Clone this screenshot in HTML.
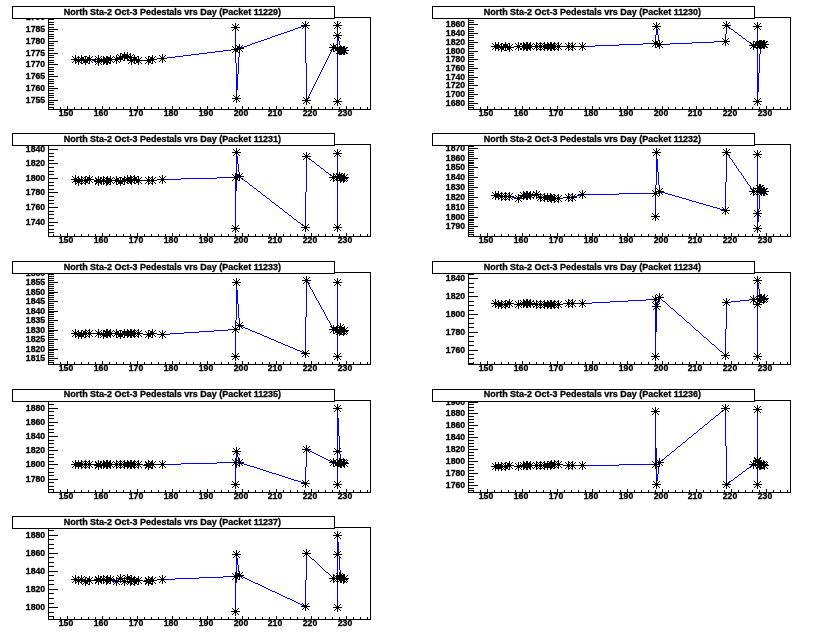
<!DOCTYPE html>
<html><head><meta charset="utf-8"><title>North Sta-2 Oct-3 Pedestals vrs Day</title>
<style>
html,body{margin:0;padding:0;background:#fff;}
svg{display:block;}
text{font-family:"Liberation Sans", Arial, Helvetica, sans-serif;font-weight:bold;fill:#000;stroke:#000;stroke-width:0.3px;}
.tt{font-size:8.97px;}
.yl{font-size:8.7px;}
.xl{font-size:8.7px;}
</style></head><body>
<svg width="840" height="638" viewBox="0 0 840 638" shape-rendering="crispEdges">
<rect x="0" y="0" width="840" height="638" fill="#fff"/>
<rect x="48.5" y="17.5" width="322" height="92" fill="none" stroke="#000" stroke-width="1"/>
<path d="M53 107h1v2h-1zM60 107h1v2h-1zM67 106h1v3h-1zM74 107h1v2h-1zM81 107h1v2h-1zM88 107h1v2h-1zM95 107h1v2h-1zM102 106h1v3h-1zM109 107h1v2h-1zM116 107h1v2h-1zM123 107h1v2h-1zM130 107h1v2h-1zM137 106h1v3h-1zM144 107h1v2h-1zM151 107h1v2h-1zM158 107h1v2h-1zM165 107h1v2h-1zM172 106h1v3h-1zM179 107h1v2h-1zM186 107h1v2h-1zM193 107h1v2h-1zM200 107h1v2h-1zM207 106h1v3h-1zM214 107h1v2h-1zM221 107h1v2h-1zM228 107h1v2h-1zM235 107h1v2h-1zM242 106h1v3h-1zM248 107h1v2h-1zM255 107h1v2h-1zM262 107h1v2h-1zM269 107h1v2h-1zM276 106h1v3h-1zM283 107h1v2h-1zM290 107h1v2h-1zM297 107h1v2h-1zM304 107h1v2h-1zM311 106h1v3h-1zM318 107h1v2h-1zM325 107h1v2h-1zM332 107h1v2h-1zM339 107h1v2h-1zM346 106h1v3h-1zM353 107h1v2h-1zM360 107h1v2h-1zM367 107h1v2h-1zM49 107h5v1h-5zM49 104h5v1h-5zM49 102h5v1h-5zM49 100h9v1h-9zM49 97h5v1h-5zM49 95h5v1h-5zM49 93h5v1h-5zM49 90h5v1h-5zM49 88h9v1h-9zM49 86h5v1h-5zM49 83h5v1h-5zM49 81h5v1h-5zM49 79h5v1h-5zM49 76h9v1h-9zM49 74h5v1h-5zM49 71h5v1h-5zM49 69h5v1h-5zM49 67h5v1h-5zM49 64h9v1h-9zM49 62h5v1h-5zM49 60h5v1h-5zM49 57h5v1h-5zM49 55h5v1h-5zM49 53h9v1h-9zM49 50h5v1h-5zM49 48h5v1h-5zM49 45h5v1h-5zM49 43h5v1h-5zM49 41h9v1h-9zM49 38h5v1h-5zM49 36h5v1h-5zM49 34h5v1h-5zM49 31h5v1h-5zM49 29h9v1h-9zM49 27h5v1h-5zM49 24h5v1h-5zM49 22h5v1h-5zM49 19h5v1h-5z" fill="#000"/>
<text x="45.2" y="103.0" text-anchor="end" class="yl">1755</text>
<text x="45.2" y="91.0" text-anchor="end" class="yl">1760</text>
<text x="45.2" y="79.0" text-anchor="end" class="yl">1765</text>
<text x="45.2" y="67.0" text-anchor="end" class="yl">1770</text>
<text x="45.2" y="56.0" text-anchor="end" class="yl">1775</text>
<text x="45.2" y="44.0" text-anchor="end" class="yl">1780</text>
<text x="45.2" y="32.0" text-anchor="end" class="yl">1785</text>
<text x="45.2" y="20.0" text-anchor="end" class="yl">1790</text>
<text x="66.0" y="116.2" text-anchor="middle" class="xl">150</text>
<text x="101.0" y="116.2" text-anchor="middle" class="xl">160</text>
<text x="136.0" y="116.2" text-anchor="middle" class="xl">170</text>
<text x="171.0" y="116.2" text-anchor="middle" class="xl">180</text>
<text x="206.0" y="116.2" text-anchor="middle" class="xl">190</text>
<text x="241.0" y="116.2" text-anchor="middle" class="xl">200</text>
<text x="275.0" y="116.2" text-anchor="middle" class="xl">210</text>
<text x="310.0" y="116.2" text-anchor="middle" class="xl">220</text>
<text x="345.0" y="116.2" text-anchor="middle" class="xl">230</text>
<path d="M304 25h2v1h-2zM337 25h1v1h-1zM301 26h3v1h-3zM305 26h1v1h-1zM337 26h1v1h-1zM235 27h1v1h-1zM298 27h3v1h-3zM305 27h1v1h-1zM337 27h1v1h-1zM235 28h1v1h-1zM295 28h3v1h-3zM305 28h1v1h-1zM337 28h1v1h-1zM235 29h1v1h-1zM293 29h2v1h-2zM305 29h1v1h-1zM337 29h1v1h-1zM235 30h1v1h-1zM290 30h3v1h-3zM305 30h1v1h-1zM337 30h1v1h-1zM235 31h1v1h-1zM287 31h3v1h-3zM305 31h1v1h-1zM337 31h1v1h-1zM235 32h1v1h-1zM284 32h3v1h-3zM305 32h1v1h-1zM337 32h1v1h-1zM235 33h1v1h-1zM281 33h3v1h-3zM305 33h1v1h-1zM337 33h1v1h-1zM235 34h1v1h-1zM278 34h3v1h-3zM305 34h1v1h-1zM337 34h1v1h-1zM235 35h1v1h-1zM275 35h3v1h-3zM305 35h1v1h-1zM337 35h1v1h-1zM235 36h1v1h-1zM272 36h3v1h-3zM305 36h1v1h-1zM337 36h1v1h-1zM235 37h1v1h-1zM270 37h2v1h-2zM305 37h1v1h-1zM337 37h2v1h-2zM235 38h1v1h-1zM267 38h3v1h-3zM305 38h1v1h-1zM337 38h2v1h-2zM235 39h1v1h-1zM264 39h3v1h-3zM305 39h1v1h-1zM337 39h2v1h-2zM235 40h1v1h-1zM261 40h3v1h-3zM305 40h1v1h-1zM337 40h2v1h-2zM235 41h1v1h-1zM258 41h3v1h-3zM305 41h1v1h-1zM337 41h1v1h-1zM339 41h1v1h-1zM235 42h1v1h-1zM255 42h3v1h-3zM305 42h1v1h-1zM337 42h1v1h-1zM339 42h1v1h-1zM235 43h1v1h-1zM252 43h3v1h-3zM305 43h1v1h-1zM337 43h1v1h-1zM339 43h1v1h-1zM235 44h1v1h-1zM250 44h2v1h-2zM305 44h1v1h-1zM337 44h1v1h-1zM339 44h1v1h-1zM235 45h1v1h-1zM247 45h3v1h-3zM305 45h1v1h-1zM337 45h1v1h-1zM340 45h1v1h-1zM235 46h1v1h-1zM244 46h3v1h-3zM305 46h1v1h-1zM337 46h1v1h-1zM340 46h1v1h-1zM235 47h1v1h-1zM241 47h3v1h-3zM305 47h1v1h-1zM333 47h2v1h-2zM337 47h1v1h-1zM340 47h1v1h-1zM235 48h1v1h-1zM239 48h2v1h-2zM305 48h1v1h-1zM332 48h1v1h-1zM335 48h3v1h-3zM340 48h1v1h-1zM231 49h5v1h-5zM239 49h1v1h-1zM305 49h1v1h-1zM332 49h1v1h-1zM337 49h1v1h-1zM341 49h1v1h-1zM223 50h8v1h-8zM235 50h1v1h-1zM239 50h1v1h-1zM305 50h1v1h-1zM331 50h1v1h-1zM337 50h1v1h-1zM339 50h6v1h-6zM215 51h8v1h-8zM235 51h1v1h-1zM239 51h1v1h-1zM305 51h1v1h-1zM331 51h1v1h-1zM337 51h1v1h-1zM207 52h8v1h-8zM235 52h1v1h-1zM239 52h1v1h-1zM305 52h1v1h-1zM330 52h1v1h-1zM337 52h1v1h-1zM199 53h8v1h-8zM235 53h1v1h-1zM239 53h1v1h-1zM305 53h1v1h-1zM330 53h1v1h-1zM337 53h1v1h-1zM191 54h8v1h-8zM235 54h1v1h-1zM239 54h1v1h-1zM305 54h1v1h-1zM329 54h1v1h-1zM337 54h1v1h-1zM183 55h8v1h-8zM235 55h1v1h-1zM239 55h1v1h-1zM305 55h1v1h-1zM329 55h1v1h-1zM337 55h1v1h-1zM122 56h7v1h-7zM175 56h8v1h-8zM235 56h1v1h-1zM239 56h1v1h-1zM305 56h1v1h-1zM328 56h1v1h-1zM337 56h1v1h-1zM119 57h3v1h-3zM129 57h2v1h-2zM167 57h8v1h-8zM235 57h1v1h-1zM238 57h1v1h-1zM305 57h1v1h-1zM328 57h1v1h-1zM337 57h1v1h-1zM117 58h2v1h-2zM130 58h1v1h-1zM157 58h10v1h-10zM235 58h1v1h-1zM238 58h1v1h-1zM305 58h1v1h-1zM327 58h1v1h-1zM337 58h1v1h-1zM75 59h2v1h-2zM80 59h3v1h-3zM87 59h5v1h-5zM98 59h3v1h-3zM109 59h8v1h-8zM131 59h1v1h-1zM133 59h3v1h-3zM150 59h7v1h-7zM235 59h1v1h-1zM238 59h1v1h-1zM305 59h1v1h-1zM327 59h1v1h-1zM337 59h1v1h-1zM77 60h3v1h-3zM83 60h4v1h-4zM92 60h4v1h-4zM98 60h1v1h-1zM101 60h8v1h-8zM131 60h2v1h-2zM136 60h14v1h-14zM235 60h1v1h-1zM238 60h1v1h-1zM305 60h1v1h-1zM326 60h1v1h-1zM337 60h1v1h-1zM96 61h3v1h-3zM235 61h1v1h-1zM238 61h1v1h-1zM305 61h1v1h-1zM326 61h1v1h-1zM337 61h1v1h-1zM235 62h1v1h-1zM238 62h1v1h-1zM305 62h1v1h-1zM325 62h1v1h-1zM337 62h1v1h-1zM236 63h1v1h-1zM238 63h1v1h-1zM306 63h1v1h-1zM325 63h1v1h-1zM337 63h1v1h-1zM236 64h1v1h-1zM238 64h1v1h-1zM306 64h1v1h-1zM324 64h1v1h-1zM337 64h1v1h-1zM236 65h1v1h-1zM238 65h1v1h-1zM306 65h1v1h-1zM324 65h1v1h-1zM337 65h1v1h-1zM236 66h1v1h-1zM238 66h1v1h-1zM306 66h1v1h-1zM323 66h1v1h-1zM337 66h1v1h-1zM236 67h1v1h-1zM238 67h1v1h-1zM306 67h1v1h-1zM323 67h1v1h-1zM337 67h1v1h-1zM236 68h1v1h-1zM238 68h1v1h-1zM306 68h1v1h-1zM322 68h1v1h-1zM337 68h1v1h-1zM236 69h1v1h-1zM238 69h1v1h-1zM306 69h1v1h-1zM322 69h1v1h-1zM337 69h1v1h-1zM236 70h1v1h-1zM238 70h1v1h-1zM306 70h1v1h-1zM321 70h1v1h-1zM337 70h1v1h-1zM236 71h1v1h-1zM238 71h1v1h-1zM306 71h1v1h-1zM321 71h1v1h-1zM337 71h1v1h-1zM236 72h1v1h-1zM238 72h1v1h-1zM306 72h1v1h-1zM320 72h1v1h-1zM337 72h1v1h-1zM236 73h1v1h-1zM238 73h1v1h-1zM306 73h1v1h-1zM320 73h1v1h-1zM337 73h1v1h-1zM236 74h2v1h-2zM306 74h1v1h-1zM319 74h1v1h-1zM337 74h1v1h-1zM236 75h2v1h-2zM306 75h1v1h-1zM319 75h1v1h-1zM337 75h1v1h-1zM236 76h2v1h-2zM306 76h1v1h-1zM318 76h1v1h-1zM337 76h1v1h-1zM236 77h2v1h-2zM306 77h1v1h-1zM318 77h1v1h-1zM337 77h1v1h-1zM236 78h2v1h-2zM306 78h1v1h-1zM317 78h1v1h-1zM337 78h1v1h-1zM236 79h2v1h-2zM306 79h1v1h-1zM317 79h1v1h-1zM337 79h1v1h-1zM236 80h2v1h-2zM306 80h1v1h-1zM316 80h1v1h-1zM337 80h1v1h-1zM236 81h2v1h-2zM306 81h1v1h-1zM316 81h1v1h-1zM337 81h1v1h-1zM236 82h2v1h-2zM306 82h1v1h-1zM315 82h1v1h-1zM337 82h1v1h-1zM236 83h2v1h-2zM306 83h1v1h-1zM315 83h1v1h-1zM337 83h1v1h-1zM236 84h2v1h-2zM306 84h1v1h-1zM314 84h1v1h-1zM337 84h1v1h-1zM236 85h2v1h-2zM306 85h1v1h-1zM314 85h1v1h-1zM337 85h1v1h-1zM236 86h2v1h-2zM306 86h1v1h-1zM313 86h1v1h-1zM337 86h1v1h-1zM236 87h2v1h-2zM306 87h1v1h-1zM313 87h1v1h-1zM337 87h1v1h-1zM236 88h2v1h-2zM306 88h1v1h-1zM312 88h1v1h-1zM337 88h1v1h-1zM236 89h2v1h-2zM306 89h1v1h-1zM312 89h1v1h-1zM337 89h1v1h-1zM236 90h1v1h-1zM306 90h1v1h-1zM311 90h1v1h-1zM337 90h1v1h-1zM236 91h1v1h-1zM306 91h1v1h-1zM311 91h1v1h-1zM337 91h1v1h-1zM236 92h1v1h-1zM306 92h1v1h-1zM310 92h1v1h-1zM337 92h1v1h-1zM236 93h1v1h-1zM306 93h1v1h-1zM310 93h1v1h-1zM337 93h1v1h-1zM236 94h1v1h-1zM306 94h1v1h-1zM309 94h1v1h-1zM337 94h1v1h-1zM236 95h1v1h-1zM306 95h1v1h-1zM309 95h1v1h-1zM337 95h1v1h-1zM236 96h1v1h-1zM306 96h1v1h-1zM308 96h1v1h-1zM337 96h1v1h-1zM236 97h1v1h-1zM306 97h1v1h-1zM308 97h1v1h-1zM337 97h1v1h-1zM236 98h1v1h-1zM306 98h2v1h-2zM337 98h1v1h-1zM306 99h2v1h-2zM337 99h1v1h-1zM306 100h1v1h-1zM337 100h1v1h-1zM337 101h1v1h-1z" fill="#0000ff"/>
<path d="M71 59h9v1h-9z M75 55h1v9h-1z M74 58h3v3h-3z M73 57h1v1h-1z M73 61h1v1h-1z M77 57h1v1h-1z M77 61h1v1h-1z M72 56h1v1h-1z M72 62h1v1h-1z M78 56h1v1h-1z M78 62h1v1h-1z M74 60h9v1h-9z M78 56h1v9h-1z M77 59h3v3h-3z M76 58h1v1h-1z M76 62h1v1h-1z M80 58h1v1h-1z M80 62h1v1h-1z M75 57h1v1h-1z M75 63h1v1h-1z M81 57h1v1h-1z M81 63h1v1h-1z M77 59h9v1h-9z M81 55h1v9h-1z M80 58h3v3h-3z M79 57h1v1h-1z M79 61h1v1h-1z M83 57h1v1h-1z M83 61h1v1h-1z M78 56h1v1h-1z M78 62h1v1h-1z M84 56h1v1h-1z M84 62h1v1h-1z M81 60h9v1h-9z M85 56h1v9h-1z M84 59h3v3h-3z M83 58h1v1h-1z M83 62h1v1h-1z M87 58h1v1h-1z M87 62h1v1h-1z M82 57h1v1h-1z M82 63h1v1h-1z M88 57h1v1h-1z M88 63h1v1h-1z M85 59h9v1h-9z M89 55h1v9h-1z M88 58h3v3h-3z M87 57h1v1h-1z M87 61h1v1h-1z M91 57h1v1h-1z M91 61h1v1h-1z M86 56h1v1h-1z M86 62h1v1h-1z M92 56h1v1h-1z M92 62h1v1h-1z M94 61h9v1h-9z M98 57h1v9h-1z M97 60h3v3h-3z M96 59h1v1h-1z M96 63h1v1h-1z M100 59h1v1h-1z M100 63h1v1h-1z M95 58h1v1h-1z M95 64h1v1h-1z M101 58h1v1h-1z M101 64h1v1h-1z M94 59h9v1h-9z M98 55h1v9h-1z M97 58h3v3h-3z M96 57h1v1h-1z M96 61h1v1h-1z M100 57h1v1h-1z M100 61h1v1h-1z M95 56h1v1h-1z M95 62h1v1h-1z M101 56h1v1h-1z M101 62h1v1h-1z M99 60h9v1h-9z M103 56h1v9h-1z M102 59h3v3h-3z M101 58h1v1h-1z M101 62h1v1h-1z M105 58h1v1h-1z M105 62h1v1h-1z M100 57h1v1h-1z M100 63h1v1h-1z M106 57h1v1h-1z M106 63h1v1h-1z M102 60h9v1h-9z M106 56h1v9h-1z M105 59h3v3h-3z M104 58h1v1h-1z M104 62h1v1h-1z M108 58h1v1h-1z M108 62h1v1h-1z M103 57h1v1h-1z M103 63h1v1h-1z M109 57h1v1h-1z M109 63h1v1h-1z M103 60h9v1h-9z M107 56h1v9h-1z M106 59h3v3h-3z M105 58h1v1h-1z M105 62h1v1h-1z M109 58h1v1h-1z M109 62h1v1h-1z M104 57h1v1h-1z M104 63h1v1h-1z M110 57h1v1h-1z M110 63h1v1h-1z M106 59h9v1h-9z M110 55h1v9h-1z M109 58h3v3h-3z M108 57h1v1h-1z M108 61h1v1h-1z M112 57h1v1h-1z M112 61h1v1h-1z M107 56h1v1h-1z M107 62h1v1h-1z M113 56h1v1h-1z M113 62h1v1h-1z M112 59h9v1h-9z M116 55h1v9h-1z M115 58h3v3h-3z M114 57h1v1h-1z M114 61h1v1h-1z M118 57h1v1h-1z M118 61h1v1h-1z M113 56h1v1h-1z M113 62h1v1h-1z M119 56h1v1h-1z M119 62h1v1h-1z M116 57h9v1h-9z M120 53h1v9h-1z M119 56h3v3h-3z M118 55h1v1h-1z M118 59h1v1h-1z M122 55h1v1h-1z M122 59h1v1h-1z M117 54h1v1h-1z M117 60h1v1h-1z M123 54h1v1h-1z M123 60h1v1h-1z M120 56h9v1h-9z M124 52h1v9h-1z M123 55h3v3h-3z M122 54h1v1h-1z M122 58h1v1h-1z M126 54h1v1h-1z M126 58h1v1h-1z M121 53h1v1h-1z M121 59h1v1h-1z M127 53h1v1h-1z M127 59h1v1h-1z M123 56h9v1h-9z M127 52h1v9h-1z M126 55h3v3h-3z M125 54h1v1h-1z M125 58h1v1h-1z M129 54h1v1h-1z M129 58h1v1h-1z M124 53h1v1h-1z M124 59h1v1h-1z M130 53h1v1h-1z M130 59h1v1h-1z M126 57h9v1h-9z M130 53h1v9h-1z M129 56h3v3h-3z M128 55h1v1h-1z M128 59h1v1h-1z M132 55h1v1h-1z M132 59h1v1h-1z M127 54h1v1h-1z M127 60h1v1h-1z M133 54h1v1h-1z M133 60h1v1h-1z M127 60h9v1h-9z M131 56h1v9h-1z M130 59h3v3h-3z M129 58h1v1h-1z M129 62h1v1h-1z M133 58h1v1h-1z M133 62h1v1h-1z M128 57h1v1h-1z M128 63h1v1h-1z M134 57h1v1h-1z M134 63h1v1h-1z M130 59h9v1h-9z M134 55h1v9h-1z M133 58h3v3h-3z M132 57h1v1h-1z M132 61h1v1h-1z M136 57h1v1h-1z M136 61h1v1h-1z M131 56h1v1h-1z M131 62h1v1h-1z M137 56h1v1h-1z M137 62h1v1h-1z M134 60h9v1h-9z M138 56h1v9h-1z M137 59h3v3h-3z M136 58h1v1h-1z M136 62h1v1h-1z M140 58h1v1h-1z M140 62h1v1h-1z M135 57h1v1h-1z M135 63h1v1h-1z M141 57h1v1h-1z M141 63h1v1h-1z M144 60h9v1h-9z M148 56h1v9h-1z M147 59h3v3h-3z M146 58h1v1h-1z M146 62h1v1h-1z M150 58h1v1h-1z M150 62h1v1h-1z M145 57h1v1h-1z M145 63h1v1h-1z M151 57h1v1h-1z M151 63h1v1h-1z M144 60h9v1h-9z M148 56h1v9h-1z M147 59h3v3h-3z M146 58h1v1h-1z M146 62h1v1h-1z M150 58h1v1h-1z M150 62h1v1h-1z M145 57h1v1h-1z M145 63h1v1h-1z M151 57h1v1h-1z M151 63h1v1h-1z M148 59h9v1h-9z M152 55h1v9h-1z M151 58h3v3h-3z M150 57h1v1h-1z M150 61h1v1h-1z M154 57h1v1h-1z M154 61h1v1h-1z M149 56h1v1h-1z M149 62h1v1h-1z M155 56h1v1h-1z M155 62h1v1h-1z M158 58h9v1h-9z M162 54h1v9h-1z M161 57h3v3h-3z M160 56h1v1h-1z M160 60h1v1h-1z M164 56h1v1h-1z M164 60h1v1h-1z M159 55h1v1h-1z M159 61h1v1h-1z M165 55h1v1h-1z M165 61h1v1h-1z M231 49h9v1h-9z M235 45h1v9h-1z M234 48h3v3h-3z M233 47h1v1h-1z M233 51h1v1h-1z M237 47h1v1h-1z M237 51h1v1h-1z M232 46h1v1h-1z M232 52h1v1h-1z M238 46h1v1h-1z M238 52h1v1h-1z M231 27h9v1h-9z M235 23h1v9h-1z M234 26h3v3h-3z M233 25h1v1h-1z M233 29h1v1h-1z M237 25h1v1h-1z M237 29h1v1h-1z M232 24h1v1h-1z M232 30h1v1h-1z M238 24h1v1h-1z M238 30h1v1h-1z M232 98h9v1h-9z M236 94h1v9h-1z M235 97h3v3h-3z M234 96h1v1h-1z M234 100h1v1h-1z M238 96h1v1h-1z M238 100h1v1h-1z M233 95h1v1h-1z M233 101h1v1h-1z M239 95h1v1h-1z M239 101h1v1h-1z M235 48h9v1h-9z M239 44h1v9h-1z M238 47h3v3h-3z M237 46h1v1h-1z M237 50h1v1h-1z M241 46h1v1h-1z M241 50h1v1h-1z M236 45h1v1h-1z M236 51h1v1h-1z M242 45h1v1h-1z M242 51h1v1h-1z M301 25h9v1h-9z M305 21h1v9h-1z M304 24h3v3h-3z M303 23h1v1h-1z M303 27h1v1h-1z M307 23h1v1h-1z M307 27h1v1h-1z M302 22h1v1h-1z M302 28h1v1h-1z M308 22h1v1h-1z M308 28h1v1h-1z M302 100h9v1h-9z M306 96h1v9h-1z M305 99h3v3h-3z M304 98h1v1h-1z M304 102h1v1h-1z M308 98h1v1h-1z M308 102h1v1h-1z M303 97h1v1h-1z M303 103h1v1h-1z M309 97h1v1h-1z M309 103h1v1h-1z M329 47h9v1h-9z M333 43h1v9h-1z M332 46h3v3h-3z M331 45h1v1h-1z M331 49h1v1h-1z M335 45h1v1h-1z M335 49h1v1h-1z M330 44h1v1h-1z M330 50h1v1h-1z M336 44h1v1h-1z M336 50h1v1h-1z M333 48h9v1h-9z M337 44h1v9h-1z M336 47h3v3h-3z M335 46h1v1h-1z M335 50h1v1h-1z M339 46h1v1h-1z M339 50h1v1h-1z M334 45h1v1h-1z M334 51h1v1h-1z M340 45h1v1h-1z M340 51h1v1h-1z M333 101h9v1h-9z M337 97h1v9h-1z M336 100h3v3h-3z M335 99h1v1h-1z M335 103h1v1h-1z M339 99h1v1h-1z M339 103h1v1h-1z M334 98h1v1h-1z M334 104h1v1h-1z M340 98h1v1h-1z M340 104h1v1h-1z M333 25h9v1h-9z M337 21h1v9h-1z M336 24h3v3h-3z M335 23h1v1h-1z M335 27h1v1h-1z M339 23h1v1h-1z M339 27h1v1h-1z M334 22h1v1h-1z M334 28h1v1h-1z M340 22h1v1h-1z M340 28h1v1h-1z M333 35h9v1h-9z M337 31h1v9h-1z M336 34h3v3h-3z M335 33h1v1h-1z M335 37h1v1h-1z M339 33h1v1h-1z M339 37h1v1h-1z M334 32h1v1h-1z M334 38h1v1h-1z M340 32h1v1h-1z M340 38h1v1h-1z M337 50h9v1h-9z M341 46h1v9h-1z M340 49h3v3h-3z M339 48h1v1h-1z M339 52h1v1h-1z M343 48h1v1h-1z M343 52h1v1h-1z M338 47h1v1h-1z M338 53h1v1h-1z M344 47h1v1h-1z M344 53h1v1h-1z M335 50h9v1h-9z M339 46h1v9h-1z M338 49h3v3h-3z M337 48h1v1h-1z M337 52h1v1h-1z M341 48h1v1h-1z M341 52h1v1h-1z M336 47h1v1h-1z M336 53h1v1h-1z M342 47h1v1h-1z M342 53h1v1h-1z M336 50h9v1h-9z M340 46h1v9h-1z M339 49h3v3h-3z M338 48h1v1h-1z M338 52h1v1h-1z M342 48h1v1h-1z M342 52h1v1h-1z M337 47h1v1h-1z M337 53h1v1h-1z M343 47h1v1h-1z M343 53h1v1h-1z M339 50h9v1h-9z M343 46h1v9h-1z M342 49h3v3h-3z M341 48h1v1h-1z M341 52h1v1h-1z M345 48h1v1h-1z M345 52h1v1h-1z M340 47h1v1h-1z M340 53h1v1h-1z M346 47h1v1h-1z M346 53h1v1h-1z M340 50h9v1h-9z M344 46h1v9h-1z M343 49h3v3h-3z M342 48h1v1h-1z M342 52h1v1h-1z M346 48h1v1h-1z M346 52h1v1h-1z M341 47h1v1h-1z M341 53h1v1h-1z M347 47h1v1h-1z M347 53h1v1h-1z" fill="#000"/>
<rect x="12.5" y="6.5" width="322" height="12" fill="#fff" stroke="#000" stroke-width="1"/>
<text x="172.4" y="14.8" text-anchor="middle" class="tt">North Sta-2 Oct-3 Pedestals vrs Day (Packet 11229)</text>
<rect x="468.5" y="17.5" width="322" height="92" fill="none" stroke="#000" stroke-width="1"/>
<path d="M473 107h1v2h-1zM480 107h1v2h-1zM487 106h1v3h-1zM494 107h1v2h-1zM501 107h1v2h-1zM508 107h1v2h-1zM515 107h1v2h-1zM522 106h1v3h-1zM529 107h1v2h-1zM536 107h1v2h-1zM543 107h1v2h-1zM550 107h1v2h-1zM557 106h1v3h-1zM564 107h1v2h-1zM571 107h1v2h-1zM578 107h1v2h-1zM585 107h1v2h-1zM592 106h1v3h-1zM599 107h1v2h-1zM606 107h1v2h-1zM613 107h1v2h-1zM620 107h1v2h-1zM627 106h1v3h-1zM634 107h1v2h-1zM641 107h1v2h-1zM648 107h1v2h-1zM655 107h1v2h-1zM662 106h1v3h-1zM668 107h1v2h-1zM675 107h1v2h-1zM682 107h1v2h-1zM689 107h1v2h-1zM696 106h1v3h-1zM703 107h1v2h-1zM710 107h1v2h-1zM717 107h1v2h-1zM724 107h1v2h-1zM731 106h1v3h-1zM738 107h1v2h-1zM745 107h1v2h-1zM752 107h1v2h-1zM759 107h1v2h-1zM766 106h1v3h-1zM773 107h1v2h-1zM780 107h1v2h-1zM787 107h1v2h-1zM469 107h5v1h-5zM469 105h5v1h-5zM469 103h9v1h-9zM469 101h5v1h-5zM469 98h5v1h-5zM469 96h5v1h-5zM469 94h9v1h-9zM469 92h5v1h-5zM469 90h5v1h-5zM469 88h5v1h-5zM469 85h9v1h-9zM469 83h5v1h-5zM469 81h5v1h-5zM469 79h5v1h-5zM469 77h9v1h-9zM469 75h5v1h-5zM469 72h5v1h-5zM469 70h5v1h-5zM469 68h9v1h-9zM469 66h5v1h-5zM469 64h5v1h-5zM469 61h5v1h-5zM469 59h9v1h-9zM469 57h5v1h-5zM469 55h5v1h-5zM469 53h5v1h-5zM469 51h9v1h-9zM469 48h5v1h-5zM469 46h5v1h-5zM469 44h5v1h-5zM469 42h9v1h-9zM469 40h5v1h-5zM469 37h5v1h-5zM469 35h5v1h-5zM469 33h9v1h-9zM469 31h5v1h-5zM469 29h5v1h-5zM469 27h5v1h-5zM469 24h9v1h-9zM469 22h5v1h-5zM469 20h5v1h-5zM469 18h5v1h-5z" fill="#000"/>
<text x="465.2" y="106.0" text-anchor="end" class="yl">1680</text>
<text x="465.2" y="97.0" text-anchor="end" class="yl">1700</text>
<text x="465.2" y="88.0" text-anchor="end" class="yl">1720</text>
<text x="465.2" y="80.0" text-anchor="end" class="yl">1740</text>
<text x="465.2" y="71.0" text-anchor="end" class="yl">1760</text>
<text x="465.2" y="62.0" text-anchor="end" class="yl">1780</text>
<text x="465.2" y="54.0" text-anchor="end" class="yl">1800</text>
<text x="465.2" y="45.0" text-anchor="end" class="yl">1820</text>
<text x="465.2" y="36.0" text-anchor="end" class="yl">1840</text>
<text x="465.2" y="27.0" text-anchor="end" class="yl">1860</text>
<text x="486.0" y="116.2" text-anchor="middle" class="xl">150</text>
<text x="521.0" y="116.2" text-anchor="middle" class="xl">160</text>
<text x="556.0" y="116.2" text-anchor="middle" class="xl">170</text>
<text x="591.0" y="116.2" text-anchor="middle" class="xl">180</text>
<text x="626.0" y="116.2" text-anchor="middle" class="xl">190</text>
<text x="661.0" y="116.2" text-anchor="middle" class="xl">200</text>
<text x="695.0" y="116.2" text-anchor="middle" class="xl">210</text>
<text x="730.0" y="116.2" text-anchor="middle" class="xl">220</text>
<text x="765.0" y="116.2" text-anchor="middle" class="xl">230</text>
<path d="M726 25h1v1h-1zM656 26h1v1h-1zM726 26h3v1h-3zM757 26h1v1h-1zM656 27h1v1h-1zM726 27h1v1h-1zM729 27h1v1h-1zM757 27h1v1h-1zM656 28h1v1h-1zM726 28h1v1h-1zM730 28h1v1h-1zM757 28h1v1h-1zM656 29h2v1h-2zM726 29h1v1h-1zM731 29h2v1h-2zM757 29h1v1h-1zM656 30h2v1h-2zM726 30h1v1h-1zM733 30h1v1h-1zM757 30h1v1h-1zM656 31h2v1h-2zM726 31h1v1h-1zM734 31h1v1h-1zM757 31h1v1h-1zM656 32h2v1h-2zM726 32h1v1h-1zM735 32h2v1h-2zM757 32h1v1h-1zM656 33h2v1h-2zM726 33h1v1h-1zM737 33h1v1h-1zM757 33h1v1h-1zM656 34h2v1h-2zM725 34h1v1h-1zM738 34h1v1h-1zM757 34h1v1h-1zM655 35h1v1h-1zM658 35h1v1h-1zM725 35h1v1h-1zM739 35h2v1h-2zM757 35h1v1h-1zM655 36h1v1h-1zM658 36h1v1h-1zM725 36h1v1h-1zM741 36h1v1h-1zM757 36h1v1h-1zM655 37h1v1h-1zM658 37h1v1h-1zM725 37h1v1h-1zM742 37h1v1h-1zM757 37h1v1h-1zM655 38h1v1h-1zM658 38h1v1h-1zM725 38h1v1h-1zM743 38h2v1h-2zM757 38h1v1h-1zM655 39h1v1h-1zM658 39h1v1h-1zM725 39h1v1h-1zM745 39h1v1h-1zM757 39h1v1h-1zM655 40h1v1h-1zM658 40h1v1h-1zM725 40h1v1h-1zM746 40h1v1h-1zM757 40h1v1h-1zM655 41h1v1h-1zM659 41h1v1h-1zM714 41h12v1h-12zM747 41h2v1h-2zM757 41h1v1h-1zM655 42h1v1h-1zM659 42h1v1h-1zM692 42h22v1h-22zM749 42h1v1h-1zM757 42h1v1h-1zM643 43h13v1h-13zM659 43h1v1h-1zM670 43h22v1h-22zM750 43h1v1h-1zM757 43h1v1h-1zM619 44h24v1h-24zM659 44h11v1h-11zM751 44h2v1h-2zM755 44h3v1h-3zM759 44h6v1h-6zM595 45h24v1h-24zM753 45h2v1h-2zM757 45h1v1h-1zM760 45h1v1h-1zM495 46h5v1h-5zM503 46h4v1h-4zM514 46h81v1h-81zM757 46h1v1h-1zM760 46h1v1h-1zM500 47h3v1h-3zM507 47h7v1h-7zM757 47h1v1h-1zM760 47h1v1h-1zM757 48h1v1h-1zM760 48h1v1h-1zM757 49h1v1h-1zM760 49h1v1h-1zM757 50h1v1h-1zM760 50h1v1h-1zM757 51h1v1h-1zM760 51h1v1h-1zM757 52h1v1h-1zM760 52h1v1h-1zM757 53h1v1h-1zM760 53h1v1h-1zM757 54h1v1h-1zM759 54h1v1h-1zM757 55h1v1h-1zM759 55h1v1h-1zM757 56h1v1h-1zM759 56h1v1h-1zM757 57h1v1h-1zM759 57h1v1h-1zM757 58h1v1h-1zM759 58h1v1h-1zM757 59h1v1h-1zM759 59h1v1h-1zM757 60h1v1h-1zM759 60h1v1h-1zM757 61h1v1h-1zM759 61h1v1h-1zM757 62h1v1h-1zM759 62h1v1h-1zM757 63h1v1h-1zM759 63h1v1h-1zM757 64h1v1h-1zM759 64h1v1h-1zM757 65h1v1h-1zM759 65h1v1h-1zM757 66h1v1h-1zM759 66h1v1h-1zM757 67h1v1h-1zM759 67h1v1h-1zM757 68h1v1h-1zM759 68h1v1h-1zM757 69h1v1h-1zM759 69h1v1h-1zM757 70h1v1h-1zM759 70h1v1h-1zM757 71h1v1h-1zM759 71h1v1h-1zM757 72h1v1h-1zM759 72h1v1h-1zM757 73h2v1h-2zM757 74h2v1h-2zM757 75h2v1h-2zM757 76h2v1h-2zM757 77h2v1h-2zM757 78h2v1h-2zM757 79h2v1h-2zM757 80h2v1h-2zM757 81h2v1h-2zM757 82h2v1h-2zM757 83h2v1h-2zM757 84h2v1h-2zM757 85h2v1h-2zM757 86h2v1h-2zM757 87h2v1h-2zM757 88h2v1h-2zM757 89h2v1h-2zM757 90h2v1h-2zM757 91h2v1h-2zM757 92h1v1h-1zM757 93h1v1h-1zM757 94h1v1h-1zM757 95h1v1h-1zM757 96h1v1h-1zM757 97h1v1h-1zM757 98h1v1h-1zM757 99h1v1h-1zM757 100h1v1h-1zM757 101h1v1h-1z" fill="#0000ff"/>
<path d="M491 46h9v1h-9z M495 42h1v9h-1z M494 45h3v3h-3z M493 44h1v1h-1z M493 48h1v1h-1z M497 44h1v1h-1z M497 48h1v1h-1z M492 43h1v1h-1z M492 49h1v1h-1z M498 43h1v1h-1z M498 49h1v1h-1z M494 46h9v1h-9z M498 42h1v9h-1z M497 45h3v3h-3z M496 44h1v1h-1z M496 48h1v1h-1z M500 44h1v1h-1z M500 48h1v1h-1z M495 43h1v1h-1z M495 49h1v1h-1z M501 43h1v1h-1z M501 49h1v1h-1z M497 47h9v1h-9z M501 43h1v9h-1z M500 46h3v3h-3z M499 45h1v1h-1z M499 49h1v1h-1z M503 45h1v1h-1z M503 49h1v1h-1z M498 44h1v1h-1z M498 50h1v1h-1z M504 44h1v1h-1z M504 50h1v1h-1z M501 46h9v1h-9z M505 42h1v9h-1z M504 45h3v3h-3z M503 44h1v1h-1z M503 48h1v1h-1z M507 44h1v1h-1z M507 48h1v1h-1z M502 43h1v1h-1z M502 49h1v1h-1z M508 43h1v1h-1z M508 49h1v1h-1z M505 47h9v1h-9z M509 43h1v9h-1z M508 46h3v3h-3z M507 45h1v1h-1z M507 49h1v1h-1z M511 45h1v1h-1z M511 49h1v1h-1z M506 44h1v1h-1z M506 50h1v1h-1z M512 44h1v1h-1z M512 50h1v1h-1z M514 46h9v1h-9z M518 42h1v9h-1z M517 45h3v3h-3z M516 44h1v1h-1z M516 48h1v1h-1z M520 44h1v1h-1z M520 48h1v1h-1z M515 43h1v1h-1z M515 49h1v1h-1z M521 43h1v1h-1z M521 49h1v1h-1z M514 46h9v1h-9z M518 42h1v9h-1z M517 45h3v3h-3z M516 44h1v1h-1z M516 48h1v1h-1z M520 44h1v1h-1z M520 48h1v1h-1z M515 43h1v1h-1z M515 49h1v1h-1z M521 43h1v1h-1z M521 49h1v1h-1z M519 46h9v1h-9z M523 42h1v9h-1z M522 45h3v3h-3z M521 44h1v1h-1z M521 48h1v1h-1z M525 44h1v1h-1z M525 48h1v1h-1z M520 43h1v1h-1z M520 49h1v1h-1z M526 43h1v1h-1z M526 49h1v1h-1z M522 46h9v1h-9z M526 42h1v9h-1z M525 45h3v3h-3z M524 44h1v1h-1z M524 48h1v1h-1z M528 44h1v1h-1z M528 48h1v1h-1z M523 43h1v1h-1z M523 49h1v1h-1z M529 43h1v1h-1z M529 49h1v1h-1z M523 46h9v1h-9z M527 42h1v9h-1z M526 45h3v3h-3z M525 44h1v1h-1z M525 48h1v1h-1z M529 44h1v1h-1z M529 48h1v1h-1z M524 43h1v1h-1z M524 49h1v1h-1z M530 43h1v1h-1z M530 49h1v1h-1z M526 46h9v1h-9z M530 42h1v9h-1z M529 45h3v3h-3z M528 44h1v1h-1z M528 48h1v1h-1z M532 44h1v1h-1z M532 48h1v1h-1z M527 43h1v1h-1z M527 49h1v1h-1z M533 43h1v1h-1z M533 49h1v1h-1z M532 46h9v1h-9z M536 42h1v9h-1z M535 45h3v3h-3z M534 44h1v1h-1z M534 48h1v1h-1z M538 44h1v1h-1z M538 48h1v1h-1z M533 43h1v1h-1z M533 49h1v1h-1z M539 43h1v1h-1z M539 49h1v1h-1z M536 46h9v1h-9z M540 42h1v9h-1z M539 45h3v3h-3z M538 44h1v1h-1z M538 48h1v1h-1z M542 44h1v1h-1z M542 48h1v1h-1z M537 43h1v1h-1z M537 49h1v1h-1z M543 43h1v1h-1z M543 49h1v1h-1z M540 46h9v1h-9z M544 42h1v9h-1z M543 45h3v3h-3z M542 44h1v1h-1z M542 48h1v1h-1z M546 44h1v1h-1z M546 48h1v1h-1z M541 43h1v1h-1z M541 49h1v1h-1z M547 43h1v1h-1z M547 49h1v1h-1z M543 46h9v1h-9z M547 42h1v9h-1z M546 45h3v3h-3z M545 44h1v1h-1z M545 48h1v1h-1z M549 44h1v1h-1z M549 48h1v1h-1z M544 43h1v1h-1z M544 49h1v1h-1z M550 43h1v1h-1z M550 49h1v1h-1z M546 46h9v1h-9z M550 42h1v9h-1z M549 45h3v3h-3z M548 44h1v1h-1z M548 48h1v1h-1z M552 44h1v1h-1z M552 48h1v1h-1z M547 43h1v1h-1z M547 49h1v1h-1z M553 43h1v1h-1z M553 49h1v1h-1z M547 46h9v1h-9z M551 42h1v9h-1z M550 45h3v3h-3z M549 44h1v1h-1z M549 48h1v1h-1z M553 44h1v1h-1z M553 48h1v1h-1z M548 43h1v1h-1z M548 49h1v1h-1z M554 43h1v1h-1z M554 49h1v1h-1z M550 46h9v1h-9z M554 42h1v9h-1z M553 45h3v3h-3z M552 44h1v1h-1z M552 48h1v1h-1z M556 44h1v1h-1z M556 48h1v1h-1z M551 43h1v1h-1z M551 49h1v1h-1z M557 43h1v1h-1z M557 49h1v1h-1z M554 46h9v1h-9z M558 42h1v9h-1z M557 45h3v3h-3z M556 44h1v1h-1z M556 48h1v1h-1z M560 44h1v1h-1z M560 48h1v1h-1z M555 43h1v1h-1z M555 49h1v1h-1z M561 43h1v1h-1z M561 49h1v1h-1z M564 46h9v1h-9z M568 42h1v9h-1z M567 45h3v3h-3z M566 44h1v1h-1z M566 48h1v1h-1z M570 44h1v1h-1z M570 48h1v1h-1z M565 43h1v1h-1z M565 49h1v1h-1z M571 43h1v1h-1z M571 49h1v1h-1z M564 46h9v1h-9z M568 42h1v9h-1z M567 45h3v3h-3z M566 44h1v1h-1z M566 48h1v1h-1z M570 44h1v1h-1z M570 48h1v1h-1z M565 43h1v1h-1z M565 49h1v1h-1z M571 43h1v1h-1z M571 49h1v1h-1z M568 46h9v1h-9z M572 42h1v9h-1z M571 45h3v3h-3z M570 44h1v1h-1z M570 48h1v1h-1z M574 44h1v1h-1z M574 48h1v1h-1z M569 43h1v1h-1z M569 49h1v1h-1z M575 43h1v1h-1z M575 49h1v1h-1z M578 46h9v1h-9z M582 42h1v9h-1z M581 45h3v3h-3z M580 44h1v1h-1z M580 48h1v1h-1z M584 44h1v1h-1z M584 48h1v1h-1z M579 43h1v1h-1z M579 49h1v1h-1z M585 43h1v1h-1z M585 49h1v1h-1z M651 43h9v1h-9z M655 39h1v9h-1z M654 42h3v3h-3z M653 41h1v1h-1z M653 45h1v1h-1z M657 41h1v1h-1z M657 45h1v1h-1z M652 40h1v1h-1z M652 46h1v1h-1z M658 40h1v1h-1z M658 46h1v1h-1z M652 26h9v1h-9z M656 22h1v9h-1z M655 25h3v3h-3z M654 24h1v1h-1z M654 28h1v1h-1z M658 24h1v1h-1z M658 28h1v1h-1z M653 23h1v1h-1z M653 29h1v1h-1z M659 23h1v1h-1z M659 29h1v1h-1z M655 44h9v1h-9z M659 40h1v9h-1z M658 43h3v3h-3z M657 42h1v1h-1z M657 46h1v1h-1z M661 42h1v1h-1z M661 46h1v1h-1z M656 41h1v1h-1z M656 47h1v1h-1z M662 41h1v1h-1z M662 47h1v1h-1z M655 44h9v1h-9z M659 40h1v9h-1z M658 43h3v3h-3z M657 42h1v1h-1z M657 46h1v1h-1z M661 42h1v1h-1z M661 46h1v1h-1z M656 41h1v1h-1z M656 47h1v1h-1z M662 41h1v1h-1z M662 47h1v1h-1z M721 41h9v1h-9z M725 37h1v9h-1z M724 40h3v3h-3z M723 39h1v1h-1z M723 43h1v1h-1z M727 39h1v1h-1z M727 43h1v1h-1z M722 38h1v1h-1z M722 44h1v1h-1z M728 38h1v1h-1z M728 44h1v1h-1z M722 25h9v1h-9z M726 21h1v9h-1z M725 24h3v3h-3z M724 23h1v1h-1z M724 27h1v1h-1z M728 23h1v1h-1z M728 27h1v1h-1z M723 22h1v1h-1z M723 28h1v1h-1z M729 22h1v1h-1z M729 28h1v1h-1z M749 45h9v1h-9z M753 41h1v9h-1z M752 44h3v3h-3z M751 43h1v1h-1z M751 47h1v1h-1z M755 43h1v1h-1z M755 47h1v1h-1z M750 42h1v1h-1z M750 48h1v1h-1z M756 42h1v1h-1z M756 48h1v1h-1z M753 44h9v1h-9z M757 40h1v9h-1z M756 43h3v3h-3z M755 42h1v1h-1z M755 46h1v1h-1z M759 42h1v1h-1z M759 46h1v1h-1z M754 41h1v1h-1z M754 47h1v1h-1z M760 41h1v1h-1z M760 47h1v1h-1z M753 26h9v1h-9z M757 22h1v9h-1z M756 25h3v3h-3z M755 24h1v1h-1z M755 28h1v1h-1z M759 24h1v1h-1z M759 28h1v1h-1z M754 23h1v1h-1z M754 29h1v1h-1z M760 23h1v1h-1z M760 29h1v1h-1z M753 44h9v1h-9z M757 40h1v9h-1z M756 43h3v3h-3z M755 42h1v1h-1z M755 46h1v1h-1z M759 42h1v1h-1z M759 46h1v1h-1z M754 41h1v1h-1z M754 47h1v1h-1z M760 41h1v1h-1z M760 47h1v1h-1z M753 101h9v1h-9z M757 97h1v9h-1z M756 100h3v3h-3z M755 99h1v1h-1z M755 103h1v1h-1z M759 99h1v1h-1z M759 103h1v1h-1z M754 98h1v1h-1z M754 104h1v1h-1z M760 98h1v1h-1z M760 104h1v1h-1z M756 44h9v1h-9z M760 40h1v9h-1z M759 43h3v3h-3z M758 42h1v1h-1z M758 46h1v1h-1z M762 42h1v1h-1z M762 46h1v1h-1z M757 41h1v1h-1z M757 47h1v1h-1z M763 41h1v1h-1z M763 47h1v1h-1z M755 44h9v1h-9z M759 40h1v9h-1z M758 43h3v3h-3z M757 42h1v1h-1z M757 46h1v1h-1z M761 42h1v1h-1z M761 46h1v1h-1z M756 41h1v1h-1z M756 47h1v1h-1z M762 41h1v1h-1z M762 47h1v1h-1z M757 44h9v1h-9z M761 40h1v9h-1z M760 43h3v3h-3z M759 42h1v1h-1z M759 46h1v1h-1z M763 42h1v1h-1z M763 46h1v1h-1z M758 41h1v1h-1z M758 47h1v1h-1z M764 41h1v1h-1z M764 47h1v1h-1z M759 44h9v1h-9z M763 40h1v9h-1z M762 43h3v3h-3z M761 42h1v1h-1z M761 46h1v1h-1z M765 42h1v1h-1z M765 46h1v1h-1z M760 41h1v1h-1z M760 47h1v1h-1z M766 41h1v1h-1z M766 47h1v1h-1z M760 44h9v1h-9z M764 40h1v9h-1z M763 43h3v3h-3z M762 42h1v1h-1z M762 46h1v1h-1z M766 42h1v1h-1z M766 46h1v1h-1z M761 41h1v1h-1z M761 47h1v1h-1z M767 41h1v1h-1z M767 47h1v1h-1z" fill="#000"/>
<rect x="432.5" y="6.5" width="322" height="12" fill="#fff" stroke="#000" stroke-width="1"/>
<text x="592.4" y="14.8" text-anchor="middle" class="tt">North Sta-2 Oct-3 Pedestals vrs Day (Packet 11230)</text>
<rect x="48.5" y="144.5" width="322" height="92" fill="none" stroke="#000" stroke-width="1"/>
<path d="M53 234h1v2h-1zM60 234h1v2h-1zM67 233h1v3h-1zM74 234h1v2h-1zM81 234h1v2h-1zM88 234h1v2h-1zM95 234h1v2h-1zM102 233h1v3h-1zM109 234h1v2h-1zM116 234h1v2h-1zM123 234h1v2h-1zM130 234h1v2h-1zM137 233h1v3h-1zM144 234h1v2h-1zM151 234h1v2h-1zM158 234h1v2h-1zM165 234h1v2h-1zM172 233h1v3h-1zM179 234h1v2h-1zM186 234h1v2h-1zM193 234h1v2h-1zM200 234h1v2h-1zM207 233h1v3h-1zM214 234h1v2h-1zM221 234h1v2h-1zM228 234h1v2h-1zM235 234h1v2h-1zM242 233h1v3h-1zM248 234h1v2h-1zM255 234h1v2h-1zM262 234h1v2h-1zM269 234h1v2h-1zM276 233h1v3h-1zM283 234h1v2h-1zM290 234h1v2h-1zM297 234h1v2h-1zM304 234h1v2h-1zM311 233h1v3h-1zM318 234h1v2h-1zM325 234h1v2h-1zM332 234h1v2h-1zM339 234h1v2h-1zM346 233h1v3h-1zM353 234h1v2h-1zM360 234h1v2h-1zM367 234h1v2h-1zM49 232h5v1h-5zM49 229h5v1h-5zM49 225h5v1h-5zM49 222h9v1h-9zM49 218h5v1h-5zM49 214h5v1h-5zM49 211h5v1h-5zM49 207h9v1h-9zM49 203h5v1h-5zM49 200h5v1h-5zM49 196h5v1h-5zM49 192h9v1h-9zM49 189h5v1h-5zM49 185h5v1h-5zM49 182h5v1h-5zM49 178h9v1h-9zM49 174h5v1h-5zM49 171h5v1h-5zM49 167h5v1h-5zM49 163h9v1h-9zM49 160h5v1h-5zM49 156h5v1h-5zM49 153h5v1h-5zM49 149h9v1h-9zM49 145h5v1h-5z" fill="#000"/>
<text x="45.2" y="225.0" text-anchor="end" class="yl">1740</text>
<text x="45.2" y="210.0" text-anchor="end" class="yl">1760</text>
<text x="45.2" y="195.0" text-anchor="end" class="yl">1780</text>
<text x="45.2" y="181.0" text-anchor="end" class="yl">1800</text>
<text x="45.2" y="166.0" text-anchor="end" class="yl">1820</text>
<text x="45.2" y="152.0" text-anchor="end" class="yl">1840</text>
<text x="66.0" y="243.2" text-anchor="middle" class="xl">150</text>
<text x="101.0" y="243.2" text-anchor="middle" class="xl">160</text>
<text x="136.0" y="243.2" text-anchor="middle" class="xl">170</text>
<text x="171.0" y="243.2" text-anchor="middle" class="xl">180</text>
<text x="206.0" y="243.2" text-anchor="middle" class="xl">190</text>
<text x="241.0" y="243.2" text-anchor="middle" class="xl">200</text>
<text x="275.0" y="243.2" text-anchor="middle" class="xl">210</text>
<text x="310.0" y="243.2" text-anchor="middle" class="xl">220</text>
<text x="345.0" y="243.2" text-anchor="middle" class="xl">230</text>
<path d="M236 152h1v1h-1zM236 153h1v1h-1zM337 153h1v1h-1zM236 154h1v1h-1zM337 154h1v1h-1zM236 155h1v1h-1zM337 155h1v1h-1zM236 156h2v1h-2zM306 156h1v1h-1zM337 156h1v1h-1zM236 157h2v1h-2zM306 157h2v1h-2zM337 157h1v1h-1zM236 158h2v1h-2zM306 158h1v1h-1zM308 158h2v1h-2zM337 158h1v1h-1zM236 159h2v1h-2zM306 159h1v1h-1zM310 159h1v1h-1zM337 159h1v1h-1zM236 160h2v1h-2zM306 160h1v1h-1zM311 160h1v1h-1zM337 160h1v1h-1zM236 161h2v1h-2zM306 161h1v1h-1zM312 161h2v1h-2zM337 161h1v1h-1zM236 162h2v1h-2zM306 162h1v1h-1zM314 162h1v1h-1zM337 162h1v1h-1zM236 163h2v1h-2zM306 163h1v1h-1zM315 163h1v1h-1zM337 163h1v1h-1zM236 164h1v1h-1zM238 164h1v1h-1zM306 164h1v1h-1zM316 164h1v1h-1zM337 164h1v1h-1zM236 165h1v1h-1zM238 165h1v1h-1zM306 165h1v1h-1zM317 165h2v1h-2zM337 165h1v1h-1zM236 166h1v1h-1zM238 166h1v1h-1zM306 166h1v1h-1zM319 166h1v1h-1zM337 166h1v1h-1zM236 167h1v1h-1zM238 167h1v1h-1zM306 167h1v1h-1zM320 167h1v1h-1zM337 167h1v1h-1zM236 168h1v1h-1zM238 168h1v1h-1zM306 168h1v1h-1zM321 168h2v1h-2zM337 168h1v1h-1zM236 169h1v1h-1zM238 169h1v1h-1zM306 169h1v1h-1zM323 169h1v1h-1zM337 169h1v1h-1zM236 170h1v1h-1zM238 170h1v1h-1zM306 170h1v1h-1zM324 170h1v1h-1zM337 170h1v1h-1zM236 171h1v1h-1zM238 171h1v1h-1zM306 171h1v1h-1zM325 171h1v1h-1zM337 171h1v1h-1zM236 172h1v1h-1zM239 172h1v1h-1zM306 172h1v1h-1zM326 172h2v1h-2zM337 172h1v1h-1zM236 173h1v1h-1zM239 173h1v1h-1zM306 173h1v1h-1zM328 173h1v1h-1zM337 173h1v1h-1zM236 174h1v1h-1zM239 174h1v1h-1zM306 174h1v1h-1zM329 174h1v1h-1zM337 174h1v1h-1zM236 175h1v1h-1zM239 175h1v1h-1zM306 175h1v1h-1zM330 175h2v1h-2zM337 175h1v1h-1zM236 176h1v1h-1zM239 176h1v1h-1zM306 176h1v1h-1zM332 176h1v1h-1zM337 176h1v1h-1zM339 176h1v1h-1zM217 177h20v1h-20zM240 177h1v1h-1zM306 177h1v1h-1zM333 177h9v1h-9zM344 177h1v1h-1zM181 178h36v1h-36zM235 178h2v1h-2zM241 178h2v1h-2zM306 178h1v1h-1zM337 178h1v1h-1zM339 178h2v1h-2zM342 178h2v1h-2zM75 179h1v1h-1zM87 179h7v1h-7zM126 179h5v1h-5zM133 179h3v1h-3zM157 179h24v1h-24zM235 179h2v1h-2zM243 179h1v1h-1zM306 179h1v1h-1zM337 179h1v1h-1zM76 180h2v1h-2zM80 180h7v1h-7zM94 180h5v1h-5zM101 180h4v1h-4zM107 180h11v1h-11zM122 180h4v1h-4zM131 180h2v1h-2zM136 180h21v1h-21zM235 180h2v1h-2zM244 180h1v1h-1zM306 180h1v1h-1zM337 180h1v1h-1zM78 181h2v1h-2zM98 181h3v1h-3zM105 181h2v1h-2zM118 181h4v1h-4zM235 181h2v1h-2zM245 181h2v1h-2zM306 181h1v1h-1zM337 181h1v1h-1zM235 182h2v1h-2zM247 182h1v1h-1zM306 182h1v1h-1zM337 182h1v1h-1zM235 183h2v1h-2zM248 183h1v1h-1zM306 183h1v1h-1zM337 183h1v1h-1zM235 184h2v1h-2zM249 184h1v1h-1zM306 184h1v1h-1zM337 184h1v1h-1zM235 185h2v1h-2zM250 185h2v1h-2zM306 185h1v1h-1zM337 185h1v1h-1zM235 186h2v1h-2zM252 186h1v1h-1zM306 186h1v1h-1zM337 186h1v1h-1zM235 187h2v1h-2zM253 187h1v1h-1zM306 187h1v1h-1zM337 187h1v1h-1zM235 188h2v1h-2zM254 188h2v1h-2zM306 188h1v1h-1zM337 188h1v1h-1zM235 189h2v1h-2zM256 189h1v1h-1zM306 189h1v1h-1zM337 189h1v1h-1zM235 190h2v1h-2zM257 190h1v1h-1zM306 190h1v1h-1zM337 190h1v1h-1zM235 191h1v1h-1zM258 191h2v1h-2zM306 191h1v1h-1zM337 191h1v1h-1zM235 192h1v1h-1zM260 192h1v1h-1zM305 192h1v1h-1zM337 192h1v1h-1zM235 193h1v1h-1zM261 193h1v1h-1zM305 193h1v1h-1zM337 193h1v1h-1zM235 194h1v1h-1zM262 194h1v1h-1zM305 194h1v1h-1zM337 194h1v1h-1zM235 195h1v1h-1zM263 195h2v1h-2zM305 195h1v1h-1zM337 195h1v1h-1zM235 196h1v1h-1zM265 196h1v1h-1zM305 196h1v1h-1zM337 196h1v1h-1zM235 197h1v1h-1zM266 197h1v1h-1zM305 197h1v1h-1zM337 197h1v1h-1zM235 198h1v1h-1zM267 198h2v1h-2zM305 198h1v1h-1zM337 198h1v1h-1zM235 199h1v1h-1zM269 199h1v1h-1zM305 199h1v1h-1zM337 199h1v1h-1zM235 200h1v1h-1zM270 200h1v1h-1zM305 200h1v1h-1zM337 200h1v1h-1zM235 201h1v1h-1zM271 201h1v1h-1zM305 201h1v1h-1zM337 201h1v1h-1zM235 202h1v1h-1zM272 202h2v1h-2zM305 202h1v1h-1zM337 202h1v1h-1zM235 203h1v1h-1zM274 203h1v1h-1zM305 203h1v1h-1zM337 203h1v1h-1zM235 204h1v1h-1zM275 204h1v1h-1zM305 204h1v1h-1zM337 204h1v1h-1zM235 205h1v1h-1zM276 205h2v1h-2zM305 205h1v1h-1zM337 205h1v1h-1zM235 206h1v1h-1zM278 206h1v1h-1zM305 206h1v1h-1zM337 206h1v1h-1zM235 207h1v1h-1zM279 207h1v1h-1zM305 207h1v1h-1zM337 207h1v1h-1zM235 208h1v1h-1zM280 208h2v1h-2zM305 208h1v1h-1zM337 208h1v1h-1zM235 209h1v1h-1zM282 209h1v1h-1zM305 209h1v1h-1zM337 209h1v1h-1zM235 210h1v1h-1zM283 210h1v1h-1zM305 210h1v1h-1zM337 210h1v1h-1zM235 211h1v1h-1zM284 211h1v1h-1zM305 211h1v1h-1zM337 211h1v1h-1zM235 212h1v1h-1zM285 212h2v1h-2zM305 212h1v1h-1zM337 212h1v1h-1zM235 213h1v1h-1zM287 213h1v1h-1zM305 213h1v1h-1zM337 213h1v1h-1zM235 214h1v1h-1zM288 214h1v1h-1zM305 214h1v1h-1zM337 214h1v1h-1zM235 215h1v1h-1zM289 215h2v1h-2zM305 215h1v1h-1zM337 215h1v1h-1zM235 216h1v1h-1zM291 216h1v1h-1zM305 216h1v1h-1zM337 216h1v1h-1zM235 217h1v1h-1zM292 217h1v1h-1zM305 217h1v1h-1zM337 217h1v1h-1zM235 218h1v1h-1zM293 218h1v1h-1zM305 218h1v1h-1zM337 218h1v1h-1zM235 219h1v1h-1zM294 219h2v1h-2zM305 219h1v1h-1zM337 219h1v1h-1zM235 220h1v1h-1zM296 220h1v1h-1zM305 220h1v1h-1zM337 220h1v1h-1zM235 221h1v1h-1zM297 221h1v1h-1zM305 221h1v1h-1zM337 221h1v1h-1zM235 222h1v1h-1zM298 222h2v1h-2zM305 222h1v1h-1zM337 222h1v1h-1zM235 223h1v1h-1zM300 223h1v1h-1zM305 223h1v1h-1zM337 223h1v1h-1zM235 224h1v1h-1zM301 224h1v1h-1zM305 224h1v1h-1zM337 224h1v1h-1zM235 225h1v1h-1zM302 225h2v1h-2zM305 225h1v1h-1zM337 225h1v1h-1zM235 226h1v1h-1zM304 226h2v1h-2zM337 226h1v1h-1zM235 227h1v1h-1zM305 227h1v1h-1zM337 227h1v1h-1zM235 228h1v1h-1z" fill="#0000ff"/>
<path d="M71 179h9v1h-9z M75 175h1v9h-1z M74 178h3v3h-3z M73 177h1v1h-1z M73 181h1v1h-1z M77 177h1v1h-1z M77 181h1v1h-1z M72 176h1v1h-1z M72 182h1v1h-1z M78 176h1v1h-1z M78 182h1v1h-1z M74 181h9v1h-9z M78 177h1v9h-1z M77 180h3v3h-3z M76 179h1v1h-1z M76 183h1v1h-1z M80 179h1v1h-1z M80 183h1v1h-1z M75 178h1v1h-1z M75 184h1v1h-1z M81 178h1v1h-1z M81 184h1v1h-1z M77 180h9v1h-9z M81 176h1v9h-1z M80 179h3v3h-3z M79 178h1v1h-1z M79 182h1v1h-1z M83 178h1v1h-1z M83 182h1v1h-1z M78 177h1v1h-1z M78 183h1v1h-1z M84 177h1v1h-1z M84 183h1v1h-1z M81 180h9v1h-9z M85 176h1v9h-1z M84 179h3v3h-3z M83 178h1v1h-1z M83 182h1v1h-1z M87 178h1v1h-1z M87 182h1v1h-1z M82 177h1v1h-1z M82 183h1v1h-1z M88 177h1v1h-1z M88 183h1v1h-1z M85 179h9v1h-9z M89 175h1v9h-1z M88 178h3v3h-3z M87 177h1v1h-1z M87 181h1v1h-1z M91 177h1v1h-1z M91 181h1v1h-1z M86 176h1v1h-1z M86 182h1v1h-1z M92 176h1v1h-1z M92 182h1v1h-1z M94 180h9v1h-9z M98 176h1v9h-1z M97 179h3v3h-3z M96 178h1v1h-1z M96 182h1v1h-1z M100 178h1v1h-1z M100 182h1v1h-1z M95 177h1v1h-1z M95 183h1v1h-1z M101 177h1v1h-1z M101 183h1v1h-1z M94 181h9v1h-9z M98 177h1v9h-1z M97 180h3v3h-3z M96 179h1v1h-1z M96 183h1v1h-1z M100 179h1v1h-1z M100 183h1v1h-1z M95 178h1v1h-1z M95 184h1v1h-1z M101 178h1v1h-1z M101 184h1v1h-1z M99 180h9v1h-9z M103 176h1v9h-1z M102 179h3v3h-3z M101 178h1v1h-1z M101 182h1v1h-1z M105 178h1v1h-1z M105 182h1v1h-1z M100 177h1v1h-1z M100 183h1v1h-1z M106 177h1v1h-1z M106 183h1v1h-1z M102 181h9v1h-9z M106 177h1v9h-1z M105 180h3v3h-3z M104 179h1v1h-1z M104 183h1v1h-1z M108 179h1v1h-1z M108 183h1v1h-1z M103 178h1v1h-1z M103 184h1v1h-1z M109 178h1v1h-1z M109 184h1v1h-1z M103 180h9v1h-9z M107 176h1v9h-1z M106 179h3v3h-3z M105 178h1v1h-1z M105 182h1v1h-1z M109 178h1v1h-1z M109 182h1v1h-1z M104 177h1v1h-1z M104 183h1v1h-1z M110 177h1v1h-1z M110 183h1v1h-1z M106 180h9v1h-9z M110 176h1v9h-1z M109 179h3v3h-3z M108 178h1v1h-1z M108 182h1v1h-1z M112 178h1v1h-1z M112 182h1v1h-1z M107 177h1v1h-1z M107 183h1v1h-1z M113 177h1v1h-1z M113 183h1v1h-1z M112 180h9v1h-9z M116 176h1v9h-1z M115 179h3v3h-3z M114 178h1v1h-1z M114 182h1v1h-1z M118 178h1v1h-1z M118 182h1v1h-1z M113 177h1v1h-1z M113 183h1v1h-1z M119 177h1v1h-1z M119 183h1v1h-1z M116 181h9v1h-9z M120 177h1v9h-1z M119 180h3v3h-3z M118 179h1v1h-1z M118 183h1v1h-1z M122 179h1v1h-1z M122 183h1v1h-1z M117 178h1v1h-1z M117 184h1v1h-1z M123 178h1v1h-1z M123 184h1v1h-1z M120 180h9v1h-9z M124 176h1v9h-1z M123 179h3v3h-3z M122 178h1v1h-1z M122 182h1v1h-1z M126 178h1v1h-1z M126 182h1v1h-1z M121 177h1v1h-1z M121 183h1v1h-1z M127 177h1v1h-1z M127 183h1v1h-1z M123 179h9v1h-9z M127 175h1v9h-1z M126 178h3v3h-3z M125 177h1v1h-1z M125 181h1v1h-1z M129 177h1v1h-1z M129 181h1v1h-1z M124 176h1v1h-1z M124 182h1v1h-1z M130 176h1v1h-1z M130 182h1v1h-1z M126 179h9v1h-9z M130 175h1v9h-1z M129 178h3v3h-3z M128 177h1v1h-1z M128 181h1v1h-1z M132 177h1v1h-1z M132 181h1v1h-1z M127 176h1v1h-1z M127 182h1v1h-1z M133 176h1v1h-1z M133 182h1v1h-1z M127 180h9v1h-9z M131 176h1v9h-1z M130 179h3v3h-3z M129 178h1v1h-1z M129 182h1v1h-1z M133 178h1v1h-1z M133 182h1v1h-1z M128 177h1v1h-1z M128 183h1v1h-1z M134 177h1v1h-1z M134 183h1v1h-1z M130 179h9v1h-9z M134 175h1v9h-1z M133 178h3v3h-3z M132 177h1v1h-1z M132 181h1v1h-1z M136 177h1v1h-1z M136 181h1v1h-1z M131 176h1v1h-1z M131 182h1v1h-1z M137 176h1v1h-1z M137 182h1v1h-1z M134 180h9v1h-9z M138 176h1v9h-1z M137 179h3v3h-3z M136 178h1v1h-1z M136 182h1v1h-1z M140 178h1v1h-1z M140 182h1v1h-1z M135 177h1v1h-1z M135 183h1v1h-1z M141 177h1v1h-1z M141 183h1v1h-1z M144 180h9v1h-9z M148 176h1v9h-1z M147 179h3v3h-3z M146 178h1v1h-1z M146 182h1v1h-1z M150 178h1v1h-1z M150 182h1v1h-1z M145 177h1v1h-1z M145 183h1v1h-1z M151 177h1v1h-1z M151 183h1v1h-1z M144 180h9v1h-9z M148 176h1v9h-1z M147 179h3v3h-3z M146 178h1v1h-1z M146 182h1v1h-1z M150 178h1v1h-1z M150 182h1v1h-1z M145 177h1v1h-1z M145 183h1v1h-1z M151 177h1v1h-1z M151 183h1v1h-1z M148 180h9v1h-9z M152 176h1v9h-1z M151 179h3v3h-3z M150 178h1v1h-1z M150 182h1v1h-1z M154 178h1v1h-1z M154 182h1v1h-1z M149 177h1v1h-1z M149 183h1v1h-1z M155 177h1v1h-1z M155 183h1v1h-1z M158 179h9v1h-9z M162 175h1v9h-1z M161 178h3v3h-3z M160 177h1v1h-1z M160 181h1v1h-1z M164 177h1v1h-1z M164 181h1v1h-1z M159 176h1v1h-1z M159 182h1v1h-1z M165 176h1v1h-1z M165 182h1v1h-1z M231 177h9v1h-9z M235 173h1v9h-1z M234 176h3v3h-3z M233 175h1v1h-1z M233 179h1v1h-1z M237 175h1v1h-1z M237 179h1v1h-1z M232 174h1v1h-1z M232 180h1v1h-1z M238 174h1v1h-1z M238 180h1v1h-1z M231 228h9v1h-9z M235 224h1v9h-1z M234 227h3v3h-3z M233 226h1v1h-1z M233 230h1v1h-1z M237 226h1v1h-1z M237 230h1v1h-1z M232 225h1v1h-1z M232 231h1v1h-1z M238 225h1v1h-1z M238 231h1v1h-1z M232 152h9v1h-9z M236 148h1v9h-1z M235 151h3v3h-3z M234 150h1v1h-1z M234 154h1v1h-1z M238 150h1v1h-1z M238 154h1v1h-1z M233 149h1v1h-1z M233 155h1v1h-1z M239 149h1v1h-1z M239 155h1v1h-1z M235 176h9v1h-9z M239 172h1v9h-1z M238 175h3v3h-3z M237 174h1v1h-1z M237 178h1v1h-1z M241 174h1v1h-1z M241 178h1v1h-1z M236 173h1v1h-1z M236 179h1v1h-1z M242 173h1v1h-1z M242 179h1v1h-1z M301 227h9v1h-9z M305 223h1v9h-1z M304 226h3v3h-3z M303 225h1v1h-1z M303 229h1v1h-1z M307 225h1v1h-1z M307 229h1v1h-1z M302 224h1v1h-1z M302 230h1v1h-1z M308 224h1v1h-1z M308 230h1v1h-1z M302 156h9v1h-9z M306 152h1v9h-1z M305 155h3v3h-3z M304 154h1v1h-1z M304 158h1v1h-1z M308 154h1v1h-1z M308 158h1v1h-1z M303 153h1v1h-1z M303 159h1v1h-1z M309 153h1v1h-1z M309 159h1v1h-1z M329 177h9v1h-9z M333 173h1v9h-1z M332 176h3v3h-3z M331 175h1v1h-1z M331 179h1v1h-1z M335 175h1v1h-1z M335 179h1v1h-1z M330 174h1v1h-1z M330 180h1v1h-1z M336 174h1v1h-1z M336 180h1v1h-1z M333 177h9v1h-9z M337 173h1v9h-1z M336 176h3v3h-3z M335 175h1v1h-1z M335 179h1v1h-1z M339 175h1v1h-1z M339 179h1v1h-1z M334 174h1v1h-1z M334 180h1v1h-1z M340 174h1v1h-1z M340 180h1v1h-1z M333 227h9v1h-9z M337 223h1v9h-1z M336 226h3v3h-3z M335 225h1v1h-1z M335 229h1v1h-1z M339 225h1v1h-1z M339 229h1v1h-1z M334 224h1v1h-1z M334 230h1v1h-1z M340 224h1v1h-1z M340 230h1v1h-1z M333 153h9v1h-9z M337 149h1v9h-1z M336 152h3v3h-3z M335 151h1v1h-1z M335 155h1v1h-1z M339 151h1v1h-1z M339 155h1v1h-1z M334 150h1v1h-1z M334 156h1v1h-1z M340 150h1v1h-1z M340 156h1v1h-1z M333 177h9v1h-9z M337 173h1v9h-1z M336 176h3v3h-3z M335 175h1v1h-1z M335 179h1v1h-1z M339 175h1v1h-1z M339 179h1v1h-1z M334 174h1v1h-1z M334 180h1v1h-1z M340 174h1v1h-1z M340 180h1v1h-1z M336 178h9v1h-9z M340 174h1v9h-1z M339 177h3v3h-3z M338 176h1v1h-1z M338 180h1v1h-1z M342 176h1v1h-1z M342 180h1v1h-1z M337 175h1v1h-1z M337 181h1v1h-1z M343 175h1v1h-1z M343 181h1v1h-1z M335 176h9v1h-9z M339 172h1v9h-1z M338 175h3v3h-3z M337 174h1v1h-1z M337 178h1v1h-1z M341 174h1v1h-1z M341 178h1v1h-1z M336 173h1v1h-1z M336 179h1v1h-1z M342 173h1v1h-1z M342 179h1v1h-1z M337 177h9v1h-9z M341 173h1v9h-1z M340 176h3v3h-3z M339 175h1v1h-1z M339 179h1v1h-1z M343 175h1v1h-1z M343 179h1v1h-1z M338 174h1v1h-1z M338 180h1v1h-1z M344 174h1v1h-1z M344 180h1v1h-1z M339 178h9v1h-9z M343 174h1v9h-1z M342 177h3v3h-3z M341 176h1v1h-1z M341 180h1v1h-1z M345 176h1v1h-1z M345 180h1v1h-1z M340 175h1v1h-1z M340 181h1v1h-1z M346 175h1v1h-1z M346 181h1v1h-1z M340 177h9v1h-9z M344 173h1v9h-1z M343 176h3v3h-3z M342 175h1v1h-1z M342 179h1v1h-1z M346 175h1v1h-1z M346 179h1v1h-1z M341 174h1v1h-1z M341 180h1v1h-1z M347 174h1v1h-1z M347 180h1v1h-1z" fill="#000"/>
<rect x="12.5" y="133.5" width="322" height="12" fill="#fff" stroke="#000" stroke-width="1"/>
<text x="172.4" y="141.8" text-anchor="middle" class="tt">North Sta-2 Oct-3 Pedestals vrs Day (Packet 11231)</text>
<rect x="468.5" y="144.5" width="322" height="92" fill="none" stroke="#000" stroke-width="1"/>
<path d="M473 234h1v2h-1zM480 234h1v2h-1zM487 233h1v3h-1zM494 234h1v2h-1zM501 234h1v2h-1zM508 234h1v2h-1zM515 234h1v2h-1zM522 233h1v3h-1zM529 234h1v2h-1zM536 234h1v2h-1zM543 234h1v2h-1zM550 234h1v2h-1zM557 233h1v3h-1zM564 234h1v2h-1zM571 234h1v2h-1zM578 234h1v2h-1zM585 234h1v2h-1zM592 233h1v3h-1zM599 234h1v2h-1zM606 234h1v2h-1zM613 234h1v2h-1zM620 234h1v2h-1zM627 233h1v3h-1zM634 234h1v2h-1zM641 234h1v2h-1zM648 234h1v2h-1zM655 234h1v2h-1zM662 233h1v3h-1zM668 234h1v2h-1zM675 234h1v2h-1zM682 234h1v2h-1zM689 234h1v2h-1zM696 233h1v3h-1zM703 234h1v2h-1zM710 234h1v2h-1zM717 234h1v2h-1zM724 234h1v2h-1zM731 233h1v3h-1zM738 234h1v2h-1zM745 234h1v2h-1zM752 234h1v2h-1zM759 234h1v2h-1zM766 233h1v3h-1zM773 234h1v2h-1zM780 234h1v2h-1zM787 234h1v2h-1zM469 234h5v1h-5zM469 232h5v1h-5zM469 230h5v1h-5zM469 228h5v1h-5zM469 226h9v1h-9zM469 224h5v1h-5zM469 222h5v1h-5zM469 220h5v1h-5zM469 219h5v1h-5zM469 217h9v1h-9zM469 215h5v1h-5zM469 213h5v1h-5zM469 211h5v1h-5zM469 209h5v1h-5zM469 207h9v1h-9zM469 205h5v1h-5zM469 203h5v1h-5zM469 201h5v1h-5zM469 199h5v1h-5zM469 197h9v1h-9zM469 195h5v1h-5zM469 193h5v1h-5zM469 191h5v1h-5zM469 189h5v1h-5zM469 187h9v1h-9zM469 185h5v1h-5zM469 183h5v1h-5zM469 181h5v1h-5zM469 179h5v1h-5zM469 177h9v1h-9zM469 175h5v1h-5zM469 173h5v1h-5zM469 171h5v1h-5zM469 169h5v1h-5zM469 167h9v1h-9zM469 165h5v1h-5zM469 163h5v1h-5zM469 162h5v1h-5zM469 160h5v1h-5zM469 158h9v1h-9zM469 156h5v1h-5zM469 154h5v1h-5zM469 152h5v1h-5zM469 150h5v1h-5zM469 148h9v1h-9zM469 146h5v1h-5z" fill="#000"/>
<text x="465.2" y="229.0" text-anchor="end" class="yl">1790</text>
<text x="465.2" y="220.0" text-anchor="end" class="yl">1800</text>
<text x="465.2" y="210.0" text-anchor="end" class="yl">1810</text>
<text x="465.2" y="200.0" text-anchor="end" class="yl">1820</text>
<text x="465.2" y="190.0" text-anchor="end" class="yl">1830</text>
<text x="465.2" y="180.0" text-anchor="end" class="yl">1840</text>
<text x="465.2" y="170.0" text-anchor="end" class="yl">1850</text>
<text x="465.2" y="161.0" text-anchor="end" class="yl">1860</text>
<text x="465.2" y="151.0" text-anchor="end" class="yl">1870</text>
<text x="486.0" y="243.2" text-anchor="middle" class="xl">150</text>
<text x="521.0" y="243.2" text-anchor="middle" class="xl">160</text>
<text x="556.0" y="243.2" text-anchor="middle" class="xl">170</text>
<text x="591.0" y="243.2" text-anchor="middle" class="xl">180</text>
<text x="626.0" y="243.2" text-anchor="middle" class="xl">190</text>
<text x="661.0" y="243.2" text-anchor="middle" class="xl">200</text>
<text x="695.0" y="243.2" text-anchor="middle" class="xl">210</text>
<text x="730.0" y="243.2" text-anchor="middle" class="xl">220</text>
<text x="765.0" y="243.2" text-anchor="middle" class="xl">230</text>
<path d="M656 152h1v1h-1zM726 152h1v1h-1zM656 153h1v1h-1zM726 153h2v1h-2zM656 154h1v1h-1zM726 154h2v1h-2zM757 154h1v1h-1zM656 155h1v1h-1zM726 155h1v1h-1zM728 155h1v1h-1zM757 155h1v1h-1zM656 156h1v1h-1zM726 156h1v1h-1zM729 156h1v1h-1zM757 156h1v1h-1zM656 157h1v1h-1zM726 157h1v1h-1zM729 157h1v1h-1zM757 157h1v1h-1zM656 158h1v1h-1zM726 158h1v1h-1zM730 158h1v1h-1zM757 158h1v1h-1zM656 159h2v1h-2zM726 159h1v1h-1zM731 159h1v1h-1zM757 159h1v1h-1zM656 160h2v1h-2zM726 160h1v1h-1zM732 160h1v1h-1zM757 160h1v1h-1zM656 161h2v1h-2zM726 161h1v1h-1zM732 161h1v1h-1zM757 161h1v1h-1zM656 162h2v1h-2zM726 162h1v1h-1zM733 162h1v1h-1zM757 162h1v1h-1zM656 163h2v1h-2zM726 163h1v1h-1zM734 163h1v1h-1zM757 163h1v1h-1zM656 164h2v1h-2zM726 164h1v1h-1zM734 164h1v1h-1zM757 164h1v1h-1zM656 165h2v1h-2zM726 165h1v1h-1zM735 165h1v1h-1zM757 165h1v1h-1zM656 166h2v1h-2zM726 166h1v1h-1zM736 166h1v1h-1zM757 166h1v1h-1zM656 167h2v1h-2zM726 167h1v1h-1zM736 167h1v1h-1zM757 167h1v1h-1zM656 168h2v1h-2zM726 168h1v1h-1zM737 168h1v1h-1zM757 168h1v1h-1zM656 169h2v1h-2zM726 169h1v1h-1zM738 169h1v1h-1zM757 169h1v1h-1zM656 170h2v1h-2zM726 170h1v1h-1zM738 170h1v1h-1zM757 170h1v1h-1zM656 171h2v1h-2zM726 171h1v1h-1zM739 171h1v1h-1zM757 171h1v1h-1zM656 172h1v1h-1zM658 172h1v1h-1zM726 172h1v1h-1zM740 172h1v1h-1zM757 172h1v1h-1zM656 173h1v1h-1zM658 173h1v1h-1zM726 173h1v1h-1zM741 173h1v1h-1zM757 173h1v1h-1zM656 174h1v1h-1zM658 174h1v1h-1zM726 174h1v1h-1zM741 174h1v1h-1zM757 174h1v1h-1zM656 175h1v1h-1zM658 175h1v1h-1zM726 175h1v1h-1zM742 175h1v1h-1zM757 175h1v1h-1zM656 176h1v1h-1zM658 176h1v1h-1zM726 176h1v1h-1zM743 176h1v1h-1zM757 176h1v1h-1zM656 177h1v1h-1zM658 177h1v1h-1zM726 177h1v1h-1zM743 177h1v1h-1zM757 177h1v1h-1zM656 178h1v1h-1zM658 178h1v1h-1zM726 178h1v1h-1zM744 178h1v1h-1zM757 178h1v1h-1zM656 179h1v1h-1zM658 179h1v1h-1zM726 179h1v1h-1zM745 179h1v1h-1zM757 179h1v1h-1zM656 180h1v1h-1zM658 180h1v1h-1zM726 180h1v1h-1zM745 180h1v1h-1zM757 180h1v1h-1zM656 181h1v1h-1zM658 181h1v1h-1zM726 181h1v1h-1zM746 181h1v1h-1zM757 181h1v1h-1zM656 182h1v1h-1zM658 182h1v1h-1zM725 182h1v1h-1zM747 182h1v1h-1zM757 182h1v1h-1zM656 183h1v1h-1zM658 183h1v1h-1zM725 183h1v1h-1zM747 183h1v1h-1zM757 183h1v1h-1zM656 184h1v1h-1zM658 184h1v1h-1zM725 184h1v1h-1zM748 184h1v1h-1zM757 184h1v1h-1zM655 185h1v1h-1zM659 185h1v1h-1zM725 185h1v1h-1zM749 185h1v1h-1zM757 185h1v1h-1zM655 186h1v1h-1zM659 186h1v1h-1zM725 186h1v1h-1zM750 186h1v1h-1zM757 186h1v1h-1zM655 187h1v1h-1zM659 187h1v1h-1zM725 187h1v1h-1zM750 187h1v1h-1zM757 187h1v1h-1zM655 188h1v1h-1zM659 188h1v1h-1zM725 188h1v1h-1zM751 188h1v1h-1zM757 188h1v1h-1zM759 188h2v1h-2zM655 189h1v1h-1zM659 189h1v1h-1zM725 189h1v1h-1zM752 189h1v1h-1zM757 189h1v1h-1zM760 189h1v1h-1zM655 190h1v1h-1zM659 190h1v1h-1zM725 190h1v1h-1zM752 190h1v1h-1zM757 190h1v1h-1zM760 190h1v1h-1zM655 191h1v1h-1zM659 191h2v1h-2zM725 191h1v1h-1zM753 191h5v1h-5zM760 191h5v1h-5zM655 192h1v1h-1zM661 192h4v1h-4zM725 192h1v1h-1zM757 192h1v1h-1zM760 192h1v1h-1zM619 193h37v1h-37zM665 193h3v1h-3zM725 193h1v1h-1zM757 193h1v1h-1zM760 193h1v1h-1zM533 194h4v1h-4zM581 194h38v1h-38zM655 194h1v1h-1zM668 194h4v1h-4zM725 194h1v1h-1zM757 194h1v1h-1zM760 194h1v1h-1zM495 195h5v1h-5zM523 195h10v1h-10zM537 195h1v1h-1zM577 195h4v1h-4zM655 195h1v1h-1zM672 195h3v1h-3zM725 195h1v1h-1zM757 195h1v1h-1zM759 195h1v1h-1zM500 196h12v1h-12zM521 196h2v1h-2zM538 196h2v1h-2zM574 196h3v1h-3zM655 196h1v1h-1zM675 196h4v1h-4zM725 196h1v1h-1zM757 196h1v1h-1zM759 196h1v1h-1zM512 197h4v1h-4zM519 197h2v1h-2zM540 197h11v1h-11zM563 197h11v1h-11zM655 197h1v1h-1zM679 197h3v1h-3zM725 197h1v1h-1zM757 197h1v1h-1zM759 197h1v1h-1zM516 198h3v1h-3zM551 198h12v1h-12zM655 198h1v1h-1zM682 198h4v1h-4zM725 198h1v1h-1zM757 198h1v1h-1zM759 198h1v1h-1zM655 199h1v1h-1zM686 199h3v1h-3zM725 199h1v1h-1zM757 199h1v1h-1zM759 199h1v1h-1zM655 200h1v1h-1zM689 200h3v1h-3zM725 200h1v1h-1zM757 200h1v1h-1zM759 200h1v1h-1zM655 201h1v1h-1zM692 201h4v1h-4zM725 201h1v1h-1zM757 201h1v1h-1zM759 201h1v1h-1zM655 202h1v1h-1zM696 202h3v1h-3zM725 202h1v1h-1zM757 202h1v1h-1zM759 202h1v1h-1zM655 203h1v1h-1zM699 203h4v1h-4zM725 203h1v1h-1zM757 203h1v1h-1zM759 203h1v1h-1zM655 204h1v1h-1zM703 204h3v1h-3zM725 204h1v1h-1zM757 204h1v1h-1zM759 204h1v1h-1zM655 205h1v1h-1zM706 205h4v1h-4zM725 205h1v1h-1zM757 205h1v1h-1zM759 205h1v1h-1zM655 206h1v1h-1zM710 206h3v1h-3zM725 206h1v1h-1zM757 206h1v1h-1zM759 206h1v1h-1zM655 207h1v1h-1zM713 207h4v1h-4zM725 207h1v1h-1zM757 207h1v1h-1zM759 207h1v1h-1zM655 208h1v1h-1zM717 208h3v1h-3zM725 208h1v1h-1zM757 208h1v1h-1zM759 208h1v1h-1zM655 209h1v1h-1zM720 209h4v1h-4zM725 209h1v1h-1zM757 209h2v1h-2zM655 210h1v1h-1zM724 210h2v1h-2zM757 210h2v1h-2zM655 211h1v1h-1zM757 211h2v1h-2zM655 212h1v1h-1zM757 212h2v1h-2zM655 213h1v1h-1zM757 213h2v1h-2zM655 214h1v1h-1zM757 214h2v1h-2zM655 215h1v1h-1zM757 215h2v1h-2zM655 216h1v1h-1zM757 216h2v1h-2zM757 217h2v1h-2zM757 218h2v1h-2zM757 219h2v1h-2zM757 220h2v1h-2zM757 221h2v1h-2zM757 222h1v1h-1zM757 223h1v1h-1zM757 224h1v1h-1zM757 225h1v1h-1zM757 226h1v1h-1zM757 227h1v1h-1zM757 228h1v1h-1z" fill="#0000ff"/>
<path d="M491 195h9v1h-9z M495 191h1v9h-1z M494 194h3v3h-3z M493 193h1v1h-1z M493 197h1v1h-1z M497 193h1v1h-1z M497 197h1v1h-1z M492 192h1v1h-1z M492 198h1v1h-1z M498 192h1v1h-1z M498 198h1v1h-1z M494 195h9v1h-9z M498 191h1v9h-1z M497 194h3v3h-3z M496 193h1v1h-1z M496 197h1v1h-1z M500 193h1v1h-1z M500 197h1v1h-1z M495 192h1v1h-1z M495 198h1v1h-1z M501 192h1v1h-1z M501 198h1v1h-1z M497 196h9v1h-9z M501 192h1v9h-1z M500 195h3v3h-3z M499 194h1v1h-1z M499 198h1v1h-1z M503 194h1v1h-1z M503 198h1v1h-1z M498 193h1v1h-1z M498 199h1v1h-1z M504 193h1v1h-1z M504 199h1v1h-1z M501 196h9v1h-9z M505 192h1v9h-1z M504 195h3v3h-3z M503 194h1v1h-1z M503 198h1v1h-1z M507 194h1v1h-1z M507 198h1v1h-1z M502 193h1v1h-1z M502 199h1v1h-1z M508 193h1v1h-1z M508 199h1v1h-1z M505 196h9v1h-9z M509 192h1v9h-1z M508 195h3v3h-3z M507 194h1v1h-1z M507 198h1v1h-1z M511 194h1v1h-1z M511 198h1v1h-1z M506 193h1v1h-1z M506 199h1v1h-1z M512 193h1v1h-1z M512 199h1v1h-1z M514 198h9v1h-9z M518 194h1v9h-1z M517 197h3v3h-3z M516 196h1v1h-1z M516 200h1v1h-1z M520 196h1v1h-1z M520 200h1v1h-1z M515 195h1v1h-1z M515 201h1v1h-1z M521 195h1v1h-1z M521 201h1v1h-1z M514 198h9v1h-9z M518 194h1v9h-1z M517 197h3v3h-3z M516 196h1v1h-1z M516 200h1v1h-1z M520 196h1v1h-1z M520 200h1v1h-1z M515 195h1v1h-1z M515 201h1v1h-1z M521 195h1v1h-1z M521 201h1v1h-1z M519 195h9v1h-9z M523 191h1v9h-1z M522 194h3v3h-3z M521 193h1v1h-1z M521 197h1v1h-1z M525 193h1v1h-1z M525 197h1v1h-1z M520 192h1v1h-1z M520 198h1v1h-1z M526 192h1v1h-1z M526 198h1v1h-1z M522 195h9v1h-9z M526 191h1v9h-1z M525 194h3v3h-3z M524 193h1v1h-1z M524 197h1v1h-1z M528 193h1v1h-1z M528 197h1v1h-1z M523 192h1v1h-1z M523 198h1v1h-1z M529 192h1v1h-1z M529 198h1v1h-1z M523 195h9v1h-9z M527 191h1v9h-1z M526 194h3v3h-3z M525 193h1v1h-1z M525 197h1v1h-1z M529 193h1v1h-1z M529 197h1v1h-1z M524 192h1v1h-1z M524 198h1v1h-1z M530 192h1v1h-1z M530 198h1v1h-1z M526 195h9v1h-9z M530 191h1v9h-1z M529 194h3v3h-3z M528 193h1v1h-1z M528 197h1v1h-1z M532 193h1v1h-1z M532 197h1v1h-1z M527 192h1v1h-1z M527 198h1v1h-1z M533 192h1v1h-1z M533 198h1v1h-1z M532 194h9v1h-9z M536 190h1v9h-1z M535 193h3v3h-3z M534 192h1v1h-1z M534 196h1v1h-1z M538 192h1v1h-1z M538 196h1v1h-1z M533 191h1v1h-1z M533 197h1v1h-1z M539 191h1v1h-1z M539 197h1v1h-1z M536 197h9v1h-9z M540 193h1v9h-1z M539 196h3v3h-3z M538 195h1v1h-1z M538 199h1v1h-1z M542 195h1v1h-1z M542 199h1v1h-1z M537 194h1v1h-1z M537 200h1v1h-1z M543 194h1v1h-1z M543 200h1v1h-1z M540 197h9v1h-9z M544 193h1v9h-1z M543 196h3v3h-3z M542 195h1v1h-1z M542 199h1v1h-1z M546 195h1v1h-1z M546 199h1v1h-1z M541 194h1v1h-1z M541 200h1v1h-1z M547 194h1v1h-1z M547 200h1v1h-1z M543 197h9v1h-9z M547 193h1v9h-1z M546 196h3v3h-3z M545 195h1v1h-1z M545 199h1v1h-1z M549 195h1v1h-1z M549 199h1v1h-1z M544 194h1v1h-1z M544 200h1v1h-1z M550 194h1v1h-1z M550 200h1v1h-1z M546 197h9v1h-9z M550 193h1v9h-1z M549 196h3v3h-3z M548 195h1v1h-1z M548 199h1v1h-1z M552 195h1v1h-1z M552 199h1v1h-1z M547 194h1v1h-1z M547 200h1v1h-1z M553 194h1v1h-1z M553 200h1v1h-1z M547 198h9v1h-9z M551 194h1v9h-1z M550 197h3v3h-3z M549 196h1v1h-1z M549 200h1v1h-1z M553 196h1v1h-1z M553 200h1v1h-1z M548 195h1v1h-1z M548 201h1v1h-1z M554 195h1v1h-1z M554 201h1v1h-1z M550 198h9v1h-9z M554 194h1v9h-1z M553 197h3v3h-3z M552 196h1v1h-1z M552 200h1v1h-1z M556 196h1v1h-1z M556 200h1v1h-1z M551 195h1v1h-1z M551 201h1v1h-1z M557 195h1v1h-1z M557 201h1v1h-1z M554 198h9v1h-9z M558 194h1v9h-1z M557 197h3v3h-3z M556 196h1v1h-1z M556 200h1v1h-1z M560 196h1v1h-1z M560 200h1v1h-1z M555 195h1v1h-1z M555 201h1v1h-1z M561 195h1v1h-1z M561 201h1v1h-1z M564 197h9v1h-9z M568 193h1v9h-1z M567 196h3v3h-3z M566 195h1v1h-1z M566 199h1v1h-1z M570 195h1v1h-1z M570 199h1v1h-1z M565 194h1v1h-1z M565 200h1v1h-1z M571 194h1v1h-1z M571 200h1v1h-1z M564 197h9v1h-9z M568 193h1v9h-1z M567 196h3v3h-3z M566 195h1v1h-1z M566 199h1v1h-1z M570 195h1v1h-1z M570 199h1v1h-1z M565 194h1v1h-1z M565 200h1v1h-1z M571 194h1v1h-1z M571 200h1v1h-1z M568 197h9v1h-9z M572 193h1v9h-1z M571 196h3v3h-3z M570 195h1v1h-1z M570 199h1v1h-1z M574 195h1v1h-1z M574 199h1v1h-1z M569 194h1v1h-1z M569 200h1v1h-1z M575 194h1v1h-1z M575 200h1v1h-1z M578 194h9v1h-9z M582 190h1v9h-1z M581 193h3v3h-3z M580 192h1v1h-1z M580 196h1v1h-1z M584 192h1v1h-1z M584 196h1v1h-1z M579 191h1v1h-1z M579 197h1v1h-1z M585 191h1v1h-1z M585 197h1v1h-1z M651 193h9v1h-9z M655 189h1v9h-1z M654 192h3v3h-3z M653 191h1v1h-1z M653 195h1v1h-1z M657 191h1v1h-1z M657 195h1v1h-1z M652 190h1v1h-1z M652 196h1v1h-1z M658 190h1v1h-1z M658 196h1v1h-1z M651 216h9v1h-9z M655 212h1v9h-1z M654 215h3v3h-3z M653 214h1v1h-1z M653 218h1v1h-1z M657 214h1v1h-1z M657 218h1v1h-1z M652 213h1v1h-1z M652 219h1v1h-1z M658 213h1v1h-1z M658 219h1v1h-1z M652 152h9v1h-9z M656 148h1v9h-1z M655 151h3v3h-3z M654 150h1v1h-1z M654 154h1v1h-1z M658 150h1v1h-1z M658 154h1v1h-1z M653 149h1v1h-1z M653 155h1v1h-1z M659 149h1v1h-1z M659 155h1v1h-1z M655 191h9v1h-9z M659 187h1v9h-1z M658 190h3v3h-3z M657 189h1v1h-1z M657 193h1v1h-1z M661 189h1v1h-1z M661 193h1v1h-1z M656 188h1v1h-1z M656 194h1v1h-1z M662 188h1v1h-1z M662 194h1v1h-1z M721 210h9v1h-9z M725 206h1v9h-1z M724 209h3v3h-3z M723 208h1v1h-1z M723 212h1v1h-1z M727 208h1v1h-1z M727 212h1v1h-1z M722 207h1v1h-1z M722 213h1v1h-1z M728 207h1v1h-1z M728 213h1v1h-1z M722 152h9v1h-9z M726 148h1v9h-1z M725 151h3v3h-3z M724 150h1v1h-1z M724 154h1v1h-1z M728 150h1v1h-1z M728 154h1v1h-1z M723 149h1v1h-1z M723 155h1v1h-1z M729 149h1v1h-1z M729 155h1v1h-1z M749 191h9v1h-9z M753 187h1v9h-1z M752 190h3v3h-3z M751 189h1v1h-1z M751 193h1v1h-1z M755 189h1v1h-1z M755 193h1v1h-1z M750 188h1v1h-1z M750 194h1v1h-1z M756 188h1v1h-1z M756 194h1v1h-1z M753 191h9v1h-9z M757 187h1v9h-1z M756 190h3v3h-3z M755 189h1v1h-1z M755 193h1v1h-1z M759 189h1v1h-1z M759 193h1v1h-1z M754 188h1v1h-1z M754 194h1v1h-1z M760 188h1v1h-1z M760 194h1v1h-1z M753 154h9v1h-9z M757 150h1v9h-1z M756 153h3v3h-3z M755 152h1v1h-1z M755 156h1v1h-1z M759 152h1v1h-1z M759 156h1v1h-1z M754 151h1v1h-1z M754 157h1v1h-1z M760 151h1v1h-1z M760 157h1v1h-1z M753 213h9v1h-9z M757 209h1v9h-1z M756 212h3v3h-3z M755 211h1v1h-1z M755 215h1v1h-1z M759 211h1v1h-1z M759 215h1v1h-1z M754 210h1v1h-1z M754 216h1v1h-1z M760 210h1v1h-1z M760 216h1v1h-1z M753 228h9v1h-9z M757 224h1v9h-1z M756 227h3v3h-3z M755 226h1v1h-1z M755 230h1v1h-1z M759 226h1v1h-1z M759 230h1v1h-1z M754 225h1v1h-1z M754 231h1v1h-1z M760 225h1v1h-1z M760 231h1v1h-1z M756 188h9v1h-9z M760 184h1v9h-1z M759 187h3v3h-3z M758 186h1v1h-1z M758 190h1v1h-1z M762 186h1v1h-1z M762 190h1v1h-1z M757 185h1v1h-1z M757 191h1v1h-1z M763 185h1v1h-1z M763 191h1v1h-1z M755 188h9v1h-9z M759 184h1v9h-1z M758 187h3v3h-3z M757 186h1v1h-1z M757 190h1v1h-1z M761 186h1v1h-1z M761 190h1v1h-1z M756 185h1v1h-1z M756 191h1v1h-1z M762 185h1v1h-1z M762 191h1v1h-1z M757 191h9v1h-9z M761 187h1v9h-1z M760 190h3v3h-3z M759 189h1v1h-1z M759 193h1v1h-1z M763 189h1v1h-1z M763 193h1v1h-1z M758 188h1v1h-1z M758 194h1v1h-1z M764 188h1v1h-1z M764 194h1v1h-1z M759 191h9v1h-9z M763 187h1v9h-1z M762 190h3v3h-3z M761 189h1v1h-1z M761 193h1v1h-1z M765 189h1v1h-1z M765 193h1v1h-1z M760 188h1v1h-1z M760 194h1v1h-1z M766 188h1v1h-1z M766 194h1v1h-1z M760 191h9v1h-9z M764 187h1v9h-1z M763 190h3v3h-3z M762 189h1v1h-1z M762 193h1v1h-1z M766 189h1v1h-1z M766 193h1v1h-1z M761 188h1v1h-1z M761 194h1v1h-1z M767 188h1v1h-1z M767 194h1v1h-1z" fill="#000"/>
<rect x="432.5" y="133.5" width="322" height="12" fill="#fff" stroke="#000" stroke-width="1"/>
<text x="592.4" y="141.8" text-anchor="middle" class="tt">North Sta-2 Oct-3 Pedestals vrs Day (Packet 11232)</text>
<rect x="48.5" y="272.5" width="322" height="92" fill="none" stroke="#000" stroke-width="1"/>
<path d="M53 362h1v2h-1zM60 362h1v2h-1zM67 361h1v3h-1zM74 362h1v2h-1zM81 362h1v2h-1zM88 362h1v2h-1zM95 362h1v2h-1zM102 361h1v3h-1zM109 362h1v2h-1zM116 362h1v2h-1zM123 362h1v2h-1zM130 362h1v2h-1zM137 361h1v3h-1zM144 362h1v2h-1zM151 362h1v2h-1zM158 362h1v2h-1zM165 362h1v2h-1zM172 361h1v3h-1zM179 362h1v2h-1zM186 362h1v2h-1zM193 362h1v2h-1zM200 362h1v2h-1zM207 361h1v3h-1zM214 362h1v2h-1zM221 362h1v2h-1zM228 362h1v2h-1zM235 362h1v2h-1zM242 361h1v3h-1zM248 362h1v2h-1zM255 362h1v2h-1zM262 362h1v2h-1zM269 362h1v2h-1zM276 361h1v3h-1zM283 362h1v2h-1zM290 362h1v2h-1zM297 362h1v2h-1zM304 362h1v2h-1zM311 361h1v3h-1zM318 362h1v2h-1zM325 362h1v2h-1zM332 362h1v2h-1zM339 362h1v2h-1zM346 361h1v3h-1zM353 362h1v2h-1zM360 362h1v2h-1zM367 362h1v2h-1zM49 362h5v1h-5zM49 360h5v1h-5zM49 358h9v1h-9zM49 356h5v1h-5zM49 354h5v1h-5zM49 352h5v1h-5zM49 350h5v1h-5zM49 349h9v1h-9zM49 347h5v1h-5zM49 345h5v1h-5zM49 343h5v1h-5zM49 341h5v1h-5zM49 339h9v1h-9zM49 337h5v1h-5zM49 335h5v1h-5zM49 333h5v1h-5zM49 331h5v1h-5zM49 330h9v1h-9zM49 328h5v1h-5zM49 326h5v1h-5zM49 324h5v1h-5zM49 322h5v1h-5zM49 320h9v1h-9zM49 318h5v1h-5zM49 316h5v1h-5zM49 314h5v1h-5zM49 312h5v1h-5zM49 311h9v1h-9zM49 309h5v1h-5zM49 307h5v1h-5zM49 305h5v1h-5zM49 303h5v1h-5zM49 301h9v1h-9zM49 299h5v1h-5zM49 297h5v1h-5zM49 295h5v1h-5zM49 293h5v1h-5zM49 292h9v1h-9zM49 290h5v1h-5zM49 288h5v1h-5zM49 286h5v1h-5zM49 284h5v1h-5zM49 282h9v1h-9zM49 280h5v1h-5zM49 278h5v1h-5zM49 276h5v1h-5zM49 274h5v1h-5zM49 273h9v1h-9z" fill="#000"/>
<text x="45.2" y="361.0" text-anchor="end" class="yl">1815</text>
<text x="45.2" y="352.0" text-anchor="end" class="yl">1820</text>
<text x="45.2" y="342.0" text-anchor="end" class="yl">1825</text>
<text x="45.2" y="333.0" text-anchor="end" class="yl">1830</text>
<text x="45.2" y="323.0" text-anchor="end" class="yl">1835</text>
<text x="45.2" y="314.0" text-anchor="end" class="yl">1840</text>
<text x="45.2" y="304.0" text-anchor="end" class="yl">1845</text>
<text x="45.2" y="295.0" text-anchor="end" class="yl">1850</text>
<text x="45.2" y="285.0" text-anchor="end" class="yl">1855</text>
<text x="45.2" y="276.0" text-anchor="end" class="yl">1860</text>
<text x="66.0" y="371.2" text-anchor="middle" class="xl">150</text>
<text x="101.0" y="371.2" text-anchor="middle" class="xl">160</text>
<text x="136.0" y="371.2" text-anchor="middle" class="xl">170</text>
<text x="171.0" y="371.2" text-anchor="middle" class="xl">180</text>
<text x="206.0" y="371.2" text-anchor="middle" class="xl">190</text>
<text x="241.0" y="371.2" text-anchor="middle" class="xl">200</text>
<text x="275.0" y="371.2" text-anchor="middle" class="xl">210</text>
<text x="310.0" y="371.2" text-anchor="middle" class="xl">220</text>
<text x="345.0" y="371.2" text-anchor="middle" class="xl">230</text>
<path d="M306 280h1v1h-1zM306 281h2v1h-2zM236 282h1v1h-1zM306 282h2v1h-2zM337 282h1v1h-1zM236 283h1v1h-1zM306 283h1v1h-1zM308 283h1v1h-1zM337 283h1v1h-1zM236 284h1v1h-1zM306 284h1v1h-1zM308 284h1v1h-1zM337 284h1v1h-1zM236 285h1v1h-1zM306 285h1v1h-1zM309 285h1v1h-1zM337 285h1v1h-1zM236 286h1v1h-1zM306 286h1v1h-1zM309 286h1v1h-1zM337 286h1v1h-1zM236 287h1v1h-1zM306 287h1v1h-1zM310 287h1v1h-1zM337 287h1v1h-1zM236 288h1v1h-1zM306 288h1v1h-1zM310 288h1v1h-1zM337 288h1v1h-1zM236 289h1v1h-1zM306 289h1v1h-1zM311 289h1v1h-1zM337 289h1v1h-1zM236 290h2v1h-2zM306 290h1v1h-1zM312 290h1v1h-1zM337 290h1v1h-1zM236 291h2v1h-2zM306 291h1v1h-1zM312 291h1v1h-1zM337 291h1v1h-1zM236 292h2v1h-2zM306 292h1v1h-1zM313 292h1v1h-1zM337 292h1v1h-1zM236 293h2v1h-2zM306 293h1v1h-1zM313 293h1v1h-1zM337 293h1v1h-1zM236 294h2v1h-2zM306 294h1v1h-1zM314 294h1v1h-1zM337 294h1v1h-1zM236 295h2v1h-2zM306 295h1v1h-1zM314 295h1v1h-1zM337 295h1v1h-1zM236 296h2v1h-2zM306 296h1v1h-1zM315 296h1v1h-1zM337 296h1v1h-1zM236 297h2v1h-2zM306 297h1v1h-1zM315 297h1v1h-1zM337 297h1v1h-1zM236 298h2v1h-2zM306 298h1v1h-1zM316 298h1v1h-1zM337 298h1v1h-1zM236 299h2v1h-2zM306 299h1v1h-1zM316 299h1v1h-1zM337 299h1v1h-1zM236 300h2v1h-2zM306 300h1v1h-1zM317 300h1v1h-1zM337 300h1v1h-1zM236 301h2v1h-2zM306 301h1v1h-1zM318 301h1v1h-1zM337 301h1v1h-1zM236 302h2v1h-2zM306 302h1v1h-1zM318 302h1v1h-1zM337 302h1v1h-1zM236 303h2v1h-2zM306 303h1v1h-1zM319 303h1v1h-1zM337 303h1v1h-1zM236 304h1v1h-1zM238 304h1v1h-1zM306 304h1v1h-1zM319 304h1v1h-1zM337 304h1v1h-1zM236 305h1v1h-1zM238 305h1v1h-1zM306 305h1v1h-1zM320 305h1v1h-1zM337 305h1v1h-1zM236 306h1v1h-1zM238 306h1v1h-1zM306 306h1v1h-1zM320 306h1v1h-1zM337 306h1v1h-1zM236 307h1v1h-1zM238 307h1v1h-1zM306 307h1v1h-1zM321 307h1v1h-1zM337 307h1v1h-1zM236 308h1v1h-1zM238 308h1v1h-1zM306 308h1v1h-1zM321 308h1v1h-1zM337 308h1v1h-1zM236 309h1v1h-1zM238 309h1v1h-1zM306 309h1v1h-1zM322 309h1v1h-1zM337 309h1v1h-1zM236 310h1v1h-1zM238 310h1v1h-1zM306 310h1v1h-1zM323 310h1v1h-1zM337 310h1v1h-1zM236 311h1v1h-1zM238 311h1v1h-1zM306 311h1v1h-1zM323 311h1v1h-1zM337 311h1v1h-1zM236 312h1v1h-1zM238 312h1v1h-1zM306 312h1v1h-1zM324 312h1v1h-1zM337 312h1v1h-1zM236 313h1v1h-1zM238 313h1v1h-1zM306 313h1v1h-1zM324 313h1v1h-1zM337 313h1v1h-1zM236 314h1v1h-1zM238 314h1v1h-1zM306 314h1v1h-1zM325 314h1v1h-1zM337 314h1v1h-1zM236 315h1v1h-1zM238 315h1v1h-1zM306 315h1v1h-1zM325 315h1v1h-1zM337 315h1v1h-1zM236 316h1v1h-1zM238 316h1v1h-1zM306 316h1v1h-1zM326 316h1v1h-1zM337 316h1v1h-1zM236 317h1v1h-1zM238 317h1v1h-1zM305 317h1v1h-1zM326 317h1v1h-1zM337 317h1v1h-1zM236 318h1v1h-1zM239 318h1v1h-1zM305 318h1v1h-1zM327 318h1v1h-1zM337 318h1v1h-1zM236 319h1v1h-1zM239 319h1v1h-1zM305 319h1v1h-1zM327 319h1v1h-1zM337 319h1v1h-1zM235 320h1v1h-1zM239 320h1v1h-1zM305 320h1v1h-1zM328 320h1v1h-1zM337 320h1v1h-1zM235 321h1v1h-1zM239 321h1v1h-1zM305 321h1v1h-1zM329 321h1v1h-1zM337 321h1v1h-1zM235 322h1v1h-1zM239 322h1v1h-1zM305 322h1v1h-1zM329 322h1v1h-1zM337 322h1v1h-1zM235 323h1v1h-1zM239 323h1v1h-1zM305 323h1v1h-1zM330 323h1v1h-1zM337 323h1v1h-1zM235 324h1v1h-1zM239 324h1v1h-1zM305 324h1v1h-1zM330 324h1v1h-1zM337 324h1v1h-1zM235 325h1v1h-1zM239 325h2v1h-2zM305 325h1v1h-1zM331 325h1v1h-1zM337 325h1v1h-1zM235 326h1v1h-1zM241 326h2v1h-2zM305 326h1v1h-1zM331 326h1v1h-1zM337 326h1v1h-1zM235 327h1v1h-1zM243 327h2v1h-2zM305 327h1v1h-1zM332 327h1v1h-1zM337 327h1v1h-1zM340 327h1v1h-1zM235 328h1v1h-1zM245 328h3v1h-3zM305 328h1v1h-1zM332 328h1v1h-1zM337 328h1v1h-1zM339 328h2v1h-2zM228 329h8v1h-8zM248 329h2v1h-2zM305 329h1v1h-1zM333 329h2v1h-2zM337 329h3v1h-3zM214 330h14v1h-14zM235 330h1v1h-1zM250 330h2v1h-2zM305 330h1v1h-1zM335 330h3v1h-3zM339 330h3v1h-3zM344 330h1v1h-1zM199 331h15v1h-15zM235 331h1v1h-1zM252 331h3v1h-3zM305 331h1v1h-1zM337 331h1v1h-1zM339 331h1v1h-1zM342 331h2v1h-2zM184 332h15v1h-15zM235 332h1v1h-1zM255 332h2v1h-2zM305 332h1v1h-1zM337 332h1v1h-1zM75 333h2v1h-2zM83 333h18v1h-18zM105 333h13v1h-13zM122 333h21v1h-21zM150 333h7v1h-7zM170 333h14v1h-14zM235 333h1v1h-1zM257 333h3v1h-3zM305 333h1v1h-1zM337 333h1v1h-1zM77 334h6v1h-6zM101 334h4v1h-4zM118 334h4v1h-4zM143 334h7v1h-7zM157 334h13v1h-13zM235 334h1v1h-1zM260 334h2v1h-2zM305 334h1v1h-1zM337 334h1v1h-1zM235 335h1v1h-1zM262 335h2v1h-2zM305 335h1v1h-1zM337 335h1v1h-1zM235 336h1v1h-1zM264 336h3v1h-3zM305 336h1v1h-1zM337 336h1v1h-1zM235 337h1v1h-1zM267 337h2v1h-2zM305 337h1v1h-1zM337 337h1v1h-1zM235 338h1v1h-1zM269 338h2v1h-2zM305 338h1v1h-1zM337 338h1v1h-1zM235 339h1v1h-1zM271 339h3v1h-3zM305 339h1v1h-1zM337 339h1v1h-1zM235 340h1v1h-1zM274 340h2v1h-2zM305 340h1v1h-1zM337 340h1v1h-1zM235 341h1v1h-1zM276 341h2v1h-2zM305 341h1v1h-1zM337 341h1v1h-1zM235 342h1v1h-1zM278 342h3v1h-3zM305 342h1v1h-1zM337 342h1v1h-1zM235 343h1v1h-1zM281 343h2v1h-2zM305 343h1v1h-1zM337 343h1v1h-1zM235 344h1v1h-1zM283 344h2v1h-2zM305 344h1v1h-1zM337 344h1v1h-1zM235 345h1v1h-1zM285 345h3v1h-3zM305 345h1v1h-1zM337 345h1v1h-1zM235 346h1v1h-1zM288 346h2v1h-2zM305 346h1v1h-1zM337 346h1v1h-1zM235 347h1v1h-1zM290 347h3v1h-3zM305 347h1v1h-1zM337 347h1v1h-1zM235 348h1v1h-1zM293 348h2v1h-2zM305 348h1v1h-1zM337 348h1v1h-1zM235 349h1v1h-1zM295 349h2v1h-2zM305 349h1v1h-1zM337 349h1v1h-1zM235 350h1v1h-1zM297 350h3v1h-3zM305 350h1v1h-1zM337 350h1v1h-1zM235 351h1v1h-1zM300 351h2v1h-2zM305 351h1v1h-1zM337 351h1v1h-1zM235 352h1v1h-1zM302 352h2v1h-2zM305 352h1v1h-1zM337 352h1v1h-1zM235 353h1v1h-1zM304 353h2v1h-2zM337 353h1v1h-1zM235 354h1v1h-1zM337 354h1v1h-1zM235 355h1v1h-1zM337 355h1v1h-1zM235 356h1v1h-1zM337 356h1v1h-1z" fill="#0000ff"/>
<path d="M71 333h9v1h-9z M75 329h1v9h-1z M74 332h3v3h-3z M73 331h1v1h-1z M73 335h1v1h-1z M77 331h1v1h-1z M77 335h1v1h-1z M72 330h1v1h-1z M72 336h1v1h-1z M78 330h1v1h-1z M78 336h1v1h-1z M74 334h9v1h-9z M78 330h1v9h-1z M77 333h3v3h-3z M76 332h1v1h-1z M76 336h1v1h-1z M80 332h1v1h-1z M80 336h1v1h-1z M75 331h1v1h-1z M75 337h1v1h-1z M81 331h1v1h-1z M81 337h1v1h-1z M77 334h9v1h-9z M81 330h1v9h-1z M80 333h3v3h-3z M79 332h1v1h-1z M79 336h1v1h-1z M83 332h1v1h-1z M83 336h1v1h-1z M78 331h1v1h-1z M78 337h1v1h-1z M84 331h1v1h-1z M84 337h1v1h-1z M81 333h9v1h-9z M85 329h1v9h-1z M84 332h3v3h-3z M83 331h1v1h-1z M83 335h1v1h-1z M87 331h1v1h-1z M87 335h1v1h-1z M82 330h1v1h-1z M82 336h1v1h-1z M88 330h1v1h-1z M88 336h1v1h-1z M85 333h9v1h-9z M89 329h1v9h-1z M88 332h3v3h-3z M87 331h1v1h-1z M87 335h1v1h-1z M91 331h1v1h-1z M91 335h1v1h-1z M86 330h1v1h-1z M86 336h1v1h-1z M92 330h1v1h-1z M92 336h1v1h-1z M94 333h9v1h-9z M98 329h1v9h-1z M97 332h3v3h-3z M96 331h1v1h-1z M96 335h1v1h-1z M100 331h1v1h-1z M100 335h1v1h-1z M95 330h1v1h-1z M95 336h1v1h-1z M101 330h1v1h-1z M101 336h1v1h-1z M94 333h9v1h-9z M98 329h1v9h-1z M97 332h3v3h-3z M96 331h1v1h-1z M96 335h1v1h-1z M100 331h1v1h-1z M100 335h1v1h-1z M95 330h1v1h-1z M95 336h1v1h-1z M101 330h1v1h-1z M101 336h1v1h-1z M99 334h9v1h-9z M103 330h1v9h-1z M102 333h3v3h-3z M101 332h1v1h-1z M101 336h1v1h-1z M105 332h1v1h-1z M105 336h1v1h-1z M100 331h1v1h-1z M100 337h1v1h-1z M106 331h1v1h-1z M106 337h1v1h-1z M102 333h9v1h-9z M106 329h1v9h-1z M105 332h3v3h-3z M104 331h1v1h-1z M104 335h1v1h-1z M108 331h1v1h-1z M108 335h1v1h-1z M103 330h1v1h-1z M103 336h1v1h-1z M109 330h1v1h-1z M109 336h1v1h-1z M103 333h9v1h-9z M107 329h1v9h-1z M106 332h3v3h-3z M105 331h1v1h-1z M105 335h1v1h-1z M109 331h1v1h-1z M109 335h1v1h-1z M104 330h1v1h-1z M104 336h1v1h-1z M110 330h1v1h-1z M110 336h1v1h-1z M106 333h9v1h-9z M110 329h1v9h-1z M109 332h3v3h-3z M108 331h1v1h-1z M108 335h1v1h-1z M112 331h1v1h-1z M112 335h1v1h-1z M107 330h1v1h-1z M107 336h1v1h-1z M113 330h1v1h-1z M113 336h1v1h-1z M112 333h9v1h-9z M116 329h1v9h-1z M115 332h3v3h-3z M114 331h1v1h-1z M114 335h1v1h-1z M118 331h1v1h-1z M118 335h1v1h-1z M113 330h1v1h-1z M113 336h1v1h-1z M119 330h1v1h-1z M119 336h1v1h-1z M116 334h9v1h-9z M120 330h1v9h-1z M119 333h3v3h-3z M118 332h1v1h-1z M118 336h1v1h-1z M122 332h1v1h-1z M122 336h1v1h-1z M117 331h1v1h-1z M117 337h1v1h-1z M123 331h1v1h-1z M123 337h1v1h-1z M120 333h9v1h-9z M124 329h1v9h-1z M123 332h3v3h-3z M122 331h1v1h-1z M122 335h1v1h-1z M126 331h1v1h-1z M126 335h1v1h-1z M121 330h1v1h-1z M121 336h1v1h-1z M127 330h1v1h-1z M127 336h1v1h-1z M123 333h9v1h-9z M127 329h1v9h-1z M126 332h3v3h-3z M125 331h1v1h-1z M125 335h1v1h-1z M129 331h1v1h-1z M129 335h1v1h-1z M124 330h1v1h-1z M124 336h1v1h-1z M130 330h1v1h-1z M130 336h1v1h-1z M126 333h9v1h-9z M130 329h1v9h-1z M129 332h3v3h-3z M128 331h1v1h-1z M128 335h1v1h-1z M132 331h1v1h-1z M132 335h1v1h-1z M127 330h1v1h-1z M127 336h1v1h-1z M133 330h1v1h-1z M133 336h1v1h-1z M127 333h9v1h-9z M131 329h1v9h-1z M130 332h3v3h-3z M129 331h1v1h-1z M129 335h1v1h-1z M133 331h1v1h-1z M133 335h1v1h-1z M128 330h1v1h-1z M128 336h1v1h-1z M134 330h1v1h-1z M134 336h1v1h-1z M130 333h9v1h-9z M134 329h1v9h-1z M133 332h3v3h-3z M132 331h1v1h-1z M132 335h1v1h-1z M136 331h1v1h-1z M136 335h1v1h-1z M131 330h1v1h-1z M131 336h1v1h-1z M137 330h1v1h-1z M137 336h1v1h-1z M134 333h9v1h-9z M138 329h1v9h-1z M137 332h3v3h-3z M136 331h1v1h-1z M136 335h1v1h-1z M140 331h1v1h-1z M140 335h1v1h-1z M135 330h1v1h-1z M135 336h1v1h-1z M141 330h1v1h-1z M141 336h1v1h-1z M144 334h9v1h-9z M148 330h1v9h-1z M147 333h3v3h-3z M146 332h1v1h-1z M146 336h1v1h-1z M150 332h1v1h-1z M150 336h1v1h-1z M145 331h1v1h-1z M145 337h1v1h-1z M151 331h1v1h-1z M151 337h1v1h-1z M144 334h9v1h-9z M148 330h1v9h-1z M147 333h3v3h-3z M146 332h1v1h-1z M146 336h1v1h-1z M150 332h1v1h-1z M150 336h1v1h-1z M145 331h1v1h-1z M145 337h1v1h-1z M151 331h1v1h-1z M151 337h1v1h-1z M148 333h9v1h-9z M152 329h1v9h-1z M151 332h3v3h-3z M150 331h1v1h-1z M150 335h1v1h-1z M154 331h1v1h-1z M154 335h1v1h-1z M149 330h1v1h-1z M149 336h1v1h-1z M155 330h1v1h-1z M155 336h1v1h-1z M158 334h9v1h-9z M162 330h1v9h-1z M161 333h3v3h-3z M160 332h1v1h-1z M160 336h1v1h-1z M164 332h1v1h-1z M164 336h1v1h-1z M159 331h1v1h-1z M159 337h1v1h-1z M165 331h1v1h-1z M165 337h1v1h-1z M231 329h9v1h-9z M235 325h1v9h-1z M234 328h3v3h-3z M233 327h1v1h-1z M233 331h1v1h-1z M237 327h1v1h-1z M237 331h1v1h-1z M232 326h1v1h-1z M232 332h1v1h-1z M238 326h1v1h-1z M238 332h1v1h-1z M231 356h9v1h-9z M235 352h1v9h-1z M234 355h3v3h-3z M233 354h1v1h-1z M233 358h1v1h-1z M237 354h1v1h-1z M237 358h1v1h-1z M232 353h1v1h-1z M232 359h1v1h-1z M238 353h1v1h-1z M238 359h1v1h-1z M232 282h9v1h-9z M236 278h1v9h-1z M235 281h3v3h-3z M234 280h1v1h-1z M234 284h1v1h-1z M238 280h1v1h-1z M238 284h1v1h-1z M233 279h1v1h-1z M233 285h1v1h-1z M239 279h1v1h-1z M239 285h1v1h-1z M235 325h9v1h-9z M239 321h1v9h-1z M238 324h3v3h-3z M237 323h1v1h-1z M237 327h1v1h-1z M241 323h1v1h-1z M241 327h1v1h-1z M236 322h1v1h-1z M236 328h1v1h-1z M242 322h1v1h-1z M242 328h1v1h-1z M301 353h9v1h-9z M305 349h1v9h-1z M304 352h3v3h-3z M303 351h1v1h-1z M303 355h1v1h-1z M307 351h1v1h-1z M307 355h1v1h-1z M302 350h1v1h-1z M302 356h1v1h-1z M308 350h1v1h-1z M308 356h1v1h-1z M302 280h9v1h-9z M306 276h1v9h-1z M305 279h3v3h-3z M304 278h1v1h-1z M304 282h1v1h-1z M308 278h1v1h-1z M308 282h1v1h-1z M303 277h1v1h-1z M303 283h1v1h-1z M309 277h1v1h-1z M309 283h1v1h-1z M329 329h9v1h-9z M333 325h1v9h-1z M332 328h3v3h-3z M331 327h1v1h-1z M331 331h1v1h-1z M335 327h1v1h-1z M335 331h1v1h-1z M330 326h1v1h-1z M330 332h1v1h-1z M336 326h1v1h-1z M336 332h1v1h-1z M333 330h9v1h-9z M337 326h1v9h-1z M336 329h3v3h-3z M335 328h1v1h-1z M335 332h1v1h-1z M339 328h1v1h-1z M339 332h1v1h-1z M334 327h1v1h-1z M334 333h1v1h-1z M340 327h1v1h-1z M340 333h1v1h-1z M333 356h9v1h-9z M337 352h1v9h-1z M336 355h3v3h-3z M335 354h1v1h-1z M335 358h1v1h-1z M339 354h1v1h-1z M339 358h1v1h-1z M334 353h1v1h-1z M334 359h1v1h-1z M340 353h1v1h-1z M340 359h1v1h-1z M333 282h9v1h-9z M337 278h1v9h-1z M336 281h3v3h-3z M335 280h1v1h-1z M335 284h1v1h-1z M339 280h1v1h-1z M339 284h1v1h-1z M334 279h1v1h-1z M334 285h1v1h-1z M340 279h1v1h-1z M340 285h1v1h-1z M333 330h9v1h-9z M337 326h1v9h-1z M336 329h3v3h-3z M335 328h1v1h-1z M335 332h1v1h-1z M339 328h1v1h-1z M339 332h1v1h-1z M334 327h1v1h-1z M334 333h1v1h-1z M340 327h1v1h-1z M340 333h1v1h-1z M336 327h9v1h-9z M340 323h1v9h-1z M339 326h3v3h-3z M338 325h1v1h-1z M338 329h1v1h-1z M342 325h1v1h-1z M342 329h1v1h-1z M337 324h1v1h-1z M337 330h1v1h-1z M343 324h1v1h-1z M343 330h1v1h-1z M335 331h9v1h-9z M339 327h1v9h-1z M338 330h3v3h-3z M337 329h1v1h-1z M337 333h1v1h-1z M341 329h1v1h-1z M341 333h1v1h-1z M336 328h1v1h-1z M336 334h1v1h-1z M342 328h1v1h-1z M342 334h1v1h-1z M337 330h9v1h-9z M341 326h1v9h-1z M340 329h3v3h-3z M339 328h1v1h-1z M339 332h1v1h-1z M343 328h1v1h-1z M343 332h1v1h-1z M338 327h1v1h-1z M338 333h1v1h-1z M344 327h1v1h-1z M344 333h1v1h-1z M339 331h9v1h-9z M343 327h1v9h-1z M342 330h3v3h-3z M341 329h1v1h-1z M341 333h1v1h-1z M345 329h1v1h-1z M345 333h1v1h-1z M340 328h1v1h-1z M340 334h1v1h-1z M346 328h1v1h-1z M346 334h1v1h-1z M340 330h9v1h-9z M344 326h1v9h-1z M343 329h3v3h-3z M342 328h1v1h-1z M342 332h1v1h-1z M346 328h1v1h-1z M346 332h1v1h-1z M341 327h1v1h-1z M341 333h1v1h-1z M347 327h1v1h-1z M347 333h1v1h-1z" fill="#000"/>
<rect x="12.5" y="261.5" width="322" height="12" fill="#fff" stroke="#000" stroke-width="1"/>
<text x="172.4" y="269.8" text-anchor="middle" class="tt">North Sta-2 Oct-3 Pedestals vrs Day (Packet 11233)</text>
<rect x="468.5" y="272.5" width="322" height="92" fill="none" stroke="#000" stroke-width="1"/>
<path d="M473 362h1v2h-1zM480 362h1v2h-1zM487 361h1v3h-1zM494 362h1v2h-1zM501 362h1v2h-1zM508 362h1v2h-1zM515 362h1v2h-1zM522 361h1v3h-1zM529 362h1v2h-1zM536 362h1v2h-1zM543 362h1v2h-1zM550 362h1v2h-1zM557 361h1v3h-1zM564 362h1v2h-1zM571 362h1v2h-1zM578 362h1v2h-1zM585 362h1v2h-1zM592 361h1v3h-1zM599 362h1v2h-1zM606 362h1v2h-1zM613 362h1v2h-1zM620 362h1v2h-1zM627 361h1v3h-1zM634 362h1v2h-1zM641 362h1v2h-1zM648 362h1v2h-1zM655 362h1v2h-1zM662 361h1v3h-1zM668 362h1v2h-1zM675 362h1v2h-1zM682 362h1v2h-1zM689 362h1v2h-1zM696 361h1v3h-1zM703 362h1v2h-1zM710 362h1v2h-1zM717 362h1v2h-1zM724 362h1v2h-1zM731 361h1v3h-1zM738 362h1v2h-1zM745 362h1v2h-1zM752 362h1v2h-1zM759 362h1v2h-1zM766 361h1v3h-1zM773 362h1v2h-1zM780 362h1v2h-1zM787 362h1v2h-1zM469 363h5v1h-5zM469 358h5v1h-5zM469 354h5v1h-5zM469 350h9v1h-9zM469 345h5v1h-5zM469 341h5v1h-5zM469 336h5v1h-5zM469 332h9v1h-9zM469 327h5v1h-5zM469 323h5v1h-5zM469 318h5v1h-5zM469 314h9v1h-9zM469 310h5v1h-5zM469 305h5v1h-5zM469 301h5v1h-5zM469 296h9v1h-9zM469 292h5v1h-5zM469 287h5v1h-5zM469 283h5v1h-5zM469 278h9v1h-9zM469 274h5v1h-5z" fill="#000"/>
<text x="465.2" y="353.0" text-anchor="end" class="yl">1760</text>
<text x="465.2" y="335.0" text-anchor="end" class="yl">1780</text>
<text x="465.2" y="317.0" text-anchor="end" class="yl">1800</text>
<text x="465.2" y="299.0" text-anchor="end" class="yl">1820</text>
<text x="465.2" y="281.0" text-anchor="end" class="yl">1840</text>
<text x="486.0" y="371.2" text-anchor="middle" class="xl">150</text>
<text x="521.0" y="371.2" text-anchor="middle" class="xl">160</text>
<text x="556.0" y="371.2" text-anchor="middle" class="xl">170</text>
<text x="591.0" y="371.2" text-anchor="middle" class="xl">180</text>
<text x="626.0" y="371.2" text-anchor="middle" class="xl">190</text>
<text x="661.0" y="371.2" text-anchor="middle" class="xl">200</text>
<text x="695.0" y="371.2" text-anchor="middle" class="xl">210</text>
<text x="730.0" y="371.2" text-anchor="middle" class="xl">220</text>
<text x="765.0" y="371.2" text-anchor="middle" class="xl">230</text>
<path d="M757 280h1v1h-1zM757 281h1v1h-1zM757 282h1v1h-1zM757 283h2v1h-2zM757 284h2v1h-2zM757 285h2v1h-2zM757 286h2v1h-2zM757 287h2v1h-2zM757 288h2v1h-2zM757 289h1v1h-1zM759 289h1v1h-1zM757 290h1v1h-1zM759 290h1v1h-1zM757 291h1v1h-1zM759 291h1v1h-1zM757 292h1v1h-1zM759 292h1v1h-1zM757 293h1v1h-1zM759 293h1v1h-1zM757 294h1v1h-1zM759 294h1v1h-1zM757 295h1v1h-1zM760 295h1v1h-1zM757 296h1v1h-1zM760 296h1v1h-1zM659 297h1v1h-1zM757 297h1v1h-1zM760 297h1v1h-1zM659 298h2v1h-2zM757 298h1v1h-1zM760 298h2v1h-2zM764 298h1v1h-1zM646 299h10v1h-10zM658 299h1v1h-1zM661 299h1v1h-1zM749 299h5v1h-5zM757 299h1v1h-1zM759 299h1v1h-1zM762 299h2v1h-2zM628 300h18v1h-18zM655 300h1v1h-1zM658 300h1v1h-1zM662 300h1v1h-1zM740 300h9v1h-9zM754 300h1v1h-1zM757 300h1v1h-1zM610 301h18v1h-18zM655 301h1v1h-1zM658 301h1v1h-1zM663 301h2v1h-2zM731 301h9v1h-9zM755 301h1v1h-1zM757 301h1v1h-1zM592 302h18v1h-18zM655 302h1v1h-1zM657 302h1v1h-1zM665 302h1v1h-1zM726 302h5v1h-5zM755 302h1v1h-1zM757 302h1v1h-1zM495 303h2v1h-2zM507 303h7v1h-7zM521 303h12v1h-12zM563 303h29v1h-29zM655 303h1v1h-1zM657 303h1v1h-1zM666 303h1v1h-1zM726 303h1v1h-1zM756 303h2v1h-2zM497 304h10v1h-10zM514 304h7v1h-7zM533 304h30v1h-30zM655 304h1v1h-1zM657 304h1v1h-1zM667 304h1v1h-1zM726 304h1v1h-1zM757 304h1v1h-1zM655 305h2v1h-2zM668 305h1v1h-1zM726 305h1v1h-1zM757 305h1v1h-1zM655 306h2v1h-2zM669 306h1v1h-1zM726 306h1v1h-1zM757 306h1v1h-1zM655 307h2v1h-2zM670 307h1v1h-1zM726 307h1v1h-1zM757 307h1v1h-1zM655 308h2v1h-2zM671 308h2v1h-2zM726 308h1v1h-1zM757 308h1v1h-1zM655 309h2v1h-2zM673 309h1v1h-1zM726 309h1v1h-1zM757 309h1v1h-1zM655 310h2v1h-2zM674 310h1v1h-1zM726 310h1v1h-1zM757 310h1v1h-1zM655 311h2v1h-2zM675 311h1v1h-1zM726 311h1v1h-1zM757 311h1v1h-1zM655 312h2v1h-2zM676 312h1v1h-1zM726 312h1v1h-1zM757 312h1v1h-1zM655 313h2v1h-2zM677 313h1v1h-1zM726 313h1v1h-1zM757 313h1v1h-1zM655 314h2v1h-2zM678 314h1v1h-1zM726 314h1v1h-1zM757 314h1v1h-1zM655 315h2v1h-2zM679 315h2v1h-2zM726 315h1v1h-1zM757 315h1v1h-1zM655 316h2v1h-2zM681 316h1v1h-1zM726 316h1v1h-1zM757 316h1v1h-1zM655 317h2v1h-2zM682 317h1v1h-1zM726 317h1v1h-1zM757 317h1v1h-1zM655 318h2v1h-2zM683 318h1v1h-1zM726 318h1v1h-1zM757 318h1v1h-1zM655 319h2v1h-2zM684 319h1v1h-1zM726 319h1v1h-1zM757 319h1v1h-1zM655 320h2v1h-2zM685 320h1v1h-1zM726 320h1v1h-1zM757 320h1v1h-1zM655 321h2v1h-2zM686 321h1v1h-1zM726 321h1v1h-1zM757 321h1v1h-1zM655 322h2v1h-2zM687 322h2v1h-2zM726 322h1v1h-1zM757 322h1v1h-1zM655 323h2v1h-2zM689 323h1v1h-1zM726 323h1v1h-1zM757 323h1v1h-1zM655 324h2v1h-2zM690 324h1v1h-1zM726 324h1v1h-1zM757 324h1v1h-1zM655 325h2v1h-2zM691 325h1v1h-1zM726 325h1v1h-1zM757 325h1v1h-1zM655 326h2v1h-2zM692 326h1v1h-1zM726 326h1v1h-1zM757 326h1v1h-1zM655 327h2v1h-2zM693 327h1v1h-1zM726 327h1v1h-1zM757 327h1v1h-1zM655 328h2v1h-2zM694 328h1v1h-1zM726 328h1v1h-1zM757 328h1v1h-1zM655 329h2v1h-2zM695 329h1v1h-1zM725 329h1v1h-1zM757 329h1v1h-1zM655 330h2v1h-2zM696 330h2v1h-2zM725 330h1v1h-1zM757 330h1v1h-1zM655 331h2v1h-2zM698 331h1v1h-1zM725 331h1v1h-1zM757 331h1v1h-1zM655 332h1v1h-1zM699 332h1v1h-1zM725 332h1v1h-1zM757 332h1v1h-1zM655 333h1v1h-1zM700 333h1v1h-1zM725 333h1v1h-1zM757 333h1v1h-1zM655 334h1v1h-1zM701 334h1v1h-1zM725 334h1v1h-1zM757 334h1v1h-1zM655 335h1v1h-1zM702 335h1v1h-1zM725 335h1v1h-1zM757 335h1v1h-1zM655 336h1v1h-1zM703 336h1v1h-1zM725 336h1v1h-1zM757 336h1v1h-1zM655 337h1v1h-1zM704 337h2v1h-2zM725 337h1v1h-1zM757 337h1v1h-1zM655 338h1v1h-1zM706 338h1v1h-1zM725 338h1v1h-1zM757 338h1v1h-1zM655 339h1v1h-1zM707 339h1v1h-1zM725 339h1v1h-1zM757 339h1v1h-1zM655 340h1v1h-1zM708 340h1v1h-1zM725 340h1v1h-1zM757 340h1v1h-1zM655 341h1v1h-1zM709 341h1v1h-1zM725 341h1v1h-1zM757 341h1v1h-1zM655 342h1v1h-1zM710 342h1v1h-1zM725 342h1v1h-1zM757 342h1v1h-1zM655 343h1v1h-1zM711 343h1v1h-1zM725 343h1v1h-1zM757 343h1v1h-1zM655 344h1v1h-1zM712 344h2v1h-2zM725 344h1v1h-1zM757 344h1v1h-1zM655 345h1v1h-1zM714 345h1v1h-1zM725 345h1v1h-1zM757 345h1v1h-1zM655 346h1v1h-1zM715 346h1v1h-1zM725 346h1v1h-1zM757 346h1v1h-1zM655 347h1v1h-1zM716 347h1v1h-1zM725 347h1v1h-1zM757 347h1v1h-1zM655 348h1v1h-1zM717 348h1v1h-1zM725 348h1v1h-1zM757 348h1v1h-1zM655 349h1v1h-1zM718 349h1v1h-1zM725 349h1v1h-1zM757 349h1v1h-1zM655 350h1v1h-1zM719 350h1v1h-1zM725 350h1v1h-1zM757 350h1v1h-1zM655 351h1v1h-1zM720 351h2v1h-2zM725 351h1v1h-1zM757 351h1v1h-1zM655 352h1v1h-1zM722 352h1v1h-1zM725 352h1v1h-1zM757 352h1v1h-1zM655 353h1v1h-1zM723 353h1v1h-1zM725 353h1v1h-1zM757 353h1v1h-1zM655 354h1v1h-1zM724 354h2v1h-2zM757 354h1v1h-1zM655 355h1v1h-1zM725 355h1v1h-1zM757 355h1v1h-1zM655 356h1v1h-1zM757 356h1v1h-1z" fill="#0000ff"/>
<path d="M491 303h9v1h-9z M495 299h1v9h-1z M494 302h3v3h-3z M493 301h1v1h-1z M493 305h1v1h-1z M497 301h1v1h-1z M497 305h1v1h-1z M492 300h1v1h-1z M492 306h1v1h-1z M498 300h1v1h-1z M498 306h1v1h-1z M494 304h9v1h-9z M498 300h1v9h-1z M497 303h3v3h-3z M496 302h1v1h-1z M496 306h1v1h-1z M500 302h1v1h-1z M500 306h1v1h-1z M495 301h1v1h-1z M495 307h1v1h-1z M501 301h1v1h-1z M501 307h1v1h-1z M497 304h9v1h-9z M501 300h1v9h-1z M500 303h3v3h-3z M499 302h1v1h-1z M499 306h1v1h-1z M503 302h1v1h-1z M503 306h1v1h-1z M498 301h1v1h-1z M498 307h1v1h-1z M504 301h1v1h-1z M504 307h1v1h-1z M501 304h9v1h-9z M505 300h1v9h-1z M504 303h3v3h-3z M503 302h1v1h-1z M503 306h1v1h-1z M507 302h1v1h-1z M507 306h1v1h-1z M502 301h1v1h-1z M502 307h1v1h-1z M508 301h1v1h-1z M508 307h1v1h-1z M505 303h9v1h-9z M509 299h1v9h-1z M508 302h3v3h-3z M507 301h1v1h-1z M507 305h1v1h-1z M511 301h1v1h-1z M511 305h1v1h-1z M506 300h1v1h-1z M506 306h1v1h-1z M512 300h1v1h-1z M512 306h1v1h-1z M514 304h9v1h-9z M518 300h1v9h-1z M517 303h3v3h-3z M516 302h1v1h-1z M516 306h1v1h-1z M520 302h1v1h-1z M520 306h1v1h-1z M515 301h1v1h-1z M515 307h1v1h-1z M521 301h1v1h-1z M521 307h1v1h-1z M514 304h9v1h-9z M518 300h1v9h-1z M517 303h3v3h-3z M516 302h1v1h-1z M516 306h1v1h-1z M520 302h1v1h-1z M520 306h1v1h-1z M515 301h1v1h-1z M515 307h1v1h-1z M521 301h1v1h-1z M521 307h1v1h-1z M519 303h9v1h-9z M523 299h1v9h-1z M522 302h3v3h-3z M521 301h1v1h-1z M521 305h1v1h-1z M525 301h1v1h-1z M525 305h1v1h-1z M520 300h1v1h-1z M520 306h1v1h-1z M526 300h1v1h-1z M526 306h1v1h-1z M522 303h9v1h-9z M526 299h1v9h-1z M525 302h3v3h-3z M524 301h1v1h-1z M524 305h1v1h-1z M528 301h1v1h-1z M528 305h1v1h-1z M523 300h1v1h-1z M523 306h1v1h-1z M529 300h1v1h-1z M529 306h1v1h-1z M523 303h9v1h-9z M527 299h1v9h-1z M526 302h3v3h-3z M525 301h1v1h-1z M525 305h1v1h-1z M529 301h1v1h-1z M529 305h1v1h-1z M524 300h1v1h-1z M524 306h1v1h-1z M530 300h1v1h-1z M530 306h1v1h-1z M526 303h9v1h-9z M530 299h1v9h-1z M529 302h3v3h-3z M528 301h1v1h-1z M528 305h1v1h-1z M532 301h1v1h-1z M532 305h1v1h-1z M527 300h1v1h-1z M527 306h1v1h-1z M533 300h1v1h-1z M533 306h1v1h-1z M532 304h9v1h-9z M536 300h1v9h-1z M535 303h3v3h-3z M534 302h1v1h-1z M534 306h1v1h-1z M538 302h1v1h-1z M538 306h1v1h-1z M533 301h1v1h-1z M533 307h1v1h-1z M539 301h1v1h-1z M539 307h1v1h-1z M536 304h9v1h-9z M540 300h1v9h-1z M539 303h3v3h-3z M538 302h1v1h-1z M538 306h1v1h-1z M542 302h1v1h-1z M542 306h1v1h-1z M537 301h1v1h-1z M537 307h1v1h-1z M543 301h1v1h-1z M543 307h1v1h-1z M540 304h9v1h-9z M544 300h1v9h-1z M543 303h3v3h-3z M542 302h1v1h-1z M542 306h1v1h-1z M546 302h1v1h-1z M546 306h1v1h-1z M541 301h1v1h-1z M541 307h1v1h-1z M547 301h1v1h-1z M547 307h1v1h-1z M543 304h9v1h-9z M547 300h1v9h-1z M546 303h3v3h-3z M545 302h1v1h-1z M545 306h1v1h-1z M549 302h1v1h-1z M549 306h1v1h-1z M544 301h1v1h-1z M544 307h1v1h-1z M550 301h1v1h-1z M550 307h1v1h-1z M546 304h9v1h-9z M550 300h1v9h-1z M549 303h3v3h-3z M548 302h1v1h-1z M548 306h1v1h-1z M552 302h1v1h-1z M552 306h1v1h-1z M547 301h1v1h-1z M547 307h1v1h-1z M553 301h1v1h-1z M553 307h1v1h-1z M547 304h9v1h-9z M551 300h1v9h-1z M550 303h3v3h-3z M549 302h1v1h-1z M549 306h1v1h-1z M553 302h1v1h-1z M553 306h1v1h-1z M548 301h1v1h-1z M548 307h1v1h-1z M554 301h1v1h-1z M554 307h1v1h-1z M550 304h9v1h-9z M554 300h1v9h-1z M553 303h3v3h-3z M552 302h1v1h-1z M552 306h1v1h-1z M556 302h1v1h-1z M556 306h1v1h-1z M551 301h1v1h-1z M551 307h1v1h-1z M557 301h1v1h-1z M557 307h1v1h-1z M554 304h9v1h-9z M558 300h1v9h-1z M557 303h3v3h-3z M556 302h1v1h-1z M556 306h1v1h-1z M560 302h1v1h-1z M560 306h1v1h-1z M555 301h1v1h-1z M555 307h1v1h-1z M561 301h1v1h-1z M561 307h1v1h-1z M564 303h9v1h-9z M568 299h1v9h-1z M567 302h3v3h-3z M566 301h1v1h-1z M566 305h1v1h-1z M570 301h1v1h-1z M570 305h1v1h-1z M565 300h1v1h-1z M565 306h1v1h-1z M571 300h1v1h-1z M571 306h1v1h-1z M564 303h9v1h-9z M568 299h1v9h-1z M567 302h3v3h-3z M566 301h1v1h-1z M566 305h1v1h-1z M570 301h1v1h-1z M570 305h1v1h-1z M565 300h1v1h-1z M565 306h1v1h-1z M571 300h1v1h-1z M571 306h1v1h-1z M568 303h9v1h-9z M572 299h1v9h-1z M571 302h3v3h-3z M570 301h1v1h-1z M570 305h1v1h-1z M574 301h1v1h-1z M574 305h1v1h-1z M569 300h1v1h-1z M569 306h1v1h-1z M575 300h1v1h-1z M575 306h1v1h-1z M578 303h9v1h-9z M582 299h1v9h-1z M581 302h3v3h-3z M580 301h1v1h-1z M580 305h1v1h-1z M584 301h1v1h-1z M584 305h1v1h-1z M579 300h1v1h-1z M579 306h1v1h-1z M585 300h1v1h-1z M585 306h1v1h-1z M651 299h9v1h-9z M655 295h1v9h-1z M654 298h3v3h-3z M653 297h1v1h-1z M653 301h1v1h-1z M657 297h1v1h-1z M657 301h1v1h-1z M652 296h1v1h-1z M652 302h1v1h-1z M658 296h1v1h-1z M658 302h1v1h-1z M651 356h9v1h-9z M655 352h1v9h-1z M654 355h3v3h-3z M653 354h1v1h-1z M653 358h1v1h-1z M657 354h1v1h-1z M657 358h1v1h-1z M652 353h1v1h-1z M652 359h1v1h-1z M658 353h1v1h-1z M658 359h1v1h-1z M652 306h9v1h-9z M656 302h1v9h-1z M655 305h3v3h-3z M654 304h1v1h-1z M654 308h1v1h-1z M658 304h1v1h-1z M658 308h1v1h-1z M653 303h1v1h-1z M653 309h1v1h-1z M659 303h1v1h-1z M659 309h1v1h-1z M655 297h9v1h-9z M659 293h1v9h-1z M658 296h3v3h-3z M657 295h1v1h-1z M657 299h1v1h-1z M661 295h1v1h-1z M661 299h1v1h-1z M656 294h1v1h-1z M656 300h1v1h-1z M662 294h1v1h-1z M662 300h1v1h-1z M721 355h9v1h-9z M725 351h1v9h-1z M724 354h3v3h-3z M723 353h1v1h-1z M723 357h1v1h-1z M727 353h1v1h-1z M727 357h1v1h-1z M722 352h1v1h-1z M722 358h1v1h-1z M728 352h1v1h-1z M728 358h1v1h-1z M722 302h9v1h-9z M726 298h1v9h-1z M725 301h3v3h-3z M724 300h1v1h-1z M724 304h1v1h-1z M728 300h1v1h-1z M728 304h1v1h-1z M723 299h1v1h-1z M723 305h1v1h-1z M729 299h1v1h-1z M729 305h1v1h-1z M749 299h9v1h-9z M753 295h1v9h-1z M752 298h3v3h-3z M751 297h1v1h-1z M751 301h1v1h-1z M755 297h1v1h-1z M755 301h1v1h-1z M750 296h1v1h-1z M750 302h1v1h-1z M756 296h1v1h-1z M756 302h1v1h-1z M753 304h9v1h-9z M757 300h1v9h-1z M756 303h3v3h-3z M755 302h1v1h-1z M755 306h1v1h-1z M759 302h1v1h-1z M759 306h1v1h-1z M754 301h1v1h-1z M754 307h1v1h-1z M760 301h1v1h-1z M760 307h1v1h-1z M753 356h9v1h-9z M757 352h1v9h-1z M756 355h3v3h-3z M755 354h1v1h-1z M755 358h1v1h-1z M759 354h1v1h-1z M759 358h1v1h-1z M754 353h1v1h-1z M754 359h1v1h-1z M760 353h1v1h-1z M760 359h1v1h-1z M753 280h9v1h-9z M757 276h1v9h-1z M756 279h3v3h-3z M755 278h1v1h-1z M755 282h1v1h-1z M759 278h1v1h-1z M759 282h1v1h-1z M754 277h1v1h-1z M754 283h1v1h-1z M760 277h1v1h-1z M760 283h1v1h-1z M756 298h9v1h-9z M760 294h1v9h-1z M759 297h3v3h-3z M758 296h1v1h-1z M758 300h1v1h-1z M762 296h1v1h-1z M762 300h1v1h-1z M757 295h1v1h-1z M757 301h1v1h-1z M763 295h1v1h-1z M763 301h1v1h-1z M755 299h9v1h-9z M759 295h1v9h-1z M758 298h3v3h-3z M757 297h1v1h-1z M757 301h1v1h-1z M761 297h1v1h-1z M761 301h1v1h-1z M756 296h1v1h-1z M756 302h1v1h-1z M762 296h1v1h-1z M762 302h1v1h-1z M757 298h9v1h-9z M761 294h1v9h-1z M760 297h3v3h-3z M759 296h1v1h-1z M759 300h1v1h-1z M763 296h1v1h-1z M763 300h1v1h-1z M758 295h1v1h-1z M758 301h1v1h-1z M764 295h1v1h-1z M764 301h1v1h-1z M759 299h9v1h-9z M763 295h1v9h-1z M762 298h3v3h-3z M761 297h1v1h-1z M761 301h1v1h-1z M765 297h1v1h-1z M765 301h1v1h-1z M760 296h1v1h-1z M760 302h1v1h-1z M766 296h1v1h-1z M766 302h1v1h-1z M760 298h9v1h-9z M764 294h1v9h-1z M763 297h3v3h-3z M762 296h1v1h-1z M762 300h1v1h-1z M766 296h1v1h-1z M766 300h1v1h-1z M761 295h1v1h-1z M761 301h1v1h-1z M767 295h1v1h-1z M767 301h1v1h-1z" fill="#000"/>
<rect x="432.5" y="261.5" width="322" height="12" fill="#fff" stroke="#000" stroke-width="1"/>
<text x="592.4" y="269.8" text-anchor="middle" class="tt">North Sta-2 Oct-3 Pedestals vrs Day (Packet 11234)</text>
<rect x="48.5" y="400.5" width="322" height="92" fill="none" stroke="#000" stroke-width="1"/>
<path d="M53 490h1v2h-1zM60 490h1v2h-1zM67 489h1v3h-1zM74 490h1v2h-1zM81 490h1v2h-1zM88 490h1v2h-1zM95 490h1v2h-1zM102 489h1v3h-1zM109 490h1v2h-1zM116 490h1v2h-1zM123 490h1v2h-1zM130 490h1v2h-1zM137 489h1v3h-1zM144 490h1v2h-1zM151 490h1v2h-1zM158 490h1v2h-1zM165 490h1v2h-1zM172 489h1v3h-1zM179 490h1v2h-1zM186 490h1v2h-1zM193 490h1v2h-1zM200 490h1v2h-1zM207 489h1v3h-1zM214 490h1v2h-1zM221 490h1v2h-1zM228 490h1v2h-1zM235 490h1v2h-1zM242 489h1v3h-1zM248 490h1v2h-1zM255 490h1v2h-1zM262 490h1v2h-1zM269 490h1v2h-1zM276 489h1v3h-1zM283 490h1v2h-1zM290 490h1v2h-1zM297 490h1v2h-1zM304 490h1v2h-1zM311 489h1v3h-1zM318 490h1v2h-1zM325 490h1v2h-1zM332 490h1v2h-1zM339 490h1v2h-1zM346 489h1v3h-1zM353 490h1v2h-1zM360 490h1v2h-1zM367 490h1v2h-1zM49 489h5v1h-5zM49 486h5v1h-5zM49 482h5v1h-5zM49 479h9v1h-9zM49 475h5v1h-5zM49 472h5v1h-5zM49 468h5v1h-5zM49 464h9v1h-9zM49 461h5v1h-5zM49 457h5v1h-5zM49 454h5v1h-5zM49 450h9v1h-9zM49 447h5v1h-5zM49 443h5v1h-5zM49 440h5v1h-5zM49 436h9v1h-9zM49 432h5v1h-5zM49 429h5v1h-5zM49 425h5v1h-5zM49 422h9v1h-9zM49 418h5v1h-5zM49 415h5v1h-5zM49 411h5v1h-5zM49 408h9v1h-9zM49 404h5v1h-5zM49 401h5v1h-5z" fill="#000"/>
<text x="45.2" y="482.0" text-anchor="end" class="yl">1780</text>
<text x="45.2" y="467.0" text-anchor="end" class="yl">1800</text>
<text x="45.2" y="453.0" text-anchor="end" class="yl">1820</text>
<text x="45.2" y="439.0" text-anchor="end" class="yl">1840</text>
<text x="45.2" y="425.0" text-anchor="end" class="yl">1860</text>
<text x="45.2" y="411.0" text-anchor="end" class="yl">1880</text>
<text x="66.0" y="499.2" text-anchor="middle" class="xl">150</text>
<text x="101.0" y="499.2" text-anchor="middle" class="xl">160</text>
<text x="136.0" y="499.2" text-anchor="middle" class="xl">170</text>
<text x="171.0" y="499.2" text-anchor="middle" class="xl">180</text>
<text x="206.0" y="499.2" text-anchor="middle" class="xl">190</text>
<text x="241.0" y="499.2" text-anchor="middle" class="xl">200</text>
<text x="275.0" y="499.2" text-anchor="middle" class="xl">210</text>
<text x="310.0" y="499.2" text-anchor="middle" class="xl">220</text>
<text x="345.0" y="499.2" text-anchor="middle" class="xl">230</text>
<path d="M337 408h1v1h-1zM337 409h1v1h-1zM337 410h1v1h-1zM337 411h1v1h-1zM337 412h1v1h-1zM337 413h1v1h-1zM337 414h1v1h-1zM337 415h1v1h-1zM337 416h1v1h-1zM337 417h1v1h-1zM337 418h2v1h-2zM337 419h2v1h-2zM337 420h2v1h-2zM337 421h2v1h-2zM337 422h2v1h-2zM337 423h2v1h-2zM337 424h2v1h-2zM337 425h2v1h-2zM337 426h2v1h-2zM337 427h2v1h-2zM337 428h2v1h-2zM337 429h2v1h-2zM337 430h2v1h-2zM337 431h2v1h-2zM337 432h2v1h-2zM337 433h2v1h-2zM337 434h2v1h-2zM337 435h2v1h-2zM337 436h1v1h-1zM339 436h1v1h-1zM337 437h1v1h-1zM339 437h1v1h-1zM337 438h1v1h-1zM339 438h1v1h-1zM337 439h1v1h-1zM339 439h1v1h-1zM337 440h1v1h-1zM339 440h1v1h-1zM337 441h1v1h-1zM339 441h1v1h-1zM337 442h1v1h-1zM339 442h1v1h-1zM337 443h1v1h-1zM339 443h1v1h-1zM337 444h1v1h-1zM339 444h1v1h-1zM337 445h1v1h-1zM339 445h1v1h-1zM337 446h1v1h-1zM339 446h1v1h-1zM337 447h1v1h-1zM339 447h1v1h-1zM337 448h1v1h-1zM339 448h1v1h-1zM306 449h2v1h-2zM337 449h1v1h-1zM339 449h1v1h-1zM306 450h1v1h-1zM308 450h2v1h-2zM337 450h1v1h-1zM339 450h1v1h-1zM236 451h1v1h-1zM306 451h1v1h-1zM310 451h2v1h-2zM337 451h1v1h-1zM339 451h1v1h-1zM236 452h1v1h-1zM306 452h1v1h-1zM312 452h2v1h-2zM337 452h1v1h-1zM339 452h1v1h-1zM236 453h2v1h-2zM306 453h1v1h-1zM314 453h2v1h-2zM337 453h1v1h-1zM339 453h1v1h-1zM236 454h2v1h-2zM306 454h1v1h-1zM316 454h2v1h-2zM337 454h1v1h-1zM340 454h1v1h-1zM236 455h2v1h-2zM306 455h1v1h-1zM318 455h2v1h-2zM337 455h1v1h-1zM340 455h1v1h-1zM236 456h2v1h-2zM306 456h1v1h-1zM320 456h2v1h-2zM337 456h1v1h-1zM340 456h1v1h-1zM236 457h1v1h-1zM238 457h1v1h-1zM306 457h1v1h-1zM322 457h2v1h-2zM337 457h1v1h-1zM340 457h1v1h-1zM236 458h1v1h-1zM238 458h1v1h-1zM306 458h1v1h-1zM324 458h2v1h-2zM337 458h1v1h-1zM340 458h1v1h-1zM236 459h1v1h-1zM238 459h1v1h-1zM306 459h1v1h-1zM326 459h2v1h-2zM337 459h1v1h-1zM340 459h1v1h-1zM236 460h1v1h-1zM238 460h1v1h-1zM306 460h1v1h-1zM328 460h2v1h-2zM337 460h1v1h-1zM340 460h1v1h-1zM236 461h1v1h-1zM239 461h1v1h-1zM306 461h1v1h-1zM330 461h2v1h-2zM337 461h1v1h-1zM340 461h1v1h-1zM217 462h20v1h-20zM239 462h2v1h-2zM306 462h1v1h-1zM332 462h3v1h-3zM337 462h1v1h-1zM339 462h2v1h-2zM342 462h2v1h-2zM181 463h36v1h-36zM235 463h2v1h-2zM241 463h3v1h-3zM306 463h1v1h-1zM335 463h3v1h-3zM340 463h2v1h-2zM344 463h1v1h-1zM75 464h19v1h-19zM98 464h45v1h-45zM148 464h33v1h-33zM235 464h2v1h-2zM244 464h3v1h-3zM306 464h1v1h-1zM337 464h1v1h-1zM94 465h5v1h-5zM143 465h6v1h-6zM235 465h2v1h-2zM247 465h3v1h-3zM306 465h1v1h-1zM337 465h1v1h-1zM235 466h2v1h-2zM250 466h4v1h-4zM306 466h1v1h-1zM337 466h1v1h-1zM235 467h2v1h-2zM254 467h3v1h-3zM305 467h1v1h-1zM337 467h1v1h-1zM235 468h1v1h-1zM257 468h3v1h-3zM305 468h1v1h-1zM337 468h1v1h-1zM235 469h1v1h-1zM260 469h3v1h-3zM305 469h1v1h-1zM337 469h1v1h-1zM235 470h1v1h-1zM263 470h3v1h-3zM305 470h1v1h-1zM337 470h1v1h-1zM235 471h1v1h-1zM266 471h3v1h-3zM305 471h1v1h-1zM337 471h1v1h-1zM235 472h1v1h-1zM269 472h3v1h-3zM305 472h1v1h-1zM337 472h1v1h-1zM235 473h1v1h-1zM272 473h4v1h-4zM305 473h1v1h-1zM337 473h1v1h-1zM235 474h1v1h-1zM276 474h3v1h-3zM305 474h1v1h-1zM337 474h1v1h-1zM235 475h1v1h-1zM279 475h3v1h-3zM305 475h1v1h-1zM337 475h1v1h-1zM235 476h1v1h-1zM282 476h3v1h-3zM305 476h1v1h-1zM337 476h1v1h-1zM235 477h1v1h-1zM285 477h3v1h-3zM305 477h1v1h-1zM337 477h1v1h-1zM235 478h1v1h-1zM288 478h3v1h-3zM305 478h1v1h-1zM337 478h1v1h-1zM235 479h1v1h-1zM291 479h3v1h-3zM305 479h1v1h-1zM337 479h1v1h-1zM235 480h1v1h-1zM294 480h4v1h-4zM305 480h1v1h-1zM337 480h1v1h-1zM235 481h1v1h-1zM298 481h3v1h-3zM305 481h1v1h-1zM337 481h1v1h-1zM235 482h1v1h-1zM301 482h3v1h-3zM305 482h1v1h-1zM337 482h1v1h-1zM235 483h1v1h-1zM304 483h2v1h-2zM337 483h1v1h-1zM235 484h1v1h-1zM337 484h1v1h-1z" fill="#0000ff"/>
<path d="M71 464h9v1h-9z M75 460h1v9h-1z M74 463h3v3h-3z M73 462h1v1h-1z M73 466h1v1h-1z M77 462h1v1h-1z M77 466h1v1h-1z M72 461h1v1h-1z M72 467h1v1h-1z M78 461h1v1h-1z M78 467h1v1h-1z M74 464h9v1h-9z M78 460h1v9h-1z M77 463h3v3h-3z M76 462h1v1h-1z M76 466h1v1h-1z M80 462h1v1h-1z M80 466h1v1h-1z M75 461h1v1h-1z M75 467h1v1h-1z M81 461h1v1h-1z M81 467h1v1h-1z M77 464h9v1h-9z M81 460h1v9h-1z M80 463h3v3h-3z M79 462h1v1h-1z M79 466h1v1h-1z M83 462h1v1h-1z M83 466h1v1h-1z M78 461h1v1h-1z M78 467h1v1h-1z M84 461h1v1h-1z M84 467h1v1h-1z M81 464h9v1h-9z M85 460h1v9h-1z M84 463h3v3h-3z M83 462h1v1h-1z M83 466h1v1h-1z M87 462h1v1h-1z M87 466h1v1h-1z M82 461h1v1h-1z M82 467h1v1h-1z M88 461h1v1h-1z M88 467h1v1h-1z M85 464h9v1h-9z M89 460h1v9h-1z M88 463h3v3h-3z M87 462h1v1h-1z M87 466h1v1h-1z M91 462h1v1h-1z M91 466h1v1h-1z M86 461h1v1h-1z M86 467h1v1h-1z M92 461h1v1h-1z M92 467h1v1h-1z M94 465h9v1h-9z M98 461h1v9h-1z M97 464h3v3h-3z M96 463h1v1h-1z M96 467h1v1h-1z M100 463h1v1h-1z M100 467h1v1h-1z M95 462h1v1h-1z M95 468h1v1h-1z M101 462h1v1h-1z M101 468h1v1h-1z M94 464h9v1h-9z M98 460h1v9h-1z M97 463h3v3h-3z M96 462h1v1h-1z M96 466h1v1h-1z M100 462h1v1h-1z M100 466h1v1h-1z M95 461h1v1h-1z M95 467h1v1h-1z M101 461h1v1h-1z M101 467h1v1h-1z M99 464h9v1h-9z M103 460h1v9h-1z M102 463h3v3h-3z M101 462h1v1h-1z M101 466h1v1h-1z M105 462h1v1h-1z M105 466h1v1h-1z M100 461h1v1h-1z M100 467h1v1h-1z M106 461h1v1h-1z M106 467h1v1h-1z M102 464h9v1h-9z M106 460h1v9h-1z M105 463h3v3h-3z M104 462h1v1h-1z M104 466h1v1h-1z M108 462h1v1h-1z M108 466h1v1h-1z M103 461h1v1h-1z M103 467h1v1h-1z M109 461h1v1h-1z M109 467h1v1h-1z M103 464h9v1h-9z M107 460h1v9h-1z M106 463h3v3h-3z M105 462h1v1h-1z M105 466h1v1h-1z M109 462h1v1h-1z M109 466h1v1h-1z M104 461h1v1h-1z M104 467h1v1h-1z M110 461h1v1h-1z M110 467h1v1h-1z M106 464h9v1h-9z M110 460h1v9h-1z M109 463h3v3h-3z M108 462h1v1h-1z M108 466h1v1h-1z M112 462h1v1h-1z M112 466h1v1h-1z M107 461h1v1h-1z M107 467h1v1h-1z M113 461h1v1h-1z M113 467h1v1h-1z M112 464h9v1h-9z M116 460h1v9h-1z M115 463h3v3h-3z M114 462h1v1h-1z M114 466h1v1h-1z M118 462h1v1h-1z M118 466h1v1h-1z M113 461h1v1h-1z M113 467h1v1h-1z M119 461h1v1h-1z M119 467h1v1h-1z M116 464h9v1h-9z M120 460h1v9h-1z M119 463h3v3h-3z M118 462h1v1h-1z M118 466h1v1h-1z M122 462h1v1h-1z M122 466h1v1h-1z M117 461h1v1h-1z M117 467h1v1h-1z M123 461h1v1h-1z M123 467h1v1h-1z M120 464h9v1h-9z M124 460h1v9h-1z M123 463h3v3h-3z M122 462h1v1h-1z M122 466h1v1h-1z M126 462h1v1h-1z M126 466h1v1h-1z M121 461h1v1h-1z M121 467h1v1h-1z M127 461h1v1h-1z M127 467h1v1h-1z M123 464h9v1h-9z M127 460h1v9h-1z M126 463h3v3h-3z M125 462h1v1h-1z M125 466h1v1h-1z M129 462h1v1h-1z M129 466h1v1h-1z M124 461h1v1h-1z M124 467h1v1h-1z M130 461h1v1h-1z M130 467h1v1h-1z M126 464h9v1h-9z M130 460h1v9h-1z M129 463h3v3h-3z M128 462h1v1h-1z M128 466h1v1h-1z M132 462h1v1h-1z M132 466h1v1h-1z M127 461h1v1h-1z M127 467h1v1h-1z M133 461h1v1h-1z M133 467h1v1h-1z M127 464h9v1h-9z M131 460h1v9h-1z M130 463h3v3h-3z M129 462h1v1h-1z M129 466h1v1h-1z M133 462h1v1h-1z M133 466h1v1h-1z M128 461h1v1h-1z M128 467h1v1h-1z M134 461h1v1h-1z M134 467h1v1h-1z M130 464h9v1h-9z M134 460h1v9h-1z M133 463h3v3h-3z M132 462h1v1h-1z M132 466h1v1h-1z M136 462h1v1h-1z M136 466h1v1h-1z M131 461h1v1h-1z M131 467h1v1h-1z M137 461h1v1h-1z M137 467h1v1h-1z M134 464h9v1h-9z M138 460h1v9h-1z M137 463h3v3h-3z M136 462h1v1h-1z M136 466h1v1h-1z M140 462h1v1h-1z M140 466h1v1h-1z M135 461h1v1h-1z M135 467h1v1h-1z M141 461h1v1h-1z M141 467h1v1h-1z M144 465h9v1h-9z M148 461h1v9h-1z M147 464h3v3h-3z M146 463h1v1h-1z M146 467h1v1h-1z M150 463h1v1h-1z M150 467h1v1h-1z M145 462h1v1h-1z M145 468h1v1h-1z M151 462h1v1h-1z M151 468h1v1h-1z M144 464h9v1h-9z M148 460h1v9h-1z M147 463h3v3h-3z M146 462h1v1h-1z M146 466h1v1h-1z M150 462h1v1h-1z M150 466h1v1h-1z M145 461h1v1h-1z M145 467h1v1h-1z M151 461h1v1h-1z M151 467h1v1h-1z M148 464h9v1h-9z M152 460h1v9h-1z M151 463h3v3h-3z M150 462h1v1h-1z M150 466h1v1h-1z M154 462h1v1h-1z M154 466h1v1h-1z M149 461h1v1h-1z M149 467h1v1h-1z M155 461h1v1h-1z M155 467h1v1h-1z M158 464h9v1h-9z M162 460h1v9h-1z M161 463h3v3h-3z M160 462h1v1h-1z M160 466h1v1h-1z M164 462h1v1h-1z M164 466h1v1h-1z M159 461h1v1h-1z M159 467h1v1h-1z M165 461h1v1h-1z M165 467h1v1h-1z M231 462h9v1h-9z M235 458h1v9h-1z M234 461h3v3h-3z M233 460h1v1h-1z M233 464h1v1h-1z M237 460h1v1h-1z M237 464h1v1h-1z M232 459h1v1h-1z M232 465h1v1h-1z M238 459h1v1h-1z M238 465h1v1h-1z M231 484h9v1h-9z M235 480h1v9h-1z M234 483h3v3h-3z M233 482h1v1h-1z M233 486h1v1h-1z M237 482h1v1h-1z M237 486h1v1h-1z M232 481h1v1h-1z M232 487h1v1h-1z M238 481h1v1h-1z M238 487h1v1h-1z M232 451h9v1h-9z M236 447h1v9h-1z M235 450h3v3h-3z M234 449h1v1h-1z M234 453h1v1h-1z M238 449h1v1h-1z M238 453h1v1h-1z M233 448h1v1h-1z M233 454h1v1h-1z M239 448h1v1h-1z M239 454h1v1h-1z M235 462h9v1h-9z M239 458h1v9h-1z M238 461h3v3h-3z M237 460h1v1h-1z M237 464h1v1h-1z M241 460h1v1h-1z M241 464h1v1h-1z M236 459h1v1h-1z M236 465h1v1h-1z M242 459h1v1h-1z M242 465h1v1h-1z M301 483h9v1h-9z M305 479h1v9h-1z M304 482h3v3h-3z M303 481h1v1h-1z M303 485h1v1h-1z M307 481h1v1h-1z M307 485h1v1h-1z M302 480h1v1h-1z M302 486h1v1h-1z M308 480h1v1h-1z M308 486h1v1h-1z M302 449h9v1h-9z M306 445h1v9h-1z M305 448h3v3h-3z M304 447h1v1h-1z M304 451h1v1h-1z M308 447h1v1h-1z M308 451h1v1h-1z M303 446h1v1h-1z M303 452h1v1h-1z M309 446h1v1h-1z M309 452h1v1h-1z M329 462h9v1h-9z M333 458h1v9h-1z M332 461h3v3h-3z M331 460h1v1h-1z M331 464h1v1h-1z M335 460h1v1h-1z M335 464h1v1h-1z M330 459h1v1h-1z M330 465h1v1h-1z M336 459h1v1h-1z M336 465h1v1h-1z M333 463h9v1h-9z M337 459h1v9h-1z M336 462h3v3h-3z M335 461h1v1h-1z M335 465h1v1h-1z M339 461h1v1h-1z M339 465h1v1h-1z M334 460h1v1h-1z M334 466h1v1h-1z M340 460h1v1h-1z M340 466h1v1h-1z M333 484h9v1h-9z M337 480h1v9h-1z M336 483h3v3h-3z M335 482h1v1h-1z M335 486h1v1h-1z M339 482h1v1h-1z M339 486h1v1h-1z M334 481h1v1h-1z M334 487h1v1h-1z M340 481h1v1h-1z M340 487h1v1h-1z M333 451h9v1h-9z M337 447h1v9h-1z M336 450h3v3h-3z M335 449h1v1h-1z M335 453h1v1h-1z M339 449h1v1h-1z M339 453h1v1h-1z M334 448h1v1h-1z M334 454h1v1h-1z M340 448h1v1h-1z M340 454h1v1h-1z M333 408h9v1h-9z M337 404h1v9h-1z M336 407h3v3h-3z M335 406h1v1h-1z M335 410h1v1h-1z M339 406h1v1h-1z M339 410h1v1h-1z M334 405h1v1h-1z M334 411h1v1h-1z M340 405h1v1h-1z M340 411h1v1h-1z M336 463h9v1h-9z M340 459h1v9h-1z M339 462h3v3h-3z M338 461h1v1h-1z M338 465h1v1h-1z M342 461h1v1h-1z M342 465h1v1h-1z M337 460h1v1h-1z M337 466h1v1h-1z M343 460h1v1h-1z M343 466h1v1h-1z M335 462h9v1h-9z M339 458h1v9h-1z M338 461h3v3h-3z M337 460h1v1h-1z M337 464h1v1h-1z M341 460h1v1h-1z M341 464h1v1h-1z M336 459h1v1h-1z M336 465h1v1h-1z M342 459h1v1h-1z M342 465h1v1h-1z M337 463h9v1h-9z M341 459h1v9h-1z M340 462h3v3h-3z M339 461h1v1h-1z M339 465h1v1h-1z M343 461h1v1h-1z M343 465h1v1h-1z M338 460h1v1h-1z M338 466h1v1h-1z M344 460h1v1h-1z M344 466h1v1h-1z M339 462h9v1h-9z M343 458h1v9h-1z M342 461h3v3h-3z M341 460h1v1h-1z M341 464h1v1h-1z M345 460h1v1h-1z M345 464h1v1h-1z M340 459h1v1h-1z M340 465h1v1h-1z M346 459h1v1h-1z M346 465h1v1h-1z M340 463h9v1h-9z M344 459h1v9h-1z M343 462h3v3h-3z M342 461h1v1h-1z M342 465h1v1h-1z M346 461h1v1h-1z M346 465h1v1h-1z M341 460h1v1h-1z M341 466h1v1h-1z M347 460h1v1h-1z M347 466h1v1h-1z" fill="#000"/>
<rect x="12.5" y="389.5" width="322" height="12" fill="#fff" stroke="#000" stroke-width="1"/>
<text x="172.4" y="396.8" text-anchor="middle" class="tt">North Sta-2 Oct-3 Pedestals vrs Day (Packet 11235)</text>
<rect x="468.5" y="400.5" width="322" height="92" fill="none" stroke="#000" stroke-width="1"/>
<path d="M473 490h1v2h-1zM480 490h1v2h-1zM487 489h1v3h-1zM494 490h1v2h-1zM501 490h1v2h-1zM508 490h1v2h-1zM515 490h1v2h-1zM522 489h1v3h-1zM529 490h1v2h-1zM536 490h1v2h-1zM543 490h1v2h-1zM550 490h1v2h-1zM557 489h1v3h-1zM564 490h1v2h-1zM571 490h1v2h-1zM578 490h1v2h-1zM585 490h1v2h-1zM592 489h1v3h-1zM599 490h1v2h-1zM606 490h1v2h-1zM613 490h1v2h-1zM620 490h1v2h-1zM627 489h1v3h-1zM634 490h1v2h-1zM641 490h1v2h-1zM648 490h1v2h-1zM655 490h1v2h-1zM662 489h1v3h-1zM668 490h1v2h-1zM675 490h1v2h-1zM682 490h1v2h-1zM689 490h1v2h-1zM696 489h1v3h-1zM703 490h1v2h-1zM710 490h1v2h-1zM717 490h1v2h-1zM724 490h1v2h-1zM731 489h1v3h-1zM738 490h1v2h-1zM745 490h1v2h-1zM752 490h1v2h-1zM759 490h1v2h-1zM766 489h1v3h-1zM773 490h1v2h-1zM780 490h1v2h-1zM787 490h1v2h-1zM469 490h5v1h-5zM469 488h5v1h-5zM469 485h9v1h-9zM469 482h5v1h-5zM469 479h5v1h-5zM469 476h5v1h-5zM469 473h9v1h-9zM469 470h5v1h-5zM469 467h5v1h-5zM469 464h5v1h-5zM469 461h9v1h-9zM469 458h5v1h-5zM469 455h5v1h-5zM469 452h5v1h-5zM469 449h9v1h-9zM469 446h5v1h-5zM469 443h5v1h-5zM469 440h5v1h-5zM469 437h9v1h-9zM469 434h5v1h-5zM469 431h5v1h-5zM469 428h5v1h-5zM469 425h9v1h-9zM469 422h5v1h-5zM469 419h5v1h-5zM469 416h5v1h-5zM469 413h9v1h-9zM469 410h5v1h-5zM469 407h5v1h-5zM469 404h5v1h-5zM469 402h9v1h-9z" fill="#000"/>
<text x="465.2" y="488.0" text-anchor="end" class="yl">1760</text>
<text x="465.2" y="476.0" text-anchor="end" class="yl">1780</text>
<text x="465.2" y="464.0" text-anchor="end" class="yl">1800</text>
<text x="465.2" y="452.0" text-anchor="end" class="yl">1820</text>
<text x="465.2" y="440.0" text-anchor="end" class="yl">1840</text>
<text x="465.2" y="428.0" text-anchor="end" class="yl">1860</text>
<text x="465.2" y="416.0" text-anchor="end" class="yl">1880</text>
<text x="465.2" y="405.0" text-anchor="end" class="yl">1900</text>
<text x="486.0" y="499.2" text-anchor="middle" class="xl">150</text>
<text x="521.0" y="499.2" text-anchor="middle" class="xl">160</text>
<text x="556.0" y="499.2" text-anchor="middle" class="xl">170</text>
<text x="591.0" y="499.2" text-anchor="middle" class="xl">180</text>
<text x="626.0" y="499.2" text-anchor="middle" class="xl">190</text>
<text x="661.0" y="499.2" text-anchor="middle" class="xl">200</text>
<text x="695.0" y="499.2" text-anchor="middle" class="xl">210</text>
<text x="730.0" y="499.2" text-anchor="middle" class="xl">220</text>
<text x="765.0" y="499.2" text-anchor="middle" class="xl">230</text>
<path d="M725 408h1v1h-1zM724 409h2v1h-2zM757 409h1v1h-1zM722 410h2v1h-2zM725 410h1v1h-1zM757 410h1v1h-1zM655 411h1v1h-1zM721 411h1v1h-1zM725 411h1v1h-1zM757 411h1v1h-1zM655 412h1v1h-1zM720 412h1v1h-1zM725 412h1v1h-1zM757 412h1v1h-1zM655 413h1v1h-1zM719 413h1v1h-1zM725 413h1v1h-1zM757 413h1v1h-1zM655 414h1v1h-1zM718 414h1v1h-1zM725 414h1v1h-1zM757 414h1v1h-1zM655 415h1v1h-1zM716 415h2v1h-2zM725 415h1v1h-1zM757 415h1v1h-1zM655 416h1v1h-1zM715 416h1v1h-1zM725 416h1v1h-1zM757 416h1v1h-1zM655 417h1v1h-1zM714 417h1v1h-1zM725 417h1v1h-1zM757 417h1v1h-1zM655 418h1v1h-1zM713 418h1v1h-1zM725 418h1v1h-1zM757 418h1v1h-1zM655 419h1v1h-1zM711 419h2v1h-2zM725 419h1v1h-1zM757 419h1v1h-1zM655 420h1v1h-1zM710 420h1v1h-1zM725 420h1v1h-1zM757 420h1v1h-1zM655 421h1v1h-1zM709 421h1v1h-1zM725 421h1v1h-1zM757 421h1v1h-1zM655 422h1v1h-1zM708 422h1v1h-1zM725 422h1v1h-1zM757 422h1v1h-1zM655 423h1v1h-1zM707 423h1v1h-1zM725 423h1v1h-1zM757 423h1v1h-1zM655 424h1v1h-1zM705 424h2v1h-2zM725 424h1v1h-1zM757 424h1v1h-1zM655 425h1v1h-1zM704 425h1v1h-1zM725 425h1v1h-1zM757 425h1v1h-1zM655 426h1v1h-1zM703 426h1v1h-1zM725 426h1v1h-1zM757 426h1v1h-1zM655 427h1v1h-1zM702 427h1v1h-1zM725 427h1v1h-1zM757 427h1v1h-1zM655 428h1v1h-1zM700 428h2v1h-2zM725 428h1v1h-1zM757 428h1v1h-1zM655 429h1v1h-1zM699 429h1v1h-1zM725 429h1v1h-1zM757 429h1v1h-1zM655 430h1v1h-1zM698 430h1v1h-1zM725 430h1v1h-1zM757 430h1v1h-1zM655 431h1v1h-1zM697 431h1v1h-1zM725 431h1v1h-1zM757 431h1v1h-1zM655 432h1v1h-1zM696 432h1v1h-1zM725 432h1v1h-1zM757 432h1v1h-1zM655 433h1v1h-1zM694 433h2v1h-2zM725 433h1v1h-1zM757 433h1v1h-1zM655 434h1v1h-1zM693 434h1v1h-1zM725 434h1v1h-1zM757 434h1v1h-1zM655 435h1v1h-1zM692 435h1v1h-1zM725 435h1v1h-1zM757 435h1v1h-1zM655 436h1v1h-1zM691 436h1v1h-1zM725 436h1v1h-1zM757 436h1v1h-1zM655 437h1v1h-1zM689 437h2v1h-2zM725 437h1v1h-1zM757 437h1v1h-1zM655 438h1v1h-1zM688 438h1v1h-1zM725 438h1v1h-1zM757 438h1v1h-1zM655 439h1v1h-1zM687 439h1v1h-1zM725 439h1v1h-1zM757 439h1v1h-1zM655 440h1v1h-1zM686 440h1v1h-1zM725 440h1v1h-1zM757 440h1v1h-1zM655 441h1v1h-1zM685 441h1v1h-1zM725 441h1v1h-1zM757 441h1v1h-1zM655 442h1v1h-1zM683 442h2v1h-2zM725 442h1v1h-1zM757 442h1v1h-1zM655 443h1v1h-1zM682 443h1v1h-1zM725 443h1v1h-1zM757 443h1v1h-1zM655 444h1v1h-1zM681 444h1v1h-1zM725 444h1v1h-1zM757 444h1v1h-1zM655 445h1v1h-1zM680 445h1v1h-1zM725 445h1v1h-1zM757 445h1v1h-1zM655 446h1v1h-1zM678 446h2v1h-2zM726 446h1v1h-1zM757 446h1v1h-1zM655 447h1v1h-1zM677 447h1v1h-1zM726 447h1v1h-1zM757 447h1v1h-1zM655 448h2v1h-2zM676 448h1v1h-1zM726 448h1v1h-1zM757 448h1v1h-1zM655 449h2v1h-2zM675 449h1v1h-1zM726 449h1v1h-1zM757 449h1v1h-1zM655 450h2v1h-2zM674 450h1v1h-1zM726 450h1v1h-1zM757 450h1v1h-1zM655 451h2v1h-2zM672 451h2v1h-2zM726 451h1v1h-1zM757 451h1v1h-1zM655 452h2v1h-2zM671 452h1v1h-1zM726 452h1v1h-1zM757 452h1v1h-1zM655 453h2v1h-2zM670 453h1v1h-1zM726 453h1v1h-1zM757 453h1v1h-1zM655 454h2v1h-2zM669 454h1v1h-1zM726 454h1v1h-1zM757 454h1v1h-1zM655 455h2v1h-2zM667 455h2v1h-2zM726 455h1v1h-1zM757 455h1v1h-1zM655 456h2v1h-2zM666 456h1v1h-1zM726 456h1v1h-1zM757 456h1v1h-1zM655 457h2v1h-2zM665 457h1v1h-1zM726 457h1v1h-1zM757 457h1v1h-1zM655 458h2v1h-2zM664 458h1v1h-1zM726 458h1v1h-1zM757 458h1v1h-1zM655 459h2v1h-2zM663 459h1v1h-1zM726 459h1v1h-1zM757 459h1v1h-1zM655 460h2v1h-2zM661 460h2v1h-2zM726 460h1v1h-1zM757 460h1v1h-1zM655 461h2v1h-2zM660 461h1v1h-1zM726 461h1v1h-1zM756 461h2v1h-2zM655 462h2v1h-2zM659 462h1v1h-1zM726 462h1v1h-1zM755 462h1v1h-1zM757 462h2v1h-2zM655 463h2v1h-2zM659 463h1v1h-1zM726 463h1v1h-1zM754 463h1v1h-1zM757 463h1v1h-1zM759 463h1v1h-1zM551 464h12v1h-12zM619 464h38v1h-38zM659 464h1v1h-1zM726 464h1v1h-1zM753 464h1v1h-1zM757 464h1v1h-1zM759 464h5v1h-5zM507 465h7v1h-7zM521 465h30v1h-30zM563 465h56v1h-56zM656 465h1v1h-1zM659 465h1v1h-1zM726 465h1v1h-1zM751 465h2v1h-2zM757 465h1v1h-1zM759 465h2v1h-2zM764 465h1v1h-1zM495 466h12v1h-12zM514 466h7v1h-7zM656 466h1v1h-1zM658 466h1v1h-1zM726 466h1v1h-1zM750 466h1v1h-1zM757 466h1v1h-1zM656 467h1v1h-1zM658 467h1v1h-1zM726 467h1v1h-1zM749 467h1v1h-1zM757 467h1v1h-1zM656 468h1v1h-1zM658 468h1v1h-1zM726 468h1v1h-1zM747 468h2v1h-2zM757 468h1v1h-1zM656 469h1v1h-1zM658 469h1v1h-1zM726 469h1v1h-1zM746 469h1v1h-1zM757 469h1v1h-1zM656 470h1v1h-1zM658 470h1v1h-1zM726 470h1v1h-1zM745 470h1v1h-1zM757 470h1v1h-1zM656 471h1v1h-1zM658 471h1v1h-1zM726 471h1v1h-1zM743 471h2v1h-2zM757 471h1v1h-1zM656 472h1v1h-1zM658 472h1v1h-1zM726 472h1v1h-1zM742 472h1v1h-1zM757 472h1v1h-1zM656 473h1v1h-1zM658 473h1v1h-1zM726 473h1v1h-1zM741 473h1v1h-1zM757 473h1v1h-1zM656 474h2v1h-2zM726 474h1v1h-1zM739 474h2v1h-2zM757 474h1v1h-1zM656 475h2v1h-2zM726 475h1v1h-1zM738 475h1v1h-1zM757 475h1v1h-1zM656 476h2v1h-2zM726 476h1v1h-1zM737 476h1v1h-1zM757 476h1v1h-1zM656 477h2v1h-2zM726 477h1v1h-1zM735 477h2v1h-2zM757 477h1v1h-1zM656 478h2v1h-2zM726 478h1v1h-1zM734 478h1v1h-1zM757 478h1v1h-1zM656 479h2v1h-2zM726 479h1v1h-1zM733 479h1v1h-1zM757 479h1v1h-1zM656 480h2v1h-2zM726 480h1v1h-1zM731 480h2v1h-2zM757 480h1v1h-1zM656 481h1v1h-1zM726 481h1v1h-1zM730 481h1v1h-1zM757 481h1v1h-1zM656 482h1v1h-1zM726 482h1v1h-1zM729 482h1v1h-1zM757 482h1v1h-1zM656 483h1v1h-1zM726 483h3v1h-3zM757 483h1v1h-1zM656 484h1v1h-1zM726 484h1v1h-1zM757 484h1v1h-1z" fill="#0000ff"/>
<path d="M491 466h9v1h-9z M495 462h1v9h-1z M494 465h3v3h-3z M493 464h1v1h-1z M493 468h1v1h-1z M497 464h1v1h-1z M497 468h1v1h-1z M492 463h1v1h-1z M492 469h1v1h-1z M498 463h1v1h-1z M498 469h1v1h-1z M494 466h9v1h-9z M498 462h1v9h-1z M497 465h3v3h-3z M496 464h1v1h-1z M496 468h1v1h-1z M500 464h1v1h-1z M500 468h1v1h-1z M495 463h1v1h-1z M495 469h1v1h-1z M501 463h1v1h-1z M501 469h1v1h-1z M497 466h9v1h-9z M501 462h1v9h-1z M500 465h3v3h-3z M499 464h1v1h-1z M499 468h1v1h-1z M503 464h1v1h-1z M503 468h1v1h-1z M498 463h1v1h-1z M498 469h1v1h-1z M504 463h1v1h-1z M504 469h1v1h-1z M501 466h9v1h-9z M505 462h1v9h-1z M504 465h3v3h-3z M503 464h1v1h-1z M503 468h1v1h-1z M507 464h1v1h-1z M507 468h1v1h-1z M502 463h1v1h-1z M502 469h1v1h-1z M508 463h1v1h-1z M508 469h1v1h-1z M505 465h9v1h-9z M509 461h1v9h-1z M508 464h3v3h-3z M507 463h1v1h-1z M507 467h1v1h-1z M511 463h1v1h-1z M511 467h1v1h-1z M506 462h1v1h-1z M506 468h1v1h-1z M512 462h1v1h-1z M512 468h1v1h-1z M514 466h9v1h-9z M518 462h1v9h-1z M517 465h3v3h-3z M516 464h1v1h-1z M516 468h1v1h-1z M520 464h1v1h-1z M520 468h1v1h-1z M515 463h1v1h-1z M515 469h1v1h-1z M521 463h1v1h-1z M521 469h1v1h-1z M514 466h9v1h-9z M518 462h1v9h-1z M517 465h3v3h-3z M516 464h1v1h-1z M516 468h1v1h-1z M520 464h1v1h-1z M520 468h1v1h-1z M515 463h1v1h-1z M515 469h1v1h-1z M521 463h1v1h-1z M521 469h1v1h-1z M519 465h9v1h-9z M523 461h1v9h-1z M522 464h3v3h-3z M521 463h1v1h-1z M521 467h1v1h-1z M525 463h1v1h-1z M525 467h1v1h-1z M520 462h1v1h-1z M520 468h1v1h-1z M526 462h1v1h-1z M526 468h1v1h-1z M522 465h9v1h-9z M526 461h1v9h-1z M525 464h3v3h-3z M524 463h1v1h-1z M524 467h1v1h-1z M528 463h1v1h-1z M528 467h1v1h-1z M523 462h1v1h-1z M523 468h1v1h-1z M529 462h1v1h-1z M529 468h1v1h-1z M523 465h9v1h-9z M527 461h1v9h-1z M526 464h3v3h-3z M525 463h1v1h-1z M525 467h1v1h-1z M529 463h1v1h-1z M529 467h1v1h-1z M524 462h1v1h-1z M524 468h1v1h-1z M530 462h1v1h-1z M530 468h1v1h-1z M526 465h9v1h-9z M530 461h1v9h-1z M529 464h3v3h-3z M528 463h1v1h-1z M528 467h1v1h-1z M532 463h1v1h-1z M532 467h1v1h-1z M527 462h1v1h-1z M527 468h1v1h-1z M533 462h1v1h-1z M533 468h1v1h-1z M532 465h9v1h-9z M536 461h1v9h-1z M535 464h3v3h-3z M534 463h1v1h-1z M534 467h1v1h-1z M538 463h1v1h-1z M538 467h1v1h-1z M533 462h1v1h-1z M533 468h1v1h-1z M539 462h1v1h-1z M539 468h1v1h-1z M536 465h9v1h-9z M540 461h1v9h-1z M539 464h3v3h-3z M538 463h1v1h-1z M538 467h1v1h-1z M542 463h1v1h-1z M542 467h1v1h-1z M537 462h1v1h-1z M537 468h1v1h-1z M543 462h1v1h-1z M543 468h1v1h-1z M540 465h9v1h-9z M544 461h1v9h-1z M543 464h3v3h-3z M542 463h1v1h-1z M542 467h1v1h-1z M546 463h1v1h-1z M546 467h1v1h-1z M541 462h1v1h-1z M541 468h1v1h-1z M547 462h1v1h-1z M547 468h1v1h-1z M543 465h9v1h-9z M547 461h1v9h-1z M546 464h3v3h-3z M545 463h1v1h-1z M545 467h1v1h-1z M549 463h1v1h-1z M549 467h1v1h-1z M544 462h1v1h-1z M544 468h1v1h-1z M550 462h1v1h-1z M550 468h1v1h-1z M546 465h9v1h-9z M550 461h1v9h-1z M549 464h3v3h-3z M548 463h1v1h-1z M548 467h1v1h-1z M552 463h1v1h-1z M552 467h1v1h-1z M547 462h1v1h-1z M547 468h1v1h-1z M553 462h1v1h-1z M553 468h1v1h-1z M547 464h9v1h-9z M551 460h1v9h-1z M550 463h3v3h-3z M549 462h1v1h-1z M549 466h1v1h-1z M553 462h1v1h-1z M553 466h1v1h-1z M548 461h1v1h-1z M548 467h1v1h-1z M554 461h1v1h-1z M554 467h1v1h-1z M550 464h9v1h-9z M554 460h1v9h-1z M553 463h3v3h-3z M552 462h1v1h-1z M552 466h1v1h-1z M556 462h1v1h-1z M556 466h1v1h-1z M551 461h1v1h-1z M551 467h1v1h-1z M557 461h1v1h-1z M557 467h1v1h-1z M554 464h9v1h-9z M558 460h1v9h-1z M557 463h3v3h-3z M556 462h1v1h-1z M556 466h1v1h-1z M560 462h1v1h-1z M560 466h1v1h-1z M555 461h1v1h-1z M555 467h1v1h-1z M561 461h1v1h-1z M561 467h1v1h-1z M564 465h9v1h-9z M568 461h1v9h-1z M567 464h3v3h-3z M566 463h1v1h-1z M566 467h1v1h-1z M570 463h1v1h-1z M570 467h1v1h-1z M565 462h1v1h-1z M565 468h1v1h-1z M571 462h1v1h-1z M571 468h1v1h-1z M564 465h9v1h-9z M568 461h1v9h-1z M567 464h3v3h-3z M566 463h1v1h-1z M566 467h1v1h-1z M570 463h1v1h-1z M570 467h1v1h-1z M565 462h1v1h-1z M565 468h1v1h-1z M571 462h1v1h-1z M571 468h1v1h-1z M568 465h9v1h-9z M572 461h1v9h-1z M571 464h3v3h-3z M570 463h1v1h-1z M570 467h1v1h-1z M574 463h1v1h-1z M574 467h1v1h-1z M569 462h1v1h-1z M569 468h1v1h-1z M575 462h1v1h-1z M575 468h1v1h-1z M578 465h9v1h-9z M582 461h1v9h-1z M581 464h3v3h-3z M580 463h1v1h-1z M580 467h1v1h-1z M584 463h1v1h-1z M584 467h1v1h-1z M579 462h1v1h-1z M579 468h1v1h-1z M585 462h1v1h-1z M585 468h1v1h-1z M651 464h9v1h-9z M655 460h1v9h-1z M654 463h3v3h-3z M653 462h1v1h-1z M653 466h1v1h-1z M657 462h1v1h-1z M657 466h1v1h-1z M652 461h1v1h-1z M652 467h1v1h-1z M658 461h1v1h-1z M658 467h1v1h-1z M651 411h9v1h-9z M655 407h1v9h-1z M654 410h3v3h-3z M653 409h1v1h-1z M653 413h1v1h-1z M657 409h1v1h-1z M657 413h1v1h-1z M652 408h1v1h-1z M652 414h1v1h-1z M658 408h1v1h-1z M658 414h1v1h-1z M652 484h9v1h-9z M656 480h1v9h-1z M655 483h3v3h-3z M654 482h1v1h-1z M654 486h1v1h-1z M658 482h1v1h-1z M658 486h1v1h-1z M653 481h1v1h-1z M653 487h1v1h-1z M659 481h1v1h-1z M659 487h1v1h-1z M655 462h9v1h-9z M659 458h1v9h-1z M658 461h3v3h-3z M657 460h1v1h-1z M657 464h1v1h-1z M661 460h1v1h-1z M661 464h1v1h-1z M656 459h1v1h-1z M656 465h1v1h-1z M662 459h1v1h-1z M662 465h1v1h-1z M721 408h9v1h-9z M725 404h1v9h-1z M724 407h3v3h-3z M723 406h1v1h-1z M723 410h1v1h-1z M727 406h1v1h-1z M727 410h1v1h-1z M722 405h1v1h-1z M722 411h1v1h-1z M728 405h1v1h-1z M728 411h1v1h-1z M722 484h9v1h-9z M726 480h1v9h-1z M725 483h3v3h-3z M724 482h1v1h-1z M724 486h1v1h-1z M728 482h1v1h-1z M728 486h1v1h-1z M723 481h1v1h-1z M723 487h1v1h-1z M729 481h1v1h-1z M729 487h1v1h-1z M749 464h9v1h-9z M753 460h1v9h-1z M752 463h3v3h-3z M751 462h1v1h-1z M751 466h1v1h-1z M755 462h1v1h-1z M755 466h1v1h-1z M750 461h1v1h-1z M750 467h1v1h-1z M756 461h1v1h-1z M756 467h1v1h-1z M753 460h9v1h-9z M757 456h1v9h-1z M756 459h3v3h-3z M755 458h1v1h-1z M755 462h1v1h-1z M759 458h1v1h-1z M759 462h1v1h-1z M754 457h1v1h-1z M754 463h1v1h-1z M760 457h1v1h-1z M760 463h1v1h-1z M753 484h9v1h-9z M757 480h1v9h-1z M756 483h3v3h-3z M755 482h1v1h-1z M755 486h1v1h-1z M759 482h1v1h-1z M759 486h1v1h-1z M754 481h1v1h-1z M754 487h1v1h-1z M760 481h1v1h-1z M760 487h1v1h-1z M753 409h9v1h-9z M757 405h1v9h-1z M756 408h3v3h-3z M755 407h1v1h-1z M755 411h1v1h-1z M759 407h1v1h-1z M759 411h1v1h-1z M754 406h1v1h-1z M754 412h1v1h-1z M760 406h1v1h-1z M760 412h1v1h-1z M753 461h9v1h-9z M757 457h1v9h-1z M756 460h3v3h-3z M755 459h1v1h-1z M755 463h1v1h-1z M759 459h1v1h-1z M759 463h1v1h-1z M754 458h1v1h-1z M754 464h1v1h-1z M760 458h1v1h-1z M760 464h1v1h-1z M756 465h9v1h-9z M760 461h1v9h-1z M759 464h3v3h-3z M758 463h1v1h-1z M758 467h1v1h-1z M762 463h1v1h-1z M762 467h1v1h-1z M757 462h1v1h-1z M757 468h1v1h-1z M763 462h1v1h-1z M763 468h1v1h-1z M755 465h9v1h-9z M759 461h1v9h-1z M758 464h3v3h-3z M757 463h1v1h-1z M757 467h1v1h-1z M761 463h1v1h-1z M761 467h1v1h-1z M756 462h1v1h-1z M756 468h1v1h-1z M762 462h1v1h-1z M762 468h1v1h-1z M757 464h9v1h-9z M761 460h1v9h-1z M760 463h3v3h-3z M759 462h1v1h-1z M759 466h1v1h-1z M763 462h1v1h-1z M763 466h1v1h-1z M758 461h1v1h-1z M758 467h1v1h-1z M764 461h1v1h-1z M764 467h1v1h-1z M759 464h9v1h-9z M763 460h1v9h-1z M762 463h3v3h-3z M761 462h1v1h-1z M761 466h1v1h-1z M765 462h1v1h-1z M765 466h1v1h-1z M760 461h1v1h-1z M760 467h1v1h-1z M766 461h1v1h-1z M766 467h1v1h-1z M760 465h9v1h-9z M764 461h1v9h-1z M763 464h3v3h-3z M762 463h1v1h-1z M762 467h1v1h-1z M766 463h1v1h-1z M766 467h1v1h-1z M761 462h1v1h-1z M761 468h1v1h-1z M767 462h1v1h-1z M767 468h1v1h-1z" fill="#000"/>
<rect x="432.5" y="389.5" width="322" height="12" fill="#fff" stroke="#000" stroke-width="1"/>
<text x="592.4" y="396.8" text-anchor="middle" class="tt">North Sta-2 Oct-3 Pedestals vrs Day (Packet 11236)</text>
<rect x="48.5" y="527.5" width="322" height="92" fill="none" stroke="#000" stroke-width="1"/>
<path d="M53 617h1v2h-1zM60 617h1v2h-1zM67 616h1v3h-1zM74 617h1v2h-1zM81 617h1v2h-1zM88 617h1v2h-1zM95 617h1v2h-1zM102 616h1v3h-1zM109 617h1v2h-1zM116 617h1v2h-1zM123 617h1v2h-1zM130 617h1v2h-1zM137 616h1v3h-1zM144 617h1v2h-1zM151 617h1v2h-1zM158 617h1v2h-1zM165 617h1v2h-1zM172 616h1v3h-1zM179 617h1v2h-1zM186 617h1v2h-1zM193 617h1v2h-1zM200 617h1v2h-1zM207 616h1v3h-1zM214 617h1v2h-1zM221 617h1v2h-1zM228 617h1v2h-1zM235 617h1v2h-1zM242 616h1v3h-1zM248 617h1v2h-1zM255 617h1v2h-1zM262 617h1v2h-1zM269 617h1v2h-1zM276 616h1v3h-1zM283 617h1v2h-1zM290 617h1v2h-1zM297 617h1v2h-1zM304 617h1v2h-1zM311 616h1v3h-1zM318 617h1v2h-1zM325 617h1v2h-1zM332 617h1v2h-1zM339 617h1v2h-1zM346 616h1v3h-1zM353 617h1v2h-1zM360 617h1v2h-1zM367 617h1v2h-1zM49 616h5v1h-5zM49 612h5v1h-5zM49 607h9v1h-9zM49 603h5v1h-5zM49 598h5v1h-5zM49 593h5v1h-5zM49 589h9v1h-9zM49 584h5v1h-5zM49 580h5v1h-5zM49 575h5v1h-5zM49 571h9v1h-9zM49 566h5v1h-5zM49 562h5v1h-5zM49 557h5v1h-5zM49 553h9v1h-9zM49 548h5v1h-5zM49 544h5v1h-5zM49 539h5v1h-5zM49 535h9v1h-9zM49 530h5v1h-5z" fill="#000"/>
<text x="45.2" y="610.0" text-anchor="end" class="yl">1800</text>
<text x="45.2" y="592.0" text-anchor="end" class="yl">1820</text>
<text x="45.2" y="574.0" text-anchor="end" class="yl">1840</text>
<text x="45.2" y="556.0" text-anchor="end" class="yl">1860</text>
<text x="45.2" y="538.0" text-anchor="end" class="yl">1880</text>
<text x="66.0" y="626.2" text-anchor="middle" class="xl">150</text>
<text x="101.0" y="626.2" text-anchor="middle" class="xl">160</text>
<text x="136.0" y="626.2" text-anchor="middle" class="xl">170</text>
<text x="171.0" y="626.2" text-anchor="middle" class="xl">180</text>
<text x="206.0" y="626.2" text-anchor="middle" class="xl">190</text>
<text x="241.0" y="626.2" text-anchor="middle" class="xl">200</text>
<text x="275.0" y="626.2" text-anchor="middle" class="xl">210</text>
<text x="310.0" y="626.2" text-anchor="middle" class="xl">220</text>
<text x="345.0" y="626.2" text-anchor="middle" class="xl">230</text>
<path d="M337 535h1v1h-1zM337 536h1v1h-1zM337 537h1v1h-1zM337 538h1v1h-1zM337 539h1v1h-1zM337 540h1v1h-1zM337 541h1v1h-1zM337 542h2v1h-2zM337 543h2v1h-2zM337 544h2v1h-2zM337 545h2v1h-2zM337 546h2v1h-2zM337 547h2v1h-2zM337 548h2v1h-2zM337 549h2v1h-2zM337 550h2v1h-2zM337 551h2v1h-2zM337 552h2v1h-2zM306 553h1v1h-1zM337 553h2v1h-2zM236 554h1v1h-1zM306 554h2v1h-2zM337 554h2v1h-2zM236 555h1v1h-1zM306 555h1v1h-1zM308 555h1v1h-1zM337 555h2v1h-2zM236 556h1v1h-1zM306 556h1v1h-1zM309 556h1v1h-1zM337 556h1v1h-1zM339 556h1v1h-1zM236 557h1v1h-1zM306 557h1v1h-1zM310 557h1v1h-1zM337 557h1v1h-1zM339 557h1v1h-1zM236 558h2v1h-2zM306 558h1v1h-1zM311 558h1v1h-1zM337 558h1v1h-1zM339 558h1v1h-1zM236 559h2v1h-2zM306 559h1v1h-1zM312 559h2v1h-2zM337 559h1v1h-1zM339 559h1v1h-1zM236 560h2v1h-2zM306 560h1v1h-1zM314 560h1v1h-1zM337 560h1v1h-1zM339 560h1v1h-1zM236 561h2v1h-2zM306 561h1v1h-1zM315 561h1v1h-1zM337 561h1v1h-1zM339 561h1v1h-1zM236 562h2v1h-2zM306 562h1v1h-1zM316 562h1v1h-1zM337 562h1v1h-1zM339 562h1v1h-1zM236 563h2v1h-2zM306 563h1v1h-1zM317 563h1v1h-1zM337 563h1v1h-1zM339 563h1v1h-1zM236 564h2v1h-2zM306 564h1v1h-1zM318 564h1v1h-1zM337 564h1v1h-1zM339 564h1v1h-1zM236 565h1v1h-1zM238 565h1v1h-1zM306 565h1v1h-1zM319 565h1v1h-1zM337 565h1v1h-1zM339 565h1v1h-1zM236 566h1v1h-1zM238 566h1v1h-1zM306 566h1v1h-1zM320 566h1v1h-1zM337 566h1v1h-1zM339 566h1v1h-1zM236 567h1v1h-1zM238 567h1v1h-1zM306 567h1v1h-1zM321 567h1v1h-1zM337 567h1v1h-1zM339 567h1v1h-1zM236 568h1v1h-1zM238 568h1v1h-1zM306 568h1v1h-1zM322 568h1v1h-1zM337 568h1v1h-1zM339 568h1v1h-1zM236 569h1v1h-1zM238 569h1v1h-1zM306 569h1v1h-1zM323 569h1v1h-1zM337 569h1v1h-1zM339 569h1v1h-1zM236 570h1v1h-1zM238 570h1v1h-1zM306 570h1v1h-1zM324 570h1v1h-1zM337 570h1v1h-1zM340 570h1v1h-1zM236 571h1v1h-1zM238 571h1v1h-1zM306 571h1v1h-1zM325 571h1v1h-1zM337 571h1v1h-1zM340 571h1v1h-1zM236 572h1v1h-1zM239 572h1v1h-1zM306 572h1v1h-1zM326 572h2v1h-2zM337 572h1v1h-1zM340 572h1v1h-1zM236 573h1v1h-1zM239 573h1v1h-1zM306 573h1v1h-1zM328 573h1v1h-1zM337 573h1v1h-1zM340 573h1v1h-1zM236 574h1v1h-1zM239 574h1v1h-1zM306 574h1v1h-1zM329 574h1v1h-1zM337 574h1v1h-1zM340 574h1v1h-1zM236 575h1v1h-1zM239 575h2v1h-2zM306 575h1v1h-1zM330 575h1v1h-1zM337 575h1v1h-1zM340 575h1v1h-1zM223 576h14v1h-14zM241 576h2v1h-2zM306 576h1v1h-1zM331 576h1v1h-1zM337 576h1v1h-1zM339 576h2v1h-2zM199 577h24v1h-24zM235 577h2v1h-2zM243 577h2v1h-2zM306 577h1v1h-1zM332 577h1v1h-1zM337 577h1v1h-1zM340 577h1v1h-1zM120 578h1v1h-1zM127 578h1v1h-1zM175 578h24v1h-24zM235 578h2v1h-2zM245 578h2v1h-2zM306 578h1v1h-1zM333 578h5v1h-5zM341 578h1v1h-1zM344 578h1v1h-1zM75 579h2v1h-2zM80 579h2v1h-2zM94 579h5v1h-5zM101 579h4v1h-4zM107 579h5v1h-5zM118 579h2v1h-2zM121 579h1v1h-1zM126 579h1v1h-1zM128 579h1v1h-1zM131 579h1v1h-1zM157 579h18v1h-18zM235 579h2v1h-2zM247 579h2v1h-2zM306 579h1v1h-1zM337 579h1v1h-1zM342 579h2v1h-2zM77 580h3v1h-3zM82 580h2v1h-2zM87 580h7v1h-7zM98 580h3v1h-3zM105 580h2v1h-2zM112 580h3v1h-3zM117 580h1v1h-1zM122 580h2v1h-2zM125 580h1v1h-1zM129 580h1v1h-1zM131 580h3v1h-3zM136 580h7v1h-7zM148 580h9v1h-9zM235 580h2v1h-2zM249 580h2v1h-2zM305 580h1v1h-1zM337 580h1v1h-1zM84 581h3v1h-3zM115 581h2v1h-2zM124 581h1v1h-1zM130 581h1v1h-1zM134 581h2v1h-2zM143 581h6v1h-6zM235 581h2v1h-2zM251 581h2v1h-2zM305 581h1v1h-1zM337 581h1v1h-1zM235 582h2v1h-2zM253 582h2v1h-2zM305 582h1v1h-1zM337 582h1v1h-1zM235 583h1v1h-1zM255 583h3v1h-3zM305 583h1v1h-1zM337 583h1v1h-1zM235 584h1v1h-1zM258 584h2v1h-2zM305 584h1v1h-1zM337 584h1v1h-1zM235 585h1v1h-1zM260 585h2v1h-2zM305 585h1v1h-1zM337 585h1v1h-1zM235 586h1v1h-1zM262 586h2v1h-2zM305 586h1v1h-1zM337 586h1v1h-1zM235 587h1v1h-1zM264 587h2v1h-2zM305 587h1v1h-1zM337 587h1v1h-1zM235 588h1v1h-1zM266 588h2v1h-2zM305 588h1v1h-1zM337 588h1v1h-1zM235 589h1v1h-1zM268 589h2v1h-2zM305 589h1v1h-1zM337 589h1v1h-1zM235 590h1v1h-1zM270 590h2v1h-2zM305 590h1v1h-1zM337 590h1v1h-1zM235 591h1v1h-1zM272 591h3v1h-3zM305 591h1v1h-1zM337 591h1v1h-1zM235 592h1v1h-1zM275 592h2v1h-2zM305 592h1v1h-1zM337 592h1v1h-1zM235 593h1v1h-1zM277 593h2v1h-2zM305 593h1v1h-1zM337 593h1v1h-1zM235 594h1v1h-1zM279 594h2v1h-2zM305 594h1v1h-1zM337 594h1v1h-1zM235 595h1v1h-1zM281 595h2v1h-2zM305 595h1v1h-1zM337 595h1v1h-1zM235 596h1v1h-1zM283 596h2v1h-2zM305 596h1v1h-1zM337 596h1v1h-1zM235 597h1v1h-1zM285 597h2v1h-2zM305 597h1v1h-1zM337 597h1v1h-1zM235 598h1v1h-1zM287 598h3v1h-3zM305 598h1v1h-1zM337 598h1v1h-1zM235 599h1v1h-1zM290 599h2v1h-2zM305 599h1v1h-1zM337 599h1v1h-1zM235 600h1v1h-1zM292 600h2v1h-2zM305 600h1v1h-1zM337 600h1v1h-1zM235 601h1v1h-1zM294 601h2v1h-2zM305 601h1v1h-1zM337 601h1v1h-1zM235 602h1v1h-1zM296 602h2v1h-2zM305 602h1v1h-1zM337 602h1v1h-1zM235 603h1v1h-1zM298 603h2v1h-2zM305 603h1v1h-1zM337 603h1v1h-1zM235 604h1v1h-1zM300 604h2v1h-2zM305 604h1v1h-1zM337 604h1v1h-1zM235 605h1v1h-1zM302 605h2v1h-2zM305 605h1v1h-1zM337 605h1v1h-1zM235 606h1v1h-1zM304 606h2v1h-2zM337 606h1v1h-1zM235 607h1v1h-1zM337 607h1v1h-1zM235 608h1v1h-1zM235 609h1v1h-1zM235 610h1v1h-1zM235 611h1v1h-1z" fill="#0000ff"/>
<path d="M71 579h9v1h-9z M75 575h1v9h-1z M74 578h3v3h-3z M73 577h1v1h-1z M73 581h1v1h-1z M77 577h1v1h-1z M77 581h1v1h-1z M72 576h1v1h-1z M72 582h1v1h-1z M78 576h1v1h-1z M78 582h1v1h-1z M74 580h9v1h-9z M78 576h1v9h-1z M77 579h3v3h-3z M76 578h1v1h-1z M76 582h1v1h-1z M80 578h1v1h-1z M80 582h1v1h-1z M75 577h1v1h-1z M75 583h1v1h-1z M81 577h1v1h-1z M81 583h1v1h-1z M77 579h9v1h-9z M81 575h1v9h-1z M80 578h3v3h-3z M79 577h1v1h-1z M79 581h1v1h-1z M83 577h1v1h-1z M83 581h1v1h-1z M78 576h1v1h-1z M78 582h1v1h-1z M84 576h1v1h-1z M84 582h1v1h-1z M81 581h9v1h-9z M85 577h1v9h-1z M84 580h3v3h-3z M83 579h1v1h-1z M83 583h1v1h-1z M87 579h1v1h-1z M87 583h1v1h-1z M82 578h1v1h-1z M82 584h1v1h-1z M88 578h1v1h-1z M88 584h1v1h-1z M85 580h9v1h-9z M89 576h1v9h-1z M88 579h3v3h-3z M87 578h1v1h-1z M87 582h1v1h-1z M91 578h1v1h-1z M91 582h1v1h-1z M86 577h1v1h-1z M86 583h1v1h-1z M92 577h1v1h-1z M92 583h1v1h-1z M94 579h9v1h-9z M98 575h1v9h-1z M97 578h3v3h-3z M96 577h1v1h-1z M96 581h1v1h-1z M100 577h1v1h-1z M100 581h1v1h-1z M95 576h1v1h-1z M95 582h1v1h-1z M101 576h1v1h-1z M101 582h1v1h-1z M94 580h9v1h-9z M98 576h1v9h-1z M97 579h3v3h-3z M96 578h1v1h-1z M96 582h1v1h-1z M100 578h1v1h-1z M100 582h1v1h-1z M95 577h1v1h-1z M95 583h1v1h-1z M101 577h1v1h-1z M101 583h1v1h-1z M99 579h9v1h-9z M103 575h1v9h-1z M102 578h3v3h-3z M101 577h1v1h-1z M101 581h1v1h-1z M105 577h1v1h-1z M105 581h1v1h-1z M100 576h1v1h-1z M100 582h1v1h-1z M106 576h1v1h-1z M106 582h1v1h-1z M102 580h9v1h-9z M106 576h1v9h-1z M105 579h3v3h-3z M104 578h1v1h-1z M104 582h1v1h-1z M108 578h1v1h-1z M108 582h1v1h-1z M103 577h1v1h-1z M103 583h1v1h-1z M109 577h1v1h-1z M109 583h1v1h-1z M103 579h9v1h-9z M107 575h1v9h-1z M106 578h3v3h-3z M105 577h1v1h-1z M105 581h1v1h-1z M109 577h1v1h-1z M109 581h1v1h-1z M104 576h1v1h-1z M104 582h1v1h-1z M110 576h1v1h-1z M110 582h1v1h-1z M106 579h9v1h-9z M110 575h1v9h-1z M109 578h3v3h-3z M108 577h1v1h-1z M108 581h1v1h-1z M112 577h1v1h-1z M112 581h1v1h-1z M107 576h1v1h-1z M107 582h1v1h-1z M113 576h1v1h-1z M113 582h1v1h-1z M112 581h9v1h-9z M116 577h1v9h-1z M115 580h3v3h-3z M114 579h1v1h-1z M114 583h1v1h-1z M118 579h1v1h-1z M118 583h1v1h-1z M113 578h1v1h-1z M113 584h1v1h-1z M119 578h1v1h-1z M119 584h1v1h-1z M116 578h9v1h-9z M120 574h1v9h-1z M119 577h3v3h-3z M118 576h1v1h-1z M118 580h1v1h-1z M122 576h1v1h-1z M122 580h1v1h-1z M117 575h1v1h-1z M117 581h1v1h-1z M123 575h1v1h-1z M123 581h1v1h-1z M120 581h9v1h-9z M124 577h1v9h-1z M123 580h3v3h-3z M122 579h1v1h-1z M122 583h1v1h-1z M126 579h1v1h-1z M126 583h1v1h-1z M121 578h1v1h-1z M121 584h1v1h-1z M127 578h1v1h-1z M127 584h1v1h-1z M123 578h9v1h-9z M127 574h1v9h-1z M126 577h3v3h-3z M125 576h1v1h-1z M125 580h1v1h-1z M129 576h1v1h-1z M129 580h1v1h-1z M124 575h1v1h-1z M124 581h1v1h-1z M130 575h1v1h-1z M130 581h1v1h-1z M126 581h9v1h-9z M130 577h1v9h-1z M129 580h3v3h-3z M128 579h1v1h-1z M128 583h1v1h-1z M132 579h1v1h-1z M132 583h1v1h-1z M127 578h1v1h-1z M127 584h1v1h-1z M133 578h1v1h-1z M133 584h1v1h-1z M127 579h9v1h-9z M131 575h1v9h-1z M130 578h3v3h-3z M129 577h1v1h-1z M129 581h1v1h-1z M133 577h1v1h-1z M133 581h1v1h-1z M128 576h1v1h-1z M128 582h1v1h-1z M134 576h1v1h-1z M134 582h1v1h-1z M130 581h9v1h-9z M134 577h1v9h-1z M133 580h3v3h-3z M132 579h1v1h-1z M132 583h1v1h-1z M136 579h1v1h-1z M136 583h1v1h-1z M131 578h1v1h-1z M131 584h1v1h-1z M137 578h1v1h-1z M137 584h1v1h-1z M134 580h9v1h-9z M138 576h1v9h-1z M137 579h3v3h-3z M136 578h1v1h-1z M136 582h1v1h-1z M140 578h1v1h-1z M140 582h1v1h-1z M135 577h1v1h-1z M135 583h1v1h-1z M141 577h1v1h-1z M141 583h1v1h-1z M144 581h9v1h-9z M148 577h1v9h-1z M147 580h3v3h-3z M146 579h1v1h-1z M146 583h1v1h-1z M150 579h1v1h-1z M150 583h1v1h-1z M145 578h1v1h-1z M145 584h1v1h-1z M151 578h1v1h-1z M151 584h1v1h-1z M144 580h9v1h-9z M148 576h1v9h-1z M147 579h3v3h-3z M146 578h1v1h-1z M146 582h1v1h-1z M150 578h1v1h-1z M150 582h1v1h-1z M145 577h1v1h-1z M145 583h1v1h-1z M151 577h1v1h-1z M151 583h1v1h-1z M148 580h9v1h-9z M152 576h1v9h-1z M151 579h3v3h-3z M150 578h1v1h-1z M150 582h1v1h-1z M154 578h1v1h-1z M154 582h1v1h-1z M149 577h1v1h-1z M149 583h1v1h-1z M155 577h1v1h-1z M155 583h1v1h-1z M158 579h9v1h-9z M162 575h1v9h-1z M161 578h3v3h-3z M160 577h1v1h-1z M160 581h1v1h-1z M164 577h1v1h-1z M164 581h1v1h-1z M159 576h1v1h-1z M159 582h1v1h-1z M165 576h1v1h-1z M165 582h1v1h-1z M231 576h9v1h-9z M235 572h1v9h-1z M234 575h3v3h-3z M233 574h1v1h-1z M233 578h1v1h-1z M237 574h1v1h-1z M237 578h1v1h-1z M232 573h1v1h-1z M232 579h1v1h-1z M238 573h1v1h-1z M238 579h1v1h-1z M231 611h9v1h-9z M235 607h1v9h-1z M234 610h3v3h-3z M233 609h1v1h-1z M233 613h1v1h-1z M237 609h1v1h-1z M237 613h1v1h-1z M232 608h1v1h-1z M232 614h1v1h-1z M238 608h1v1h-1z M238 614h1v1h-1z M232 554h9v1h-9z M236 550h1v9h-1z M235 553h3v3h-3z M234 552h1v1h-1z M234 556h1v1h-1z M238 552h1v1h-1z M238 556h1v1h-1z M233 551h1v1h-1z M233 557h1v1h-1z M239 551h1v1h-1z M239 557h1v1h-1z M235 575h9v1h-9z M239 571h1v9h-1z M238 574h3v3h-3z M237 573h1v1h-1z M237 577h1v1h-1z M241 573h1v1h-1z M241 577h1v1h-1z M236 572h1v1h-1z M236 578h1v1h-1z M242 572h1v1h-1z M242 578h1v1h-1z M301 606h9v1h-9z M305 602h1v9h-1z M304 605h3v3h-3z M303 604h1v1h-1z M303 608h1v1h-1z M307 604h1v1h-1z M307 608h1v1h-1z M302 603h1v1h-1z M302 609h1v1h-1z M308 603h1v1h-1z M308 609h1v1h-1z M302 553h9v1h-9z M306 549h1v9h-1z M305 552h3v3h-3z M304 551h1v1h-1z M304 555h1v1h-1z M308 551h1v1h-1z M308 555h1v1h-1z M303 550h1v1h-1z M303 556h1v1h-1z M309 550h1v1h-1z M309 556h1v1h-1z M329 578h9v1h-9z M333 574h1v9h-1z M332 577h3v3h-3z M331 576h1v1h-1z M331 580h1v1h-1z M335 576h1v1h-1z M335 580h1v1h-1z M330 575h1v1h-1z M330 581h1v1h-1z M336 575h1v1h-1z M336 581h1v1h-1z M333 578h9v1h-9z M337 574h1v9h-1z M336 577h3v3h-3z M335 576h1v1h-1z M335 580h1v1h-1z M339 576h1v1h-1z M339 580h1v1h-1z M334 575h1v1h-1z M334 581h1v1h-1z M340 575h1v1h-1z M340 581h1v1h-1z M333 554h9v1h-9z M337 550h1v9h-1z M336 553h3v3h-3z M335 552h1v1h-1z M335 556h1v1h-1z M339 552h1v1h-1z M339 556h1v1h-1z M334 551h1v1h-1z M334 557h1v1h-1z M340 551h1v1h-1z M340 557h1v1h-1z M333 607h9v1h-9z M337 603h1v9h-1z M336 606h3v3h-3z M335 605h1v1h-1z M335 609h1v1h-1z M339 605h1v1h-1z M339 609h1v1h-1z M334 604h1v1h-1z M334 610h1v1h-1z M340 604h1v1h-1z M340 610h1v1h-1z M333 535h9v1h-9z M337 531h1v9h-1z M336 534h3v3h-3z M335 533h1v1h-1z M335 537h1v1h-1z M339 533h1v1h-1z M339 537h1v1h-1z M334 532h1v1h-1z M334 538h1v1h-1z M340 532h1v1h-1z M340 538h1v1h-1z M336 577h9v1h-9z M340 573h1v9h-1z M339 576h3v3h-3z M338 575h1v1h-1z M338 579h1v1h-1z M342 575h1v1h-1z M342 579h1v1h-1z M337 574h1v1h-1z M337 580h1v1h-1z M343 574h1v1h-1z M343 580h1v1h-1z M335 576h9v1h-9z M339 572h1v9h-1z M338 575h3v3h-3z M337 574h1v1h-1z M337 578h1v1h-1z M341 574h1v1h-1z M341 578h1v1h-1z M336 573h1v1h-1z M336 579h1v1h-1z M342 573h1v1h-1z M342 579h1v1h-1z M337 578h9v1h-9z M341 574h1v9h-1z M340 577h3v3h-3z M339 576h1v1h-1z M339 580h1v1h-1z M343 576h1v1h-1z M343 580h1v1h-1z M338 575h1v1h-1z M338 581h1v1h-1z M344 575h1v1h-1z M344 581h1v1h-1z M339 579h9v1h-9z M343 575h1v9h-1z M342 578h3v3h-3z M341 577h1v1h-1z M341 581h1v1h-1z M345 577h1v1h-1z M345 581h1v1h-1z M340 576h1v1h-1z M340 582h1v1h-1z M346 576h1v1h-1z M346 582h1v1h-1z M340 578h9v1h-9z M344 574h1v9h-1z M343 577h3v3h-3z M342 576h1v1h-1z M342 580h1v1h-1z M346 576h1v1h-1z M346 580h1v1h-1z M341 575h1v1h-1z M341 581h1v1h-1z M347 575h1v1h-1z M347 581h1v1h-1z" fill="#000"/>
<rect x="12.5" y="516.5" width="322" height="12" fill="#fff" stroke="#000" stroke-width="1"/>
<text x="172.4" y="524.8" text-anchor="middle" class="tt">North Sta-2 Oct-3 Pedestals vrs Day (Packet 11237)</text>
</svg>
</body></html>
